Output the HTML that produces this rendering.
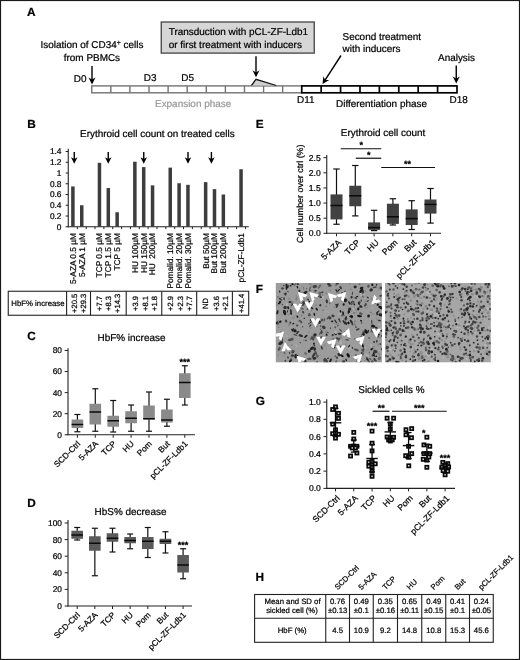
<!DOCTYPE html>
<html><head><meta charset="utf-8"><title>Figure</title>
<style>
html,body{margin:0;padding:0;background:#fff;}
svg{display:block;font-family:"Liberation Sans",sans-serif;filter:grayscale(1);}
text{font-family:"Liberation Sans",sans-serif;text-rendering:geometricPrecision;stroke:#000;stroke-width:0.22px;}
</style></head><body>
<svg width="520" height="660" viewBox="0 0 520 660">
<rect x="0" y="0" width="520" height="660" fill="#fff" stroke="none" stroke-width="1"/>
<rect x="0.5" y="0.5" width="519" height="659" fill="none" stroke="#1a1a1a" stroke-width="1.2"/>
<text x="27" y="15.5" font-size="11.8" font-weight="bold">A</text>
<text x="27.3" y="128.3" font-size="11.8" font-weight="bold">B</text>
<text x="27.3" y="339.6" font-size="11.8" font-weight="bold">C</text>
<text x="27.3" y="507.2" font-size="11.8" font-weight="bold">D</text>
<text x="255.8" y="128.3" font-size="11.8" font-weight="bold">E</text>
<text x="255.8" y="293.1" font-size="11.8" font-weight="bold">F</text>
<text x="255.8" y="404.6" font-size="11.8" font-weight="bold">G</text>
<text x="255.5" y="580.6" font-size="11.8" font-weight="bold">H</text>
<text x="40.5" y="48.4" font-size="9.95">Isolation of CD34<tspan font-size="7" dy="-3.2">+</tspan><tspan dy="3.2"> cells</tspan></text>
<text x="63.75" y="60.75" font-size="9.95">from PBMCs</text>
<line x1="92" y1="66" x2="92" y2="80.1" stroke="#000" stroke-width="1.4"/>
<polygon points="92,84.5 88.5,77.5 92,79.6 95.5,77.5" fill="#000"/>
<text x="73.75" y="82" font-size="9.95">D0</text>
<text x="143.75" y="80.75" font-size="9.95">D3</text>
<text x="181.25" y="80.75" font-size="9.95">D5</text>
<rect x="91.75" y="85.9" width="210" height="6.9" fill="#fff" stroke="#737373" stroke-width="1.4"/>
<line x1="110.84" y1="85.9" x2="110.84" y2="92.8" stroke="#737373" stroke-width="1.4"/>
<line x1="129.93" y1="85.9" x2="129.93" y2="92.8" stroke="#737373" stroke-width="1.4"/>
<line x1="149.02" y1="85.9" x2="149.02" y2="92.8" stroke="#737373" stroke-width="1.4"/>
<line x1="168.11" y1="85.9" x2="168.11" y2="92.8" stroke="#737373" stroke-width="1.4"/>
<line x1="187.2" y1="85.9" x2="187.2" y2="92.8" stroke="#737373" stroke-width="1.4"/>
<line x1="206.3" y1="85.9" x2="206.3" y2="92.8" stroke="#737373" stroke-width="1.4"/>
<line x1="225.39" y1="85.9" x2="225.39" y2="92.8" stroke="#737373" stroke-width="1.4"/>
<line x1="244.48" y1="85.9" x2="244.48" y2="92.8" stroke="#737373" stroke-width="1.4"/>
<line x1="263.57" y1="85.9" x2="263.57" y2="92.8" stroke="#737373" stroke-width="1.4"/>
<line x1="282.66" y1="85.9" x2="282.66" y2="92.8" stroke="#737373" stroke-width="1.4"/>
<rect x="301.75" y="85.9" width="155.25" height="6.9" fill="#fff" stroke="#000" stroke-width="1.7"/>
<line x1="321.16" y1="85.9" x2="321.16" y2="92.8" stroke="#000" stroke-width="1.7"/>
<line x1="340.56" y1="85.9" x2="340.56" y2="92.8" stroke="#000" stroke-width="1.7"/>
<line x1="359.97" y1="85.9" x2="359.97" y2="92.8" stroke="#000" stroke-width="1.7"/>
<line x1="379.38" y1="85.9" x2="379.38" y2="92.8" stroke="#000" stroke-width="1.7"/>
<line x1="398.78" y1="85.9" x2="398.78" y2="92.8" stroke="#000" stroke-width="1.7"/>
<line x1="418.19" y1="85.9" x2="418.19" y2="92.8" stroke="#000" stroke-width="1.7"/>
<line x1="437.59" y1="85.9" x2="437.59" y2="92.8" stroke="#000" stroke-width="1.7"/>
<text x="155" y="107.2" font-size="9.95" fill="#999" style="stroke:#999">Expansion phase</text>
<text x="336" y="107.2" font-size="9.95">Differentiation phase</text>
<text x="297" y="103" font-size="9.95">D11</text>
<text x="449.5" y="102.5" font-size="9.95">D18</text>
<rect x="161.25" y="22" width="153" height="31.1" fill="#d6d6d6" stroke="#444" stroke-width="1.3"/>
<text x="168.75" y="35.4" font-size="9.95">Transduction with pCL-ZF-Ldb1</text>
<text x="168.75" y="47.5" font-size="9.95">or first treatment with inducers</text>
<line x1="256" y1="56.2" x2="256" y2="72.9" stroke="#000" stroke-width="1.4"/>
<polygon points="256,77.3 252.5,70.3 256,72.4 259.5,70.3" fill="#000"/>
<polygon points="251.5,85.4 256,79.3 276.2,85.5" fill="#cfcfcf" stroke="none"/>
<polyline points="251.5,85.4 256,79.3 276.2,85.5" fill="none" stroke="#111" stroke-width="1.3"/>
<text x="342.5" y="40.4" font-size="9.95">Second treatment</text>
<text x="342.5" y="52" font-size="9.95">with inducers</text>
<line x1="341" y1="55.5" x2="324.9" y2="80.31" stroke="#000" stroke-width="1.4"/>
<polygon points="322.5,84 323.38,76.22 325.17,79.89 329.25,80.03" fill="#000"/>
<text x="438" y="60.75" font-size="9.95">Analysis</text>
<line x1="456.25" y1="65.5" x2="456.25" y2="79.1" stroke="#000" stroke-width="1.4"/>
<polygon points="456.25,83.5 452.75,76.5 456.25,78.6 459.75,76.5" fill="#000"/>
<text x="80" y="136.6" font-size="9.95">Erythroid cell count on treated cells</text>
<line x1="68.25" y1="148.75" x2="68.25" y2="227.25" stroke="#222" stroke-width="1.1"/>
<line x1="67.75" y1="226.75" x2="248.75" y2="226.75" stroke="#222" stroke-width="1.1"/>
<line x1="65.65" y1="226.75" x2="68.25" y2="226.75" stroke="#222" stroke-width="1"/>
<text x="61.5" y="229.65" font-size="8.35" text-anchor="end">0</text>
<line x1="65.65" y1="216" x2="68.25" y2="216" stroke="#222" stroke-width="1"/>
<text x="61.5" y="218.9" font-size="8.35" text-anchor="end">0.2</text>
<line x1="65.65" y1="205.25" x2="68.25" y2="205.25" stroke="#222" stroke-width="1"/>
<text x="61.5" y="208.15" font-size="8.35" text-anchor="end">0.4</text>
<line x1="65.65" y1="194.5" x2="68.25" y2="194.5" stroke="#222" stroke-width="1"/>
<text x="61.5" y="197.4" font-size="8.35" text-anchor="end">0.6</text>
<line x1="65.65" y1="183.75" x2="68.25" y2="183.75" stroke="#222" stroke-width="1"/>
<text x="61.5" y="186.65" font-size="8.35" text-anchor="end">0.8</text>
<line x1="65.65" y1="173" x2="68.25" y2="173" stroke="#222" stroke-width="1"/>
<text x="61.5" y="175.9" font-size="8.35" text-anchor="end">1</text>
<line x1="65.65" y1="162.25" x2="68.25" y2="162.25" stroke="#222" stroke-width="1"/>
<text x="61.5" y="165.15" font-size="8.35" text-anchor="end">1.2</text>
<line x1="65.65" y1="151.5" x2="68.25" y2="151.5" stroke="#222" stroke-width="1"/>
<text x="61.5" y="154.4" font-size="8.35" text-anchor="end">1.4</text>
<rect x="71.15" y="186.44" width="3.5" height="40.31" fill="#3d3d3d" stroke="none" stroke-width="1"/>
<rect x="80" y="205.25" width="3.5" height="21.5" fill="#3d3d3d" stroke="none" stroke-width="1"/>
<rect x="97.7" y="162.79" width="3.5" height="63.96" fill="#3d3d3d" stroke="none" stroke-width="1"/>
<rect x="106.55" y="188.05" width="3.5" height="38.7" fill="#3d3d3d" stroke="none" stroke-width="1"/>
<rect x="115.4" y="212.24" width="3.5" height="14.51" fill="#3d3d3d" stroke="none" stroke-width="1"/>
<rect x="133.1" y="161.71" width="3.5" height="65.04" fill="#3d3d3d" stroke="none" stroke-width="1"/>
<rect x="141.95" y="167.09" width="3.5" height="59.66" fill="#3d3d3d" stroke="none" stroke-width="1"/>
<rect x="150.8" y="185.36" width="3.5" height="41.39" fill="#3d3d3d" stroke="none" stroke-width="1"/>
<rect x="168.5" y="167.62" width="3.5" height="59.13" fill="#3d3d3d" stroke="none" stroke-width="1"/>
<rect x="177.35" y="183.21" width="3.5" height="43.54" fill="#3d3d3d" stroke="none" stroke-width="1"/>
<rect x="186.2" y="184.82" width="3.5" height="41.93" fill="#3d3d3d" stroke="none" stroke-width="1"/>
<rect x="203.9" y="182.14" width="3.5" height="44.61" fill="#3d3d3d" stroke="none" stroke-width="1"/>
<rect x="212.75" y="189.12" width="3.5" height="37.62" fill="#3d3d3d" stroke="none" stroke-width="1"/>
<rect x="221.6" y="194.5" width="3.5" height="32.25" fill="#3d3d3d" stroke="none" stroke-width="1"/>
<rect x="239.3" y="169.24" width="3.5" height="57.51" fill="#3d3d3d" stroke="none" stroke-width="1"/>
<line x1="77.33" y1="226.75" x2="77.33" y2="229.15" stroke="#222" stroke-width="1"/>
<line x1="86.18" y1="226.75" x2="86.18" y2="229.15" stroke="#222" stroke-width="1"/>
<line x1="95.03" y1="226.75" x2="95.03" y2="229.15" stroke="#222" stroke-width="1"/>
<line x1="103.88" y1="226.75" x2="103.88" y2="229.15" stroke="#222" stroke-width="1"/>
<line x1="112.72" y1="226.75" x2="112.72" y2="229.15" stroke="#222" stroke-width="1"/>
<line x1="121.58" y1="226.75" x2="121.58" y2="229.15" stroke="#222" stroke-width="1"/>
<line x1="130.43" y1="226.75" x2="130.43" y2="229.15" stroke="#222" stroke-width="1"/>
<line x1="139.28" y1="226.75" x2="139.28" y2="229.15" stroke="#222" stroke-width="1"/>
<line x1="148.12" y1="226.75" x2="148.12" y2="229.15" stroke="#222" stroke-width="1"/>
<line x1="156.98" y1="226.75" x2="156.98" y2="229.15" stroke="#222" stroke-width="1"/>
<line x1="165.82" y1="226.75" x2="165.82" y2="229.15" stroke="#222" stroke-width="1"/>
<line x1="174.68" y1="226.75" x2="174.68" y2="229.15" stroke="#222" stroke-width="1"/>
<line x1="183.53" y1="226.75" x2="183.53" y2="229.15" stroke="#222" stroke-width="1"/>
<line x1="192.38" y1="226.75" x2="192.38" y2="229.15" stroke="#222" stroke-width="1"/>
<line x1="201.22" y1="226.75" x2="201.22" y2="229.15" stroke="#222" stroke-width="1"/>
<line x1="210.07" y1="226.75" x2="210.07" y2="229.15" stroke="#222" stroke-width="1"/>
<line x1="218.93" y1="226.75" x2="218.93" y2="229.15" stroke="#222" stroke-width="1"/>
<line x1="227.78" y1="226.75" x2="227.78" y2="229.15" stroke="#222" stroke-width="1"/>
<line x1="236.62" y1="226.75" x2="236.62" y2="229.15" stroke="#222" stroke-width="1"/>
<line x1="245.47" y1="226.75" x2="245.47" y2="229.15" stroke="#222" stroke-width="1"/>
<line x1="74.25" y1="152" x2="74.25" y2="159.5" stroke="#000" stroke-width="1.4"/>
<polygon points="74.25,163.7 71,157.2 74.25,159 77.5,157.2" fill="#000"/>
<line x1="108.25" y1="152" x2="108.25" y2="159.5" stroke="#000" stroke-width="1.4"/>
<polygon points="108.25,163.7 105,157.2 108.25,159 111.5,157.2" fill="#000"/>
<line x1="143.75" y1="152" x2="143.75" y2="159.5" stroke="#000" stroke-width="1.4"/>
<polygon points="143.75,163.7 140.5,157.2 143.75,159 147,157.2" fill="#000"/>
<line x1="188" y1="152" x2="188" y2="159.5" stroke="#000" stroke-width="1.4"/>
<polygon points="188,163.7 184.75,157.2 188,159 191.25,157.2" fill="#000"/>
<line x1="211.4" y1="152" x2="211.4" y2="159.5" stroke="#000" stroke-width="1.4"/>
<polygon points="211.4,163.7 208.15,157.2 211.4,159 214.65,157.2" fill="#000"/>
<text transform="translate(75.8 233.1) rotate(-90)" font-size="8.3" text-anchor="end">5-AZA 0.5 µM</text>
<text transform="translate(84.65 233.1) rotate(-90)" font-size="8.3" text-anchor="end">5-AZA 1 µM</text>
<text transform="translate(102.35 233.1) rotate(-90)" font-size="8.3" text-anchor="end">TCP 0.5 µM</text>
<text transform="translate(111.2 233.1) rotate(-90)" font-size="8.3" text-anchor="end">TCP 1.5 µM</text>
<text transform="translate(120.05 233.1) rotate(-90)" font-size="8.3" text-anchor="end">TCP 5 µM</text>
<text transform="translate(137.75 233.1) rotate(-90)" font-size="8.3" text-anchor="end">HU 100µM</text>
<text transform="translate(146.6 233.1) rotate(-90)" font-size="8.3" text-anchor="end">HU 150µM</text>
<text transform="translate(155.45 233.1) rotate(-90)" font-size="8.3" text-anchor="end">HU&#160;&#160;200µM</text>
<text transform="translate(173.15 233.1) rotate(-90)" font-size="8.3" text-anchor="end">Pomalid. 10µM</text>
<text transform="translate(182 233.1) rotate(-90)" font-size="8.3" text-anchor="end">Pomalid. 20µM</text>
<text transform="translate(190.85 233.1) rotate(-90)" font-size="8.3" text-anchor="end">Pomalid. 30µM</text>
<text transform="translate(208.55 233.1) rotate(-90)" font-size="8.3" text-anchor="end">But 50µM</text>
<text transform="translate(217.4 233.1) rotate(-90)" font-size="8.3" text-anchor="end">But 100µM</text>
<text transform="translate(226.25 233.1) rotate(-90)" font-size="8.3" text-anchor="end">But 200µM</text>
<text transform="translate(243.95 233.1) rotate(-90)" font-size="8.3" text-anchor="end">pCL-ZF-Ldb1</text>
<rect x="8.25" y="291.25" width="240.45" height="24" fill="none" stroke="#222" stroke-width="1.1"/>
<line x1="66.6" y1="291.25" x2="66.6" y2="315.25" stroke="#222" stroke-width="1.1"/>
<line x1="90.5" y1="291.25" x2="90.5" y2="315.25" stroke="#222" stroke-width="1.1"/>
<line x1="126.2" y1="291.25" x2="126.2" y2="315.25" stroke="#222" stroke-width="1.1"/>
<line x1="161.75" y1="291.25" x2="161.75" y2="315.25" stroke="#222" stroke-width="1.1"/>
<line x1="196.7" y1="291.25" x2="196.7" y2="315.25" stroke="#222" stroke-width="1.1"/>
<line x1="232.4" y1="291.25" x2="232.4" y2="315.25" stroke="#222" stroke-width="1.1"/>
<text x="11.25" y="305.7" font-size="7.8">HbF% increase</text>
<text transform="translate(76.9 303.4) rotate(-90)" font-size="7.6" text-anchor="middle">+20.5</text>
<text transform="translate(86.35 303.4) rotate(-90)" font-size="7.6" text-anchor="middle">+29.3</text>
<text transform="translate(102.45 303.4) rotate(-90)" font-size="7.6" text-anchor="middle">+7.7</text>
<text transform="translate(111 303.4) rotate(-90)" font-size="7.6" text-anchor="middle">+8.3</text>
<text transform="translate(120.15 303.4) rotate(-90)" font-size="7.6" text-anchor="middle">+14.3</text>
<text transform="translate(137.95 303.4) rotate(-90)" font-size="7.6" text-anchor="middle">+3.9</text>
<text transform="translate(147.8 303.4) rotate(-90)" font-size="7.6" text-anchor="middle">+8.1</text>
<text transform="translate(156.75 303.4) rotate(-90)" font-size="7.6" text-anchor="middle">+1.8</text>
<text transform="translate(172.95 303.4) rotate(-90)" font-size="7.6" text-anchor="middle">+2.9</text>
<text transform="translate(182.5 303.4) rotate(-90)" font-size="7.6" text-anchor="middle">+2.3</text>
<text transform="translate(191.75 303.4) rotate(-90)" font-size="7.6" text-anchor="middle">+7.7</text>
<text transform="translate(208.35 303.4) rotate(-90)" font-size="7.6" text-anchor="middle">ND</text>
<text transform="translate(218.6 303.4) rotate(-90)" font-size="7.6" text-anchor="middle">+3.6</text>
<text transform="translate(227.55 303.4) rotate(-90)" font-size="7.6" text-anchor="middle">+2.1</text>
<text transform="translate(243.75 303.4) rotate(-90)" font-size="7.6" text-anchor="middle">+41.4</text>
<text x="97.5" y="341.1" font-size="9.95">HbF% increase</text>
<line x1="68" y1="348.25" x2="68" y2="435.25" stroke="#222" stroke-width="1.1"/>
<line x1="67.5" y1="434.75" x2="195" y2="434.75" stroke="#222" stroke-width="1.1"/>
<line x1="64.7" y1="434.75" x2="68" y2="434.75" stroke="#222" stroke-width="1"/>
<text x="62" y="437.65" font-size="8.35" text-anchor="end">0</text>
<line x1="64.7" y1="413.68" x2="68" y2="413.68" stroke="#222" stroke-width="1"/>
<text x="62" y="416.58" font-size="8.35" text-anchor="end">20</text>
<line x1="64.7" y1="392.61" x2="68" y2="392.61" stroke="#222" stroke-width="1"/>
<text x="62" y="395.51" font-size="8.35" text-anchor="end">40</text>
<line x1="64.7" y1="371.54" x2="68" y2="371.54" stroke="#222" stroke-width="1"/>
<text x="62" y="374.44" font-size="8.35" text-anchor="end">60</text>
<line x1="64.7" y1="350.47" x2="68" y2="350.47" stroke="#222" stroke-width="1"/>
<text x="62" y="353.37" font-size="8.35" text-anchor="end">80</text>
<line x1="77.4" y1="414.5" x2="77.4" y2="431.75" stroke="#111" stroke-width="1.2"/>
<line x1="74.4" y1="414.5" x2="80.4" y2="414.5" stroke="#111" stroke-width="1.2"/>
<line x1="74.4" y1="431.75" x2="80.4" y2="431.75" stroke="#111" stroke-width="1.2"/>
<rect x="71.6" y="419.5" width="11.6" height="8.5" fill="#8a8a8a" stroke="none" stroke-width="1"/>
<line x1="71.6" y1="424.5" x2="83.2" y2="424.5" stroke="#0a0a0a" stroke-width="1.5"/>
<line x1="95.3" y1="388.75" x2="95.3" y2="431.25" stroke="#111" stroke-width="1.2"/>
<line x1="92.3" y1="388.75" x2="98.3" y2="388.75" stroke="#111" stroke-width="1.2"/>
<line x1="92.3" y1="431.25" x2="98.3" y2="431.25" stroke="#111" stroke-width="1.2"/>
<rect x="89.5" y="403.75" width="11.6" height="20.75" fill="#8a8a8a" stroke="none" stroke-width="1"/>
<line x1="89.5" y1="412" x2="101.1" y2="412" stroke="#0a0a0a" stroke-width="1.5"/>
<line x1="113.2" y1="400.5" x2="113.2" y2="432" stroke="#111" stroke-width="1.2"/>
<line x1="110.2" y1="400.5" x2="116.2" y2="400.5" stroke="#111" stroke-width="1.2"/>
<line x1="110.2" y1="432" x2="116.2" y2="432" stroke="#111" stroke-width="1.2"/>
<rect x="107.4" y="415.75" width="11.6" height="11" fill="#8a8a8a" stroke="none" stroke-width="1"/>
<line x1="107.4" y1="420.75" x2="119" y2="420.75" stroke="#0a0a0a" stroke-width="1.5"/>
<line x1="131.1" y1="405" x2="131.1" y2="431.25" stroke="#111" stroke-width="1.2"/>
<line x1="128.1" y1="405" x2="134.1" y2="405" stroke="#111" stroke-width="1.2"/>
<line x1="128.1" y1="431.25" x2="134.1" y2="431.25" stroke="#111" stroke-width="1.2"/>
<rect x="125.3" y="411.25" width="11.6" height="12" fill="#8a8a8a" stroke="none" stroke-width="1"/>
<line x1="125.3" y1="418.25" x2="136.9" y2="418.25" stroke="#0a0a0a" stroke-width="1.5"/>
<line x1="149" y1="392" x2="149" y2="431.25" stroke="#111" stroke-width="1.2"/>
<line x1="146" y1="392" x2="152" y2="392" stroke="#111" stroke-width="1.2"/>
<line x1="146" y1="431.25" x2="152" y2="431.25" stroke="#111" stroke-width="1.2"/>
<rect x="143.2" y="405.5" width="11.6" height="14" fill="#8a8a8a" stroke="none" stroke-width="1"/>
<line x1="143.2" y1="418.75" x2="154.8" y2="418.75" stroke="#0a0a0a" stroke-width="1.5"/>
<line x1="166.9" y1="399.25" x2="166.9" y2="426.25" stroke="#111" stroke-width="1.2"/>
<line x1="163.9" y1="399.25" x2="169.9" y2="399.25" stroke="#111" stroke-width="1.2"/>
<line x1="163.9" y1="426.25" x2="169.9" y2="426.25" stroke="#111" stroke-width="1.2"/>
<rect x="161.1" y="409.5" width="11.6" height="13" fill="#8a8a8a" stroke="none" stroke-width="1"/>
<line x1="161.1" y1="420" x2="172.7" y2="420" stroke="#0a0a0a" stroke-width="1.5"/>
<line x1="184.8" y1="365.75" x2="184.8" y2="405" stroke="#111" stroke-width="1.2"/>
<line x1="181.8" y1="365.75" x2="187.8" y2="365.75" stroke="#111" stroke-width="1.2"/>
<line x1="181.8" y1="405" x2="187.8" y2="405" stroke="#111" stroke-width="1.2"/>
<rect x="179" y="373.25" width="11.6" height="24.75" fill="#8a8a8a" stroke="none" stroke-width="1"/>
<line x1="179" y1="382.5" x2="190.6" y2="382.5" stroke="#0a0a0a" stroke-width="1.5"/>
<text x="184.8" y="365" font-size="9" text-anchor="middle" font-weight="bold">***</text>
<line x1="77.4" y1="434.75" x2="77.4" y2="437.75" stroke="#222" stroke-width="1"/>
<text transform="translate(80.8 444.35) rotate(-45)" font-size="8.3" text-anchor="end">SCD-Ctrl</text>
<line x1="95.3" y1="434.75" x2="95.3" y2="437.75" stroke="#222" stroke-width="1"/>
<text transform="translate(98.7 444.35) rotate(-45)" font-size="8.3" text-anchor="end">5-AZA</text>
<line x1="113.2" y1="434.75" x2="113.2" y2="437.75" stroke="#222" stroke-width="1"/>
<text transform="translate(116.6 444.35) rotate(-45)" font-size="8.3" text-anchor="end">TCP</text>
<line x1="131.1" y1="434.75" x2="131.1" y2="437.75" stroke="#222" stroke-width="1"/>
<text transform="translate(134.5 444.35) rotate(-45)" font-size="8.3" text-anchor="end">HU</text>
<line x1="149" y1="434.75" x2="149" y2="437.75" stroke="#222" stroke-width="1"/>
<text transform="translate(152.4 444.35) rotate(-45)" font-size="8.3" text-anchor="end">Pom</text>
<line x1="166.9" y1="434.75" x2="166.9" y2="437.75" stroke="#222" stroke-width="1"/>
<text transform="translate(170.3 444.35) rotate(-45)" font-size="8.3" text-anchor="end">But</text>
<line x1="184.8" y1="434.75" x2="184.8" y2="437.75" stroke="#222" stroke-width="1"/>
<text transform="translate(188.2 444.35) rotate(-45)" font-size="8.3" text-anchor="end">pCL-ZF-Ldb1</text>
<text x="94.6" y="515" font-size="9.95">HbS% decrease</text>
<line x1="68" y1="520" x2="68" y2="606.5" stroke="#222" stroke-width="1.1"/>
<line x1="67.5" y1="606" x2="192" y2="606" stroke="#222" stroke-width="1.1"/>
<line x1="64.7" y1="606" x2="68" y2="606" stroke="#222" stroke-width="1"/>
<text x="62" y="608.9" font-size="8.35" text-anchor="end">0</text>
<line x1="64.7" y1="589.4" x2="68" y2="589.4" stroke="#222" stroke-width="1"/>
<text x="62" y="592.3" font-size="8.35" text-anchor="end">20</text>
<line x1="64.7" y1="572.8" x2="68" y2="572.8" stroke="#222" stroke-width="1"/>
<text x="62" y="575.7" font-size="8.35" text-anchor="end">40</text>
<line x1="64.7" y1="556.2" x2="68" y2="556.2" stroke="#222" stroke-width="1"/>
<text x="62" y="559.1" font-size="8.35" text-anchor="end">60</text>
<line x1="64.7" y1="539.6" x2="68" y2="539.6" stroke="#222" stroke-width="1"/>
<text x="62" y="542.5" font-size="8.35" text-anchor="end">80</text>
<line x1="64.7" y1="523" x2="68" y2="523" stroke="#222" stroke-width="1"/>
<text x="62" y="525.9" font-size="8.35" text-anchor="end">100</text>
<line x1="77.2" y1="527.5" x2="77.2" y2="540" stroke="#111" stroke-width="1.2"/>
<line x1="74.2" y1="527.5" x2="80.2" y2="527.5" stroke="#111" stroke-width="1.2"/>
<line x1="74.2" y1="540" x2="80.2" y2="540" stroke="#111" stroke-width="1.2"/>
<rect x="71.4" y="530.75" width="11.6" height="8" fill="#5a5a5a" stroke="none" stroke-width="1"/>
<line x1="71.4" y1="535" x2="83" y2="535" stroke="#0a0a0a" stroke-width="1.5"/>
<line x1="94.85" y1="528.25" x2="94.85" y2="575.75" stroke="#111" stroke-width="1.2"/>
<line x1="91.85" y1="528.25" x2="97.85" y2="528.25" stroke="#111" stroke-width="1.2"/>
<line x1="91.85" y1="575.75" x2="97.85" y2="575.75" stroke="#111" stroke-width="1.2"/>
<rect x="89.05" y="536.25" width="11.6" height="14.5" fill="#5a5a5a" stroke="none" stroke-width="1"/>
<line x1="89.05" y1="543.25" x2="100.65" y2="543.25" stroke="#0a0a0a" stroke-width="1.5"/>
<line x1="112.5" y1="528.25" x2="112.5" y2="552" stroke="#111" stroke-width="1.2"/>
<line x1="109.5" y1="528.25" x2="115.5" y2="528.25" stroke="#111" stroke-width="1.2"/>
<line x1="109.5" y1="552" x2="115.5" y2="552" stroke="#111" stroke-width="1.2"/>
<rect x="106.7" y="533.25" width="11.6" height="8.5" fill="#5a5a5a" stroke="none" stroke-width="1"/>
<line x1="106.7" y1="538.25" x2="118.3" y2="538.25" stroke="#0a0a0a" stroke-width="1.5"/>
<line x1="130.15" y1="534" x2="130.15" y2="548.75" stroke="#111" stroke-width="1.2"/>
<line x1="127.15" y1="534" x2="133.15" y2="534" stroke="#111" stroke-width="1.2"/>
<line x1="127.15" y1="548.75" x2="133.15" y2="548.75" stroke="#111" stroke-width="1.2"/>
<rect x="124.35" y="537" width="11.6" height="6.25" fill="#5a5a5a" stroke="none" stroke-width="1"/>
<line x1="124.35" y1="540.5" x2="135.95" y2="540.5" stroke="#0a0a0a" stroke-width="1.5"/>
<line x1="147.8" y1="527.5" x2="147.8" y2="557.5" stroke="#111" stroke-width="1.2"/>
<line x1="144.8" y1="527.5" x2="150.8" y2="527.5" stroke="#111" stroke-width="1.2"/>
<line x1="144.8" y1="557.5" x2="150.8" y2="557.5" stroke="#111" stroke-width="1.2"/>
<rect x="142" y="537" width="11.6" height="12" fill="#5a5a5a" stroke="none" stroke-width="1"/>
<line x1="142" y1="541.25" x2="153.6" y2="541.25" stroke="#0a0a0a" stroke-width="1.5"/>
<line x1="165.45" y1="531.75" x2="165.45" y2="553" stroke="#111" stroke-width="1.2"/>
<line x1="162.45" y1="531.75" x2="168.45" y2="531.75" stroke="#111" stroke-width="1.2"/>
<line x1="162.45" y1="553" x2="168.45" y2="553" stroke="#111" stroke-width="1.2"/>
<rect x="159.65" y="538.75" width="11.6" height="5.25" fill="#5a5a5a" stroke="none" stroke-width="1"/>
<line x1="159.65" y1="541.25" x2="171.25" y2="541.25" stroke="#0a0a0a" stroke-width="1.5"/>
<line x1="183.1" y1="548.75" x2="183.1" y2="578.75" stroke="#111" stroke-width="1.2"/>
<line x1="180.1" y1="548.75" x2="186.1" y2="548.75" stroke="#111" stroke-width="1.2"/>
<line x1="180.1" y1="578.75" x2="186.1" y2="578.75" stroke="#111" stroke-width="1.2"/>
<rect x="177.3" y="555" width="11.6" height="17.5" fill="#5a5a5a" stroke="none" stroke-width="1"/>
<line x1="177.3" y1="565" x2="188.9" y2="565" stroke="#0a0a0a" stroke-width="1.5"/>
<text x="183.1" y="547.5" font-size="9" text-anchor="middle" font-weight="bold">***</text>
<line x1="77.2" y1="606" x2="77.2" y2="609" stroke="#222" stroke-width="1"/>
<text transform="translate(80.6 615.6) rotate(-45)" font-size="8.3" text-anchor="end">SCD-Ctrl</text>
<line x1="94.85" y1="606" x2="94.85" y2="609" stroke="#222" stroke-width="1"/>
<text transform="translate(98.25 615.6) rotate(-45)" font-size="8.3" text-anchor="end">5-AZA</text>
<line x1="112.5" y1="606" x2="112.5" y2="609" stroke="#222" stroke-width="1"/>
<text transform="translate(115.9 615.6) rotate(-45)" font-size="8.3" text-anchor="end">TCP</text>
<line x1="130.15" y1="606" x2="130.15" y2="609" stroke="#222" stroke-width="1"/>
<text transform="translate(133.55 615.6) rotate(-45)" font-size="8.3" text-anchor="end">HU</text>
<line x1="147.8" y1="606" x2="147.8" y2="609" stroke="#222" stroke-width="1"/>
<text transform="translate(151.2 615.6) rotate(-45)" font-size="8.3" text-anchor="end">Pom</text>
<line x1="165.45" y1="606" x2="165.45" y2="609" stroke="#222" stroke-width="1"/>
<text transform="translate(168.85 615.6) rotate(-45)" font-size="8.3" text-anchor="end">But</text>
<line x1="183.1" y1="606" x2="183.1" y2="609" stroke="#222" stroke-width="1"/>
<text transform="translate(186.5 615.6) rotate(-45)" font-size="8.3" text-anchor="end">pCL-ZF-Ldb1</text>
<text x="340.75" y="135.75" font-size="9.95">Erythroid cell count</text>
<line x1="326.75" y1="155" x2="326.75" y2="233.8" stroke="#222" stroke-width="1.1"/>
<line x1="326.25" y1="233.3" x2="441" y2="233.3" stroke="#222" stroke-width="1.1"/>
<line x1="323.45" y1="233.3" x2="326.75" y2="233.3" stroke="#222" stroke-width="1"/>
<text x="320.7" y="236.3" font-size="8.6" text-anchor="end">0.0</text>
<line x1="323.45" y1="218.18" x2="326.75" y2="218.18" stroke="#222" stroke-width="1"/>
<text x="320.7" y="221.18" font-size="8.6" text-anchor="end">0.5</text>
<line x1="323.45" y1="203.05" x2="326.75" y2="203.05" stroke="#222" stroke-width="1"/>
<text x="320.7" y="206.05" font-size="8.6" text-anchor="end">1.0</text>
<line x1="323.45" y1="187.93" x2="326.75" y2="187.93" stroke="#222" stroke-width="1"/>
<text x="320.7" y="190.93" font-size="8.6" text-anchor="end">1.5</text>
<line x1="323.45" y1="172.8" x2="326.75" y2="172.8" stroke="#222" stroke-width="1"/>
<text x="320.7" y="175.8" font-size="8.6" text-anchor="end">2.0</text>
<line x1="323.45" y1="157.68" x2="326.75" y2="157.68" stroke="#222" stroke-width="1"/>
<text x="320.7" y="160.68" font-size="8.6" text-anchor="end">2.5</text>
<text transform="translate(303.3 243) rotate(-90)" font-size="8.8" textLength="98.5" lengthAdjust="spacingAndGlyphs">Cell number over ctrl (%)</text>
<line x1="336.5" y1="169" x2="336.5" y2="224.25" stroke="#111" stroke-width="1.2"/>
<line x1="333.3" y1="169" x2="339.7" y2="169" stroke="#111" stroke-width="1.2"/>
<line x1="333.3" y1="224.25" x2="339.7" y2="224.25" stroke="#111" stroke-width="1.2"/>
<rect x="330.5" y="194.4" width="12" height="25" fill="#414141" stroke="none" stroke-width="1"/>
<line x1="330.5" y1="205.5" x2="342.5" y2="205.5" stroke="#0a0a0a" stroke-width="1.5"/>
<line x1="355.3" y1="165.5" x2="355.3" y2="215.9" stroke="#111" stroke-width="1.2"/>
<line x1="352.1" y1="165.5" x2="358.5" y2="165.5" stroke="#111" stroke-width="1.2"/>
<line x1="352.1" y1="215.9" x2="358.5" y2="215.9" stroke="#111" stroke-width="1.2"/>
<rect x="349.3" y="185.75" width="12" height="20.5" fill="#414141" stroke="none" stroke-width="1"/>
<line x1="349.3" y1="195.75" x2="361.3" y2="195.75" stroke="#0a0a0a" stroke-width="1.5"/>
<line x1="374.1" y1="210.3" x2="374.1" y2="230.6" stroke="#111" stroke-width="1.2"/>
<line x1="370.9" y1="210.3" x2="377.3" y2="210.3" stroke="#111" stroke-width="1.2"/>
<line x1="370.9" y1="230.6" x2="377.3" y2="230.6" stroke="#111" stroke-width="1.2"/>
<rect x="368.1" y="222.4" width="12" height="7.5" fill="#414141" stroke="none" stroke-width="1"/>
<line x1="368.1" y1="227.6" x2="380.1" y2="227.6" stroke="#0a0a0a" stroke-width="1.5"/>
<line x1="392.9" y1="198.75" x2="392.9" y2="225" stroke="#111" stroke-width="1.2"/>
<line x1="389.7" y1="198.75" x2="396.1" y2="198.75" stroke="#111" stroke-width="1.2"/>
<line x1="389.7" y1="225" x2="396.1" y2="225" stroke="#111" stroke-width="1.2"/>
<rect x="386.9" y="203.7" width="12" height="20.2" fill="#414141" stroke="none" stroke-width="1"/>
<line x1="386.9" y1="216.8" x2="398.9" y2="216.8" stroke="#0a0a0a" stroke-width="1.5"/>
<line x1="411.7" y1="200.7" x2="411.7" y2="229.5" stroke="#111" stroke-width="1.2"/>
<line x1="408.5" y1="200.7" x2="414.9" y2="200.7" stroke="#111" stroke-width="1.2"/>
<line x1="408.5" y1="229.5" x2="414.9" y2="229.5" stroke="#111" stroke-width="1.2"/>
<rect x="405.7" y="209.4" width="12" height="15.6" fill="#414141" stroke="none" stroke-width="1"/>
<line x1="405.7" y1="218.6" x2="417.7" y2="218.6" stroke="#0a0a0a" stroke-width="1.5"/>
<line x1="430.5" y1="188.5" x2="430.5" y2="223.1" stroke="#111" stroke-width="1.2"/>
<line x1="427.3" y1="188.5" x2="433.7" y2="188.5" stroke="#111" stroke-width="1.2"/>
<line x1="427.3" y1="223.1" x2="433.7" y2="223.1" stroke="#111" stroke-width="1.2"/>
<rect x="424.5" y="199.5" width="12" height="14.1" fill="#414141" stroke="none" stroke-width="1"/>
<line x1="424.5" y1="204.4" x2="436.5" y2="204.4" stroke="#0a0a0a" stroke-width="1.5"/>
<line x1="340.75" y1="148.75" x2="381.25" y2="148.75" stroke="#111" stroke-width="1.2"/>
<text x="361.25" y="148" font-size="9" text-anchor="middle" font-weight="bold">*</text>
<line x1="355.75" y1="158.25" x2="381.25" y2="158.25" stroke="#111" stroke-width="1.2"/>
<text x="368.75" y="157.5" font-size="9" text-anchor="middle" font-weight="bold">*</text>
<line x1="381.25" y1="167.5" x2="435" y2="167.5" stroke="#111" stroke-width="1.2"/>
<text x="407.5" y="166.8" font-size="9" text-anchor="middle" font-weight="bold">**</text>
<line x1="336.5" y1="233.3" x2="336.5" y2="236.3" stroke="#222" stroke-width="1"/>
<text transform="translate(341.7 243.1) rotate(-45)" font-size="8.6" text-anchor="end">5-AZA</text>
<line x1="355.3" y1="233.3" x2="355.3" y2="236.3" stroke="#222" stroke-width="1"/>
<text transform="translate(360.5 243.1) rotate(-45)" font-size="8.6" text-anchor="end">TCP</text>
<line x1="374.1" y1="233.3" x2="374.1" y2="236.3" stroke="#222" stroke-width="1"/>
<text transform="translate(379.3 243.1) rotate(-45)" font-size="8.6" text-anchor="end">HU</text>
<line x1="392.9" y1="233.3" x2="392.9" y2="236.3" stroke="#222" stroke-width="1"/>
<text transform="translate(398.1 243.1) rotate(-45)" font-size="8.6" text-anchor="end">Pom</text>
<line x1="411.7" y1="233.3" x2="411.7" y2="236.3" stroke="#222" stroke-width="1"/>
<text transform="translate(416.9 243.1) rotate(-45)" font-size="8.6" text-anchor="end">But</text>
<line x1="430.5" y1="233.3" x2="430.5" y2="236.3" stroke="#222" stroke-width="1"/>
<text transform="translate(435.7 243.1) rotate(-45)" font-size="8.6" text-anchor="end">pCL-ZF-Ldb1</text>
<clipPath id="clip12"><rect x="275.8" y="283" width="106.1" height="79.3"/></clipPath>
<rect x="275.8" y="283" width="106.1" height="79.3" fill="#9c9c9c" stroke="none" stroke-width="1"/>
<g clip-path="url(#clip12)">
<ellipse cx="326.15" cy="335.14" rx="1.39" ry="1.26" fill="#858585" transform="rotate(86 326.15 335.14)"/>
<ellipse cx="344.07" cy="319.5" rx="1.79" ry="1.16" fill="#858585" transform="rotate(26 344.07 319.5)"/>
<ellipse cx="322.49" cy="295.87" rx="1.86" ry="0.84" fill="#888" transform="rotate(92 322.49 295.87)"/>
<ellipse cx="362.72" cy="337.04" rx="1.03" ry="0.69" fill="#888" transform="rotate(164 362.72 337.04)"/>
<ellipse cx="329.8" cy="290.21" rx="1.27" ry="1.05" fill="#8c8c8c" transform="rotate(24 329.8 290.21)"/>
<ellipse cx="308.96" cy="332.28" rx="1.12" ry="0.65" fill="#888" transform="rotate(15 308.96 332.28)"/>
<ellipse cx="340.25" cy="335.98" rx="1.4" ry="0.91" fill="#8c8c8c" transform="rotate(14 340.25 335.98)"/>
<ellipse cx="296.16" cy="345.43" rx="1.49" ry="0.65" fill="#b0b0b0" transform="rotate(55 296.16 345.43)"/>
<ellipse cx="302.58" cy="309.58" rx="0.8" ry="0.94" fill="#858585" transform="rotate(77 302.58 309.58)"/>
<ellipse cx="330.87" cy="300.62" rx="1.01" ry="0.86" fill="#8c8c8c" transform="rotate(135 330.87 300.62)"/>
<ellipse cx="299.21" cy="289.18" rx="0.97" ry="0.63" fill="#8c8c8c" transform="rotate(114 299.21 289.18)"/>
<ellipse cx="281.32" cy="319.42" rx="1.07" ry="0.77" fill="#b0b0b0" transform="rotate(153 281.32 319.42)"/>
<ellipse cx="301.25" cy="361.39" rx="1.01" ry="0.98" fill="#b0b0b0" transform="rotate(39 301.25 361.39)"/>
<ellipse cx="340.19" cy="358.15" rx="1.32" ry="1.3" fill="#b0b0b0" transform="rotate(90 340.19 358.15)"/>
<ellipse cx="302.07" cy="292.2" rx="0.79" ry="0.67" fill="#858585" transform="rotate(141 302.07 292.2)"/>
<ellipse cx="364.07" cy="333.71" rx="1.12" ry="0.62" fill="#8c8c8c" transform="rotate(123 364.07 333.71)"/>
<ellipse cx="323" cy="341.59" rx="1.1" ry="1.07" fill="#888" transform="rotate(92 323 341.59)"/>
<ellipse cx="349.64" cy="338.88" rx="1.14" ry="0.45" fill="#b0b0b0" transform="rotate(0 349.64 338.88)"/>
<ellipse cx="278.69" cy="327.25" rx="0.93" ry="0.68" fill="#858585" transform="rotate(176 278.69 327.25)"/>
<ellipse cx="335.21" cy="332.54" rx="2.13" ry="1.01" fill="#b0b0b0" transform="rotate(105 335.21 332.54)"/>
<ellipse cx="371.39" cy="345.59" rx="2" ry="0.97" fill="#b0b0b0" transform="rotate(69 371.39 345.59)"/>
<ellipse cx="292.87" cy="337.62" rx="1.31" ry="0.83" fill="#888" transform="rotate(163 292.87 337.62)"/>
<ellipse cx="332.56" cy="345.58" rx="1.48" ry="0.6" fill="#888" transform="rotate(48 332.56 345.58)"/>
<ellipse cx="359.93" cy="337.45" rx="1.06" ry="0.89" fill="#888" transform="rotate(122 359.93 337.45)"/>
<ellipse cx="337.41" cy="288.69" rx="1.43" ry="0.56" fill="#888" transform="rotate(16 337.41 288.69)"/>
<ellipse cx="308.95" cy="338.17" rx="1.45" ry="0.65" fill="#8c8c8c" transform="rotate(87 308.95 338.17)"/>
<ellipse cx="322.88" cy="297.22" rx="1.48" ry="1.19" fill="#b0b0b0" transform="rotate(17 322.88 297.22)"/>
<ellipse cx="299.6" cy="359.44" rx="1.44" ry="0.65" fill="#858585" transform="rotate(92 299.6 359.44)"/>
<ellipse cx="291.36" cy="354.58" rx="1.12" ry="0.75" fill="#8c8c8c" transform="rotate(127 291.36 354.58)"/>
<ellipse cx="324.62" cy="345.29" rx="0.9" ry="0.67" fill="#858585" transform="rotate(142 324.62 345.29)"/>
<ellipse cx="331.12" cy="317.89" rx="1.01" ry="0.67" fill="#888" transform="rotate(63 331.12 317.89)"/>
<ellipse cx="353.49" cy="308.56" rx="1.52" ry="0.64" fill="#b0b0b0" transform="rotate(85 353.49 308.56)"/>
<ellipse cx="360.78" cy="293.67" rx="1.7" ry="0.71" fill="#8c8c8c" transform="rotate(168 360.78 293.67)"/>
<ellipse cx="339.33" cy="313.85" rx="1.25" ry="0.87" fill="#b0b0b0" transform="rotate(5 339.33 313.85)"/>
<ellipse cx="345.64" cy="346.13" rx="1.39" ry="0.64" fill="#8c8c8c" transform="rotate(73 345.64 346.13)"/>
<ellipse cx="316.09" cy="313.5" rx="0.95" ry="0.62" fill="#858585" transform="rotate(45 316.09 313.5)"/>
<ellipse cx="378.83" cy="324.45" rx="1.33" ry="0.76" fill="#b0b0b0" transform="rotate(138 378.83 324.45)"/>
<ellipse cx="366.93" cy="307.67" rx="1.8" ry="0.71" fill="#888" transform="rotate(145 366.93 307.67)"/>
<ellipse cx="296.53" cy="298.61" rx="2.29" ry="1.21" fill="#858585" transform="rotate(98 296.53 298.61)"/>
<ellipse cx="278.1" cy="355.23" rx="1.29" ry="0.74" fill="#8c8c8c" transform="rotate(94 278.1 355.23)"/>
<ellipse cx="344.92" cy="346.5" rx="1.35" ry="0.92" fill="#b0b0b0" transform="rotate(69 344.92 346.5)"/>
<ellipse cx="319.82" cy="323.97" rx="0.99" ry="0.72" fill="#b0b0b0" transform="rotate(136 319.82 323.97)"/>
<ellipse cx="314.68" cy="291.17" rx="1.76" ry="1.37" fill="#8c8c8c" transform="rotate(67 314.68 291.17)"/>
<ellipse cx="283.42" cy="355.71" rx="0.86" ry="0.53" fill="#858585" transform="rotate(10 283.42 355.71)"/>
<ellipse cx="276.69" cy="302.79" rx="1.1" ry="0.66" fill="#888" transform="rotate(144 276.69 302.79)"/>
<ellipse cx="342.56" cy="319.55" rx="1.52" ry="0.69" fill="#b0b0b0" transform="rotate(118 342.56 319.55)"/>
<ellipse cx="311.59" cy="287.66" rx="1.19" ry="0.73" fill="#b0b0b0" transform="rotate(87 311.59 287.66)"/>
<ellipse cx="290.3" cy="305.03" rx="1.09" ry="0.78" fill="#888" transform="rotate(148 290.3 305.03)"/>
<ellipse cx="356.15" cy="309.94" rx="1.11" ry="0.99" fill="#8c8c8c" transform="rotate(114 356.15 309.94)"/>
<ellipse cx="341.53" cy="288.1" rx="1.34" ry="0.55" fill="#b0b0b0" transform="rotate(97 341.53 288.1)"/>
<ellipse cx="376.84" cy="342.07" rx="1.59" ry="0.51" fill="#8c8c8c" transform="rotate(105 376.84 342.07)"/>
<ellipse cx="328.05" cy="311.76" rx="0.96" ry="0.56" fill="#b0b0b0" transform="rotate(63 328.05 311.76)"/>
<ellipse cx="381.64" cy="309.2" rx="0.92" ry="0.92" fill="#8c8c8c" transform="rotate(160 381.64 309.2)"/>
<ellipse cx="375.57" cy="332.21" rx="1.25" ry="0.8" fill="#858585" transform="rotate(118 375.57 332.21)"/>
<ellipse cx="317.95" cy="323.9" rx="1.91" ry="0.94" fill="#888" transform="rotate(155 317.95 323.9)"/>
<ellipse cx="293.17" cy="321.5" rx="0.75" ry="0.58" fill="#b0b0b0" transform="rotate(50 293.17 321.5)"/>
<ellipse cx="365.05" cy="301.49" rx="1.22" ry="0.71" fill="#888" transform="rotate(86 365.05 301.49)"/>
<ellipse cx="377.56" cy="319.35" rx="1.7" ry="1" fill="#8c8c8c" transform="rotate(49 377.56 319.35)"/>
<ellipse cx="371.61" cy="298.58" rx="1.46" ry="0.99" fill="#8c8c8c" transform="rotate(110 371.61 298.58)"/>
<ellipse cx="351.59" cy="311.17" rx="0.8" ry="0.82" fill="#888" transform="rotate(52 351.59 311.17)"/>
<ellipse cx="347.1" cy="305.99" rx="1.44" ry="0.64" fill="#8c8c8c" transform="rotate(76 347.1 305.99)"/>
<ellipse cx="363.97" cy="294.28" rx="1.07" ry="0.65" fill="#b0b0b0" transform="rotate(140 363.97 294.28)"/>
<ellipse cx="334.34" cy="323.61" rx="1.61" ry="0.55" fill="#888" transform="rotate(41 334.34 323.61)"/>
<ellipse cx="367.08" cy="355.14" rx="2.17" ry="0.79" fill="#b0b0b0" transform="rotate(37 367.08 355.14)"/>
<ellipse cx="365.35" cy="291.59" rx="1.17" ry="0.9" fill="#888" transform="rotate(19 365.35 291.59)"/>
<ellipse cx="341.3" cy="297.7" rx="1.61" ry="0.68" fill="#888" transform="rotate(88 341.3 297.7)"/>
<ellipse cx="313.91" cy="314.73" rx="1.04" ry="0.75" fill="#8c8c8c" transform="rotate(161 313.91 314.73)"/>
<ellipse cx="334.12" cy="326.14" rx="1.59" ry="0.77" fill="#b0b0b0" transform="rotate(60 334.12 326.14)"/>
<ellipse cx="283.51" cy="336.75" rx="0.92" ry="0.67" fill="#b0b0b0" transform="rotate(143 283.51 336.75)"/>
<ellipse cx="355.03" cy="324.57" rx="2.11" ry="1.1" fill="#888" transform="rotate(65 355.03 324.57)"/>
<ellipse cx="306.23" cy="289.51" rx="0.72" ry="0.77" fill="#888" transform="rotate(11 306.23 289.51)"/>
<ellipse cx="291.75" cy="345.38" rx="1.03" ry="1.04" fill="#858585" transform="rotate(154 291.75 345.38)"/>
<ellipse cx="379.56" cy="300.71" rx="1.07" ry="0.82" fill="#858585" transform="rotate(126 379.56 300.71)"/>
<ellipse cx="355.54" cy="348.34" rx="1.53" ry="1.17" fill="#b0b0b0" transform="rotate(37 355.54 348.34)"/>
<ellipse cx="377.07" cy="356.88" rx="0.85" ry="0.75" fill="#b0b0b0" transform="rotate(74 377.07 356.88)"/>
<ellipse cx="310.31" cy="327.9" rx="1.19" ry="1.09" fill="#888" transform="rotate(56 310.31 327.9)"/>
<ellipse cx="375.22" cy="287.57" rx="1.58" ry="0.52" fill="#858585" transform="rotate(172 375.22 287.57)"/>
<ellipse cx="340.48" cy="341.92" rx="2.55" ry="1.34" fill="#b0b0b0" transform="rotate(78 340.48 341.92)"/>
<ellipse cx="372.5" cy="308.11" rx="1.09" ry="0.58" fill="#b0b0b0" transform="rotate(36 372.5 308.11)"/>
<ellipse cx="299.07" cy="288.35" rx="1" ry="0.75" fill="#8c8c8c" transform="rotate(29 299.07 288.35)"/>
<ellipse cx="297.28" cy="354.74" rx="1.64" ry="1.16" fill="#8c8c8c" transform="rotate(152 297.28 354.74)"/>
<ellipse cx="347.73" cy="329.82" rx="1.26" ry="0.88" fill="#8c8c8c" transform="rotate(20 347.73 329.82)"/>
<ellipse cx="344.77" cy="299.92" rx="1" ry="0.95" fill="#888" transform="rotate(123 344.77 299.92)"/>
<ellipse cx="330.61" cy="317.41" rx="0.95" ry="0.97" fill="#858585" transform="rotate(102 330.61 317.41)"/>
<ellipse cx="294.81" cy="328.77" rx="1.17" ry="0.66" fill="#858585" transform="rotate(119 294.81 328.77)"/>
<ellipse cx="280.4" cy="320.42" rx="1.25" ry="0.73" fill="#858585" transform="rotate(168 280.4 320.42)"/>
<ellipse cx="340.39" cy="337.99" rx="1.91" ry="1.16" fill="#858585" transform="rotate(142 340.39 337.99)"/>
<ellipse cx="378.8" cy="353.86" rx="1.42" ry="0.93" fill="#858585" transform="rotate(45 378.8 353.86)"/>
<ellipse cx="317.48" cy="326.49" rx="1.66" ry="0.72" fill="#888" transform="rotate(149 317.48 326.49)"/>
<ellipse cx="289.16" cy="298.86" rx="1.5" ry="0.9" fill="#858585" transform="rotate(3 289.16 298.86)"/>
<ellipse cx="288.77" cy="325.27" rx="0.88" ry="0.87" fill="#858585" transform="rotate(127 288.77 325.27)"/>
<ellipse cx="364.9" cy="347.7" rx="0.92" ry="0.64" fill="#b0b0b0" transform="rotate(72 364.9 347.7)"/>
<ellipse cx="365.16" cy="360.54" rx="0.62" ry="0.47" fill="#888" transform="rotate(160 365.16 360.54)"/>
<ellipse cx="303.72" cy="340.19" rx="0.98" ry="0.76" fill="#858585" transform="rotate(17 303.72 340.19)"/>
<ellipse cx="350.18" cy="348.32" rx="2.22" ry="1.29" fill="#b0b0b0" transform="rotate(179 350.18 348.32)"/>
<ellipse cx="287.03" cy="304.69" rx="1.9" ry="0.94" fill="#b0b0b0" transform="rotate(61 287.03 304.69)"/>
<ellipse cx="288.49" cy="314.74" rx="1.43" ry="0.73" fill="#8c8c8c" transform="rotate(155 288.49 314.74)"/>
<ellipse cx="373.01" cy="314.15" rx="1.79" ry="0.67" fill="#8c8c8c" transform="rotate(159 373.01 314.15)"/>
<ellipse cx="292.46" cy="318.32" rx="1.32" ry="0.81" fill="#8c8c8c" transform="rotate(130 292.46 318.32)"/>
<ellipse cx="280.79" cy="352.27" rx="1.27" ry="0.87" fill="#8c8c8c" transform="rotate(175 280.79 352.27)"/>
<ellipse cx="373.6" cy="346.71" rx="1.43" ry="1.07" fill="#888" transform="rotate(1 373.6 346.71)"/>
<ellipse cx="324.85" cy="311.19" rx="0.75" ry="0.65" fill="#b0b0b0" transform="rotate(42 324.85 311.19)"/>
<ellipse cx="296.49" cy="315.84" rx="1.32" ry="0.54" fill="#888" transform="rotate(19 296.49 315.84)"/>
<ellipse cx="380.22" cy="337.28" rx="0.99" ry="0.87" fill="#858585" transform="rotate(154 380.22 337.28)"/>
<ellipse cx="314.82" cy="296.66" rx="0.9" ry="0.56" fill="#888" transform="rotate(135 314.82 296.66)"/>
<ellipse cx="313.17" cy="320.9" rx="1.23" ry="0.56" fill="#858585" transform="rotate(18 313.17 320.9)"/>
<ellipse cx="354.18" cy="307.19" rx="1.02" ry="0.67" fill="#888" transform="rotate(92 354.18 307.19)"/>
<ellipse cx="301.34" cy="308.1" rx="0.69" ry="0.54" fill="#b0b0b0" transform="rotate(74 301.34 308.1)"/>
<ellipse cx="283.47" cy="351.18" rx="1.32" ry="0.4" fill="#888" transform="rotate(160 283.47 351.18)"/>
<ellipse cx="378.05" cy="344.71" rx="1.45" ry="0.84" fill="#8c8c8c" transform="rotate(43 378.05 344.71)"/>
<ellipse cx="326.32" cy="293.48" rx="1.48" ry="0.8" fill="#888" transform="rotate(59 326.32 293.48)"/>
<ellipse cx="352.2" cy="301.53" rx="1.05" ry="1.02" fill="#888" transform="rotate(149 352.2 301.53)"/>
<ellipse cx="278.14" cy="322.1" rx="2.15" ry="1.37" fill="#8c8c8c" transform="rotate(125 278.14 322.1)"/>
<ellipse cx="346.14" cy="295.99" rx="2.31" ry="1.11" fill="#b0b0b0" transform="rotate(57 346.14 295.99)"/>
<ellipse cx="294.04" cy="317.71" rx="1.4" ry="0.54" fill="#888" transform="rotate(109 294.04 317.71)"/>
<ellipse cx="377.62" cy="315.59" rx="1.3" ry="0.7" fill="#b0b0b0" transform="rotate(118 377.62 315.59)"/>
<ellipse cx="349.55" cy="283.45" rx="1.55" ry="0.95" fill="#888" transform="rotate(26 349.55 283.45)"/>
<ellipse cx="296.57" cy="354.01" rx="0.93" ry="0.57" fill="#888" transform="rotate(169 296.57 354.01)"/>
<ellipse cx="340.85" cy="350" rx="1.33" ry="0.74" fill="#888" transform="rotate(170 340.85 350)"/>
<ellipse cx="286.88" cy="336.09" rx="1.36" ry="0.71" fill="#b0b0b0" transform="rotate(70 286.88 336.09)"/>
<ellipse cx="309.76" cy="291.61" rx="1.15" ry="0.82" fill="#8c8c8c" transform="rotate(175 309.76 291.61)"/>
<ellipse cx="296.23" cy="295.61" rx="0.7" ry="0.66" fill="#888" transform="rotate(77 296.23 295.61)"/>
<ellipse cx="355.99" cy="312.82" rx="1.11" ry="0.65" fill="#8c8c8c" transform="rotate(109 355.99 312.82)"/>
<ellipse cx="321.78" cy="336.83" rx="1.01" ry="0.72" fill="#8c8c8c" transform="rotate(145 321.78 336.83)"/>
<ellipse cx="306.13" cy="299.26" rx="1.7" ry="1.16" fill="#8c8c8c" transform="rotate(15 306.13 299.26)"/>
<ellipse cx="378.78" cy="350.85" rx="1.18" ry="0.64" fill="#b0b0b0" transform="rotate(1 378.78 350.85)"/>
<ellipse cx="377.79" cy="353.6" rx="0.86" ry="0.72" fill="#8c8c8c" transform="rotate(114 377.79 353.6)"/>
<ellipse cx="276.89" cy="305.01" rx="1.24" ry="1.24" fill="#8c8c8c" transform="rotate(67 276.89 305.01)"/>
<ellipse cx="335.56" cy="346.47" rx="2.3" ry="1" fill="#888" transform="rotate(138 335.56 346.47)"/>
<ellipse cx="373.01" cy="300.68" rx="2.28" ry="1.24" fill="#8c8c8c" transform="rotate(56 373.01 300.68)"/>
<ellipse cx="299.31" cy="320.48" rx="2.22" ry="1.18" fill="#8c8c8c" transform="rotate(158 299.31 320.48)"/>
<ellipse cx="379.52" cy="288.15" rx="1.98" ry="1.15" fill="#888" transform="rotate(138 379.52 288.15)"/>
<ellipse cx="337.67" cy="292.73" rx="1.96" ry="1.28" fill="#888" transform="rotate(17 337.67 292.73)"/>
<ellipse cx="322.19" cy="326.8" rx="0.91" ry="0.6" fill="#858585" transform="rotate(161 322.19 326.8)"/>
<ellipse cx="351.77" cy="296.78" rx="1.26" ry="0.8" fill="#858585" transform="rotate(155 351.77 296.78)"/>
<ellipse cx="303.04" cy="293.05" rx="1.07" ry="0.52" fill="#858585" transform="rotate(109 303.04 293.05)"/>
<ellipse cx="310.2" cy="283.88" rx="1.67" ry="1.42" fill="#888" transform="rotate(31 310.2 283.88)"/>
<ellipse cx="326.03" cy="331.67" rx="1.29" ry="1.14" fill="#888" transform="rotate(147 326.03 331.67)"/>
<ellipse cx="321.12" cy="339.99" rx="1.12" ry="0.77" fill="#b0b0b0" transform="rotate(55 321.12 339.99)"/>
<ellipse cx="370.7" cy="331.62" rx="1.44" ry="0.69" fill="#888" transform="rotate(116 370.7 331.62)"/>
<ellipse cx="323.13" cy="310.27" rx="1.3" ry="0.87" fill="#858585" transform="rotate(171 323.13 310.27)"/>
<ellipse cx="360.95" cy="294.43" rx="1.89" ry="0.94" fill="#b0b0b0" transform="rotate(77 360.95 294.43)"/>
<ellipse cx="290.64" cy="307" rx="0.9" ry="1.18" fill="#8c8c8c" transform="rotate(147 290.64 307)"/>
<ellipse cx="367.65" cy="349.87" rx="1.25" ry="0.67" fill="#8c8c8c" transform="rotate(151 367.65 349.87)"/>
<ellipse cx="315.86" cy="305.22" rx="1.35" ry="0.86" fill="#858585" transform="rotate(149 315.86 305.22)"/>
<ellipse cx="310.19" cy="289.76" rx="1.26" ry="0.83" fill="#888" transform="rotate(159 310.19 289.76)"/>
<ellipse cx="289.99" cy="322.33" rx="1.03" ry="0.65" fill="#8c8c8c" transform="rotate(40 289.99 322.33)"/>
<ellipse cx="335.05" cy="306.82" rx="2.09" ry="0.9" fill="#8c8c8c" transform="rotate(121 335.05 306.82)"/>
<ellipse cx="337.57" cy="323.71" rx="1.65" ry="1.19" fill="#8c8c8c" transform="rotate(165 337.57 323.71)"/>
<ellipse cx="350.83" cy="289.34" rx="1.17" ry="0.8" fill="#858585" transform="rotate(163 350.83 289.34)"/>
</g>
<clipPath id="clip11"><rect x="275.8" y="283" width="106.1" height="79.3"/></clipPath>
<g clip-path="url(#clip11)">
<ellipse cx="323.8" cy="327.39" rx="1.96" ry="1.55" fill="#3a3a3a" transform="rotate(34 323.8 327.39)"/>
<ellipse cx="361.09" cy="320.73" rx="1.12" ry="0.86" fill="#1e1e1e" transform="rotate(16 361.09 320.73)"/>
<ellipse cx="361.7" cy="337.99" rx="1.25" ry="0.62" fill="#3a3a3a" transform="rotate(110 361.7 337.99)"/>
<ellipse cx="292.51" cy="284.19" rx="0.97" ry="1.18" fill="#151515" transform="rotate(107 292.51 284.19)"/>
<ellipse cx="358.36" cy="308.88" rx="1.63" ry="1.08" fill="#1e1e1e" transform="rotate(89 358.36 308.88)"/>
<ellipse cx="346.09" cy="319.27" rx="1.69" ry="0.92" fill="#505050" transform="rotate(127 346.09 319.27)"/>
<ellipse cx="309.25" cy="301.21" rx="1.29" ry="0.54" fill="#151515" transform="rotate(19 309.25 301.21)"/>
<ellipse cx="306.66" cy="288.3" rx="0.54" ry="0.43" fill="#444" transform="rotate(163 306.66 288.3)"/>
<ellipse cx="325.67" cy="360.74" rx="1.44" ry="0.65" fill="#151515" transform="rotate(121 325.67 360.74)"/>
<ellipse cx="311.54" cy="307.68" rx="1.06" ry="0.39" fill="#3a3a3a" transform="rotate(44 311.54 307.68)"/>
<ellipse cx="286.52" cy="287.75" rx="2.14" ry="0.89" fill="#1e1e1e" transform="rotate(91 286.52 287.75)"/>
<ellipse cx="380.34" cy="344.02" rx="0.97" ry="0.8" fill="#3a3a3a" transform="rotate(38 380.34 344.02)"/>
<ellipse cx="304.43" cy="359.99" rx="2.61" ry="0.75" fill="#2a2a2a" transform="rotate(33 304.43 359.99)"/>
<ellipse cx="381.46" cy="330.74" rx="2.2" ry="0.77" fill="#151515" transform="rotate(46 381.46 330.74)"/>
<ellipse cx="357.78" cy="309.09" rx="0.83" ry="0.6" fill="#151515" transform="rotate(114 357.78 309.09)"/>
<ellipse cx="277.45" cy="312.24" rx="2.24" ry="0.99" fill="#1e1e1e" transform="rotate(103 277.45 312.24)"/>
<ellipse cx="367.74" cy="297.5" rx="1.32" ry="0.53" fill="#1e1e1e" transform="rotate(34 367.74 297.5)"/>
<ellipse cx="354.25" cy="357.57" rx="1.44" ry="0.73" fill="#3a3a3a" transform="rotate(75 354.25 357.57)"/>
<ellipse cx="286.82" cy="286.07" rx="2.47" ry="1.17" fill="#1e1e1e" transform="rotate(75 286.82 286.07)"/>
<ellipse cx="371.8" cy="321.94" rx="2.09" ry="0.68" fill="#444" transform="rotate(86 371.8 321.94)"/>
<ellipse cx="345.14" cy="331.84" rx="1.27" ry="0.46" fill="#1e1e1e" transform="rotate(2 345.14 331.84)"/>
<ellipse cx="304.36" cy="318.34" rx="0.78" ry="0.58" fill="#1e1e1e" transform="rotate(175 304.36 318.34)"/>
<ellipse cx="285.58" cy="293.98" rx="1.61" ry="0.99" fill="#2a2a2a" transform="rotate(105 285.58 293.98)"/>
<ellipse cx="290.69" cy="285.78" rx="1.02" ry="0.72" fill="#2a2a2a" transform="rotate(3 290.69 285.78)"/>
<ellipse cx="343.3" cy="321.24" rx="1.28" ry="0.76" fill="#2a2a2a" transform="rotate(81 343.3 321.24)"/>
<ellipse cx="314.82" cy="286.53" rx="2.37" ry="1.51" fill="#444" transform="rotate(164 314.82 286.53)"/>
<ellipse cx="313.13" cy="337.33" rx="2.56" ry="1.61" fill="#666" transform="rotate(5 313.13 337.33)"/>
<ellipse cx="328.84" cy="284.15" rx="1.81" ry="1.12" fill="#3a3a3a" transform="rotate(14 328.84 284.15)"/>
<ellipse cx="343.64" cy="361.77" rx="1.71" ry="1.58" fill="#444" transform="rotate(124 343.64 361.77)"/>
<ellipse cx="324.37" cy="319.69" rx="1.85" ry="0.63" fill="#505050" transform="rotate(108 324.37 319.69)"/>
<ellipse cx="326.83" cy="301.26" rx="2.13" ry="1.18" fill="#3a3a3a" transform="rotate(87 326.83 301.26)"/>
<ellipse cx="370.91" cy="312.18" rx="0.8" ry="0.49" fill="#505050" transform="rotate(163 370.91 312.18)"/>
<ellipse cx="345.82" cy="318.05" rx="1.84" ry="1" fill="#2a2a2a" transform="rotate(114 345.82 318.05)"/>
<ellipse cx="361.07" cy="342.84" rx="1.01" ry="0.72" fill="#1e1e1e" transform="rotate(56 361.07 342.84)"/>
<ellipse cx="290.25" cy="322.37" rx="1.23" ry="0.81" fill="#666" transform="rotate(176 290.25 322.37)"/>
<ellipse cx="363" cy="291.95" rx="1.84" ry="0.81" fill="#1e1e1e" transform="rotate(93 363 291.95)"/>
<ellipse cx="347.11" cy="339.8" rx="1.86" ry="0.82" fill="#505050" transform="rotate(5 347.11 339.8)"/>
<ellipse cx="368.41" cy="286.29" rx="1.56" ry="1.18" fill="#505050" transform="rotate(101 368.41 286.29)"/>
<ellipse cx="343.81" cy="315.13" rx="1.39" ry="0.55" fill="#666" transform="rotate(25 343.81 315.13)"/>
<ellipse cx="280.78" cy="332.89" rx="1.47" ry="0.96" fill="#444" transform="rotate(66 280.78 332.89)"/>
<ellipse cx="284.07" cy="298.71" rx="1.43" ry="0.75" fill="#2a2a2a" transform="rotate(84 284.07 298.71)"/>
<ellipse cx="351.57" cy="297.2" rx="1.24" ry="0.97" fill="#2a2a2a" transform="rotate(90 351.57 297.2)"/>
<ellipse cx="381.56" cy="295.62" rx="2.55" ry="0.83" fill="#444" transform="rotate(167 381.56 295.62)"/>
<ellipse cx="352.44" cy="293.3" rx="1.87" ry="0.57" fill="#444" transform="rotate(99 352.44 293.3)"/>
<ellipse cx="345.05" cy="322.86" rx="1.85" ry="1.28" fill="#2a2a2a" transform="rotate(36 345.05 322.86)"/>
<ellipse cx="352.4" cy="347.89" rx="1.18" ry="0.83" fill="#444" transform="rotate(70 352.4 347.89)"/>
<ellipse cx="285.12" cy="307.57" rx="1.71" ry="1.48" fill="#2a2a2a" transform="rotate(2 285.12 307.57)"/>
<ellipse cx="329.35" cy="285.94" rx="1.57" ry="0.78" fill="#3a3a3a" transform="rotate(5 329.35 285.94)"/>
<ellipse cx="361.65" cy="288.08" rx="1.92" ry="1.29" fill="#1e1e1e" transform="rotate(164 361.65 288.08)"/>
<ellipse cx="325.73" cy="362.29" rx="2.53" ry="1.38" fill="#505050" transform="rotate(170 325.73 362.29)"/>
<ellipse cx="328.06" cy="358.27" rx="0.93" ry="0.62" fill="#1e1e1e" transform="rotate(149 328.06 358.27)"/>
<ellipse cx="335.38" cy="296.03" rx="1.22" ry="1.03" fill="#505050" transform="rotate(171 335.38 296.03)"/>
<ellipse cx="368.11" cy="331.33" rx="1.71" ry="0.77" fill="#1e1e1e" transform="rotate(103 368.11 331.33)"/>
<ellipse cx="297.12" cy="325.5" rx="1.35" ry="0.94" fill="#505050" transform="rotate(7 297.12 325.5)"/>
<ellipse cx="373.13" cy="326.14" rx="2.1" ry="1.46" fill="#151515" transform="rotate(11 373.13 326.14)"/>
<ellipse cx="332.96" cy="315.81" rx="1.7" ry="1.24" fill="#3a3a3a" transform="rotate(22 332.96 315.81)"/>
<ellipse cx="321.81" cy="347.69" rx="2.04" ry="0.88" fill="#3a3a3a" transform="rotate(75 321.81 347.69)"/>
<ellipse cx="278.92" cy="303.64" rx="1.11" ry="0.8" fill="#151515" transform="rotate(2 278.92 303.64)"/>
<ellipse cx="305.94" cy="340.38" rx="0.81" ry="0.83" fill="#3a3a3a" transform="rotate(22 305.94 340.38)"/>
<ellipse cx="329.96" cy="302.87" rx="1.44" ry="0.45" fill="#505050" transform="rotate(113 329.96 302.87)"/>
<ellipse cx="363.35" cy="331.83" rx="1.7" ry="1.03" fill="#666" transform="rotate(95 363.35 331.83)"/>
<ellipse cx="366.12" cy="331.51" rx="2.58" ry="1.29" fill="#1e1e1e" transform="rotate(62 366.12 331.51)"/>
<ellipse cx="295.02" cy="330.83" rx="1.55" ry="1.64" fill="#1e1e1e" transform="rotate(159 295.02 330.83)"/>
<ellipse cx="290.01" cy="301.98" rx="1.63" ry="1.03" fill="#2a2a2a" transform="rotate(169 290.01 301.98)"/>
<ellipse cx="333.44" cy="338.89" rx="1.28" ry="0.45" fill="#444" transform="rotate(36 333.44 338.89)"/>
<ellipse cx="348.2" cy="355.27" rx="2.42" ry="1.39" fill="#151515" transform="rotate(61 348.2 355.27)"/>
<ellipse cx="381.75" cy="349.05" rx="1.3" ry="0.77" fill="#3a3a3a" transform="rotate(99 381.75 349.05)"/>
<ellipse cx="330.42" cy="328.1" rx="0.73" ry="0.49" fill="#1e1e1e" transform="rotate(28 330.42 328.1)"/>
<ellipse cx="305.84" cy="336.36" rx="2.16" ry="0.95" fill="#1e1e1e" transform="rotate(137 305.84 336.36)"/>
<ellipse cx="310.48" cy="320.03" rx="1.17" ry="0.84" fill="#3a3a3a" transform="rotate(114 310.48 320.03)"/>
<ellipse cx="280.14" cy="298.88" rx="1.64" ry="0.78" fill="#2a2a2a" transform="rotate(35 280.14 298.88)"/>
<ellipse cx="293.31" cy="323.65" rx="1.09" ry="0.62" fill="#151515" transform="rotate(154 293.31 323.65)"/>
<ellipse cx="342.58" cy="315.08" rx="1.73" ry="0.87" fill="#505050" transform="rotate(137 342.58 315.08)"/>
<ellipse cx="305.46" cy="292.22" rx="2.25" ry="1.02" fill="#1e1e1e" transform="rotate(161 305.46 292.22)"/>
<ellipse cx="369.15" cy="338.1" rx="1.38" ry="0.88" fill="#666" transform="rotate(33 369.15 338.1)"/>
<ellipse cx="360.4" cy="306.92" rx="1.37" ry="0.78" fill="#2a2a2a" transform="rotate(8 360.4 306.92)"/>
<ellipse cx="304.76" cy="359.24" rx="1.4" ry="0.79" fill="#1e1e1e" transform="rotate(95 304.76 359.24)"/>
<ellipse cx="317.14" cy="362.29" rx="1.18" ry="0.94" fill="#444" transform="rotate(103 317.14 362.29)"/>
<ellipse cx="287.98" cy="291.57" rx="1.07" ry="0.48" fill="#3a3a3a" transform="rotate(35 287.98 291.57)"/>
<ellipse cx="315.66" cy="290.81" rx="1.23" ry="0.72" fill="#2a2a2a" transform="rotate(174 315.66 290.81)"/>
<ellipse cx="336.06" cy="361.91" rx="1.86" ry="1.05" fill="#666" transform="rotate(120 336.06 361.91)"/>
<ellipse cx="377.16" cy="313.64" rx="2" ry="0.95" fill="#3a3a3a" transform="rotate(89 377.16 313.64)"/>
<ellipse cx="340.65" cy="287.64" rx="1.71" ry="1.16" fill="#3a3a3a" transform="rotate(56 340.65 287.64)"/>
<ellipse cx="332.08" cy="321.32" rx="1.36" ry="0.86" fill="#2a2a2a" transform="rotate(4 332.08 321.32)"/>
<ellipse cx="357.76" cy="329.45" rx="1.99" ry="0.93" fill="#3a3a3a" transform="rotate(161 357.76 329.45)"/>
<ellipse cx="355.2" cy="286.98" rx="1.41" ry="1.66" fill="#2a2a2a" transform="rotate(77 355.2 286.98)"/>
<ellipse cx="326.47" cy="360.17" rx="0.8" ry="0.87" fill="#505050" transform="rotate(163 326.47 360.17)"/>
<ellipse cx="291.12" cy="359.12" rx="0.82" ry="0.78" fill="#444" transform="rotate(82 291.12 359.12)"/>
<ellipse cx="297.41" cy="287.13" rx="1.37" ry="0.69" fill="#151515" transform="rotate(75 297.41 287.13)"/>
<ellipse cx="339.57" cy="333.72" rx="2.1" ry="1.07" fill="#2a2a2a" transform="rotate(179 339.57 333.72)"/>
<ellipse cx="376.87" cy="341.23" rx="1.17" ry="0.61" fill="#151515" transform="rotate(91 376.87 341.23)"/>
<ellipse cx="365.62" cy="304.79" rx="1.72" ry="1.06" fill="#444" transform="rotate(113 365.62 304.79)"/>
<ellipse cx="355.73" cy="298.05" rx="1.56" ry="0.91" fill="#444" transform="rotate(7 355.73 298.05)"/>
<ellipse cx="282.25" cy="304.49" rx="0.89" ry="0.68" fill="#505050" transform="rotate(50 282.25 304.49)"/>
<ellipse cx="355.99" cy="355.39" rx="1.18" ry="0.59" fill="#1e1e1e" transform="rotate(86 355.99 355.39)"/>
<ellipse cx="298.15" cy="310.26" rx="2.33" ry="1.34" fill="#666" transform="rotate(80 298.15 310.26)"/>
<ellipse cx="363.02" cy="349.45" rx="1.73" ry="0.92" fill="#3a3a3a" transform="rotate(145 363.02 349.45)"/>
<ellipse cx="314.95" cy="334.84" rx="1.77" ry="1.52" fill="#2a2a2a" transform="rotate(148 314.95 334.84)"/>
<ellipse cx="295.31" cy="334.85" rx="2.07" ry="0.68" fill="#3a3a3a" transform="rotate(14 295.31 334.85)"/>
<ellipse cx="335.66" cy="321.45" rx="2.17" ry="0.68" fill="#2a2a2a" transform="rotate(55 335.66 321.45)"/>
<ellipse cx="372.42" cy="330.87" rx="2.05" ry="1.21" fill="#3a3a3a" transform="rotate(50 372.42 330.87)"/>
<ellipse cx="290.96" cy="311.37" rx="2.35" ry="0.95" fill="#2a2a2a" transform="rotate(79 290.96 311.37)"/>
<ellipse cx="338.9" cy="354.56" rx="1.65" ry="1.28" fill="#2a2a2a" transform="rotate(54 338.9 354.56)"/>
<ellipse cx="309.5" cy="314.69" rx="1.64" ry="1.12" fill="#505050" transform="rotate(65 309.5 314.69)"/>
<ellipse cx="314.35" cy="314.37" rx="1.61" ry="0.75" fill="#1e1e1e" transform="rotate(70 314.35 314.37)"/>
<ellipse cx="292.22" cy="329.88" rx="1.31" ry="0.84" fill="#151515" transform="rotate(50 292.22 329.88)"/>
<ellipse cx="278.16" cy="323.89" rx="1.3" ry="0.62" fill="#505050" transform="rotate(151 278.16 323.89)"/>
<ellipse cx="320.65" cy="329.15" rx="0.84" ry="0.53" fill="#505050" transform="rotate(132 320.65 329.15)"/>
<ellipse cx="371.19" cy="289.72" rx="1.14" ry="1.24" fill="#1e1e1e" transform="rotate(75 371.19 289.72)"/>
<ellipse cx="351.36" cy="321.78" rx="2.43" ry="1.13" fill="#2a2a2a" transform="rotate(60 351.36 321.78)"/>
<ellipse cx="378.53" cy="336.32" rx="1.84" ry="0.63" fill="#505050" transform="rotate(111 378.53 336.32)"/>
<ellipse cx="280.71" cy="343.03" rx="2.69" ry="1.56" fill="#2a2a2a" transform="rotate(150 280.71 343.03)"/>
<ellipse cx="370.09" cy="358.95" rx="1.49" ry="0.66" fill="#505050" transform="rotate(19 370.09 358.95)"/>
<ellipse cx="373.79" cy="355.6" rx="1.62" ry="0.65" fill="#1e1e1e" transform="rotate(30 373.79 355.6)"/>
<ellipse cx="297.48" cy="316.7" rx="1.2" ry="0.87" fill="#151515" transform="rotate(54 297.48 316.7)"/>
<ellipse cx="292.3" cy="355.93" rx="1.95" ry="1.3" fill="#666" transform="rotate(163 292.3 355.93)"/>
<ellipse cx="279.66" cy="291.62" rx="1.17" ry="0.71" fill="#1e1e1e" transform="rotate(84 279.66 291.62)"/>
<ellipse cx="329.76" cy="318.05" rx="1.48" ry="1.44" fill="#3a3a3a" transform="rotate(56 329.76 318.05)"/>
<ellipse cx="333.97" cy="347.8" rx="1.45" ry="0.83" fill="#2a2a2a" transform="rotate(172 333.97 347.8)"/>
<ellipse cx="345.85" cy="344.19" rx="0.77" ry="0.4" fill="#666" transform="rotate(170 345.85 344.19)"/>
<ellipse cx="360.83" cy="313.53" rx="1.86" ry="1.12" fill="#505050" transform="rotate(10 360.83 313.53)"/>
<ellipse cx="373.86" cy="353.75" rx="1.89" ry="0.98" fill="#2a2a2a" transform="rotate(75 373.86 353.75)"/>
<ellipse cx="368.62" cy="315.97" rx="1.49" ry="1.41" fill="#1e1e1e" transform="rotate(92 368.62 315.97)"/>
<ellipse cx="343.38" cy="361.75" rx="0.78" ry="0.77" fill="#505050" transform="rotate(32 343.38 361.75)"/>
<ellipse cx="297.48" cy="355.66" rx="0.71" ry="0.53" fill="#1e1e1e" transform="rotate(128 297.48 355.66)"/>
<ellipse cx="286.11" cy="321.07" rx="1.55" ry="1.11" fill="#444" transform="rotate(54 286.11 321.07)"/>
<ellipse cx="359.55" cy="316.07" rx="2.47" ry="1.18" fill="#151515" transform="rotate(6 359.55 316.07)"/>
<ellipse cx="319.64" cy="322.19" rx="1.76" ry="1.17" fill="#2a2a2a" transform="rotate(100 319.64 322.19)"/>
<ellipse cx="381.61" cy="335.9" rx="1.09" ry="0.41" fill="#151515" transform="rotate(70 381.61 335.9)"/>
<ellipse cx="324.79" cy="359.68" rx="1.83" ry="1.47" fill="#444" transform="rotate(128 324.79 359.68)"/>
<ellipse cx="326.22" cy="306.27" rx="0.62" ry="0.83" fill="#666" transform="rotate(143 326.22 306.27)"/>
<ellipse cx="297.73" cy="331.85" rx="1.65" ry="0.88" fill="#3a3a3a" transform="rotate(171 297.73 331.85)"/>
<ellipse cx="355.9" cy="327.06" rx="0.74" ry="0.69" fill="#1e1e1e" transform="rotate(59 355.9 327.06)"/>
<ellipse cx="376.07" cy="327.63" rx="1.7" ry="0.99" fill="#2a2a2a" transform="rotate(18 376.07 327.63)"/>
<ellipse cx="341.76" cy="293.42" rx="1.24" ry="0.94" fill="#1e1e1e" transform="rotate(150 341.76 293.42)"/>
<ellipse cx="338.69" cy="290.14" rx="1.59" ry="0.67" fill="#1e1e1e" transform="rotate(138 338.69 290.14)"/>
<ellipse cx="312.05" cy="348.28" rx="2.27" ry="1.47" fill="#1e1e1e" transform="rotate(147 312.05 348.28)"/>
<ellipse cx="316.75" cy="309.28" rx="1.63" ry="0.91" fill="#151515" transform="rotate(57 316.75 309.28)"/>
<ellipse cx="359.49" cy="302.43" rx="1.31" ry="1.13" fill="#505050" transform="rotate(61 359.49 302.43)"/>
<ellipse cx="344.84" cy="291.43" rx="1.16" ry="0.7" fill="#505050" transform="rotate(18 344.84 291.43)"/>
<ellipse cx="351.5" cy="303.13" rx="1.6" ry="0.84" fill="#2a2a2a" transform="rotate(90 351.5 303.13)"/>
<ellipse cx="290.84" cy="339.57" rx="2.93" ry="1.47" fill="#505050" transform="rotate(168 290.84 339.57)"/>
<ellipse cx="336" cy="285.12" rx="1.14" ry="0.84" fill="#666" transform="rotate(103 336 285.12)"/>
<ellipse cx="349.76" cy="309.1" rx="1.66" ry="1.58" fill="#2a2a2a" transform="rotate(81 349.76 309.1)"/>
<ellipse cx="353.23" cy="301.92" rx="1.66" ry="1" fill="#505050" transform="rotate(47 353.23 301.92)"/>
<ellipse cx="372.28" cy="361.68" rx="1.37" ry="1.51" fill="#505050" transform="rotate(0 372.28 361.68)"/>
<ellipse cx="348.49" cy="311.84" rx="2.29" ry="0.86" fill="#2a2a2a" transform="rotate(98 348.49 311.84)"/>
<ellipse cx="283.89" cy="285.54" rx="0.78" ry="0.79" fill="#444" transform="rotate(152 283.89 285.54)"/>
<ellipse cx="371.97" cy="331.79" rx="1.04" ry="0.8" fill="#666" transform="rotate(84 371.97 331.79)"/>
<ellipse cx="290.97" cy="313.64" rx="1.38" ry="0.71" fill="#1e1e1e" transform="rotate(43 290.97 313.64)"/>
<ellipse cx="374.65" cy="287.24" rx="2.1" ry="0.84" fill="#444" transform="rotate(172 374.65 287.24)"/>
<ellipse cx="339.47" cy="320.26" rx="1.83" ry="0.88" fill="#505050" transform="rotate(73 339.47 320.26)"/>
<ellipse cx="305.67" cy="353.51" rx="1.66" ry="1.09" fill="#666" transform="rotate(21 305.67 353.51)"/>
<ellipse cx="287.96" cy="357.46" rx="1.21" ry="1" fill="#505050" transform="rotate(57 287.96 357.46)"/>
<ellipse cx="281.6" cy="340.54" rx="1.81" ry="1.06" fill="#444" transform="rotate(142 281.6 340.54)"/>
<ellipse cx="369.44" cy="352.55" rx="1.12" ry="0.71" fill="#666" transform="rotate(71 369.44 352.55)"/>
<ellipse cx="281.31" cy="338.11" rx="1.58" ry="1.03" fill="#1e1e1e" transform="rotate(169 281.31 338.11)"/>
<ellipse cx="369.14" cy="362.24" rx="2.02" ry="1.37" fill="#666" transform="rotate(75 369.14 362.24)"/>
<ellipse cx="361.24" cy="300.59" rx="1.27" ry="0.76" fill="#505050" transform="rotate(93 361.24 300.59)"/>
<ellipse cx="289.59" cy="352.96" rx="0.97" ry="0.79" fill="#3a3a3a" transform="rotate(53 289.59 352.96)"/>
<ellipse cx="310.26" cy="287.97" rx="2.04" ry="0.9" fill="#666" transform="rotate(124 310.26 287.97)"/>
<ellipse cx="300.29" cy="307.28" rx="1.22" ry="0.87" fill="#2a2a2a" transform="rotate(168 300.29 307.28)"/>
<ellipse cx="379.49" cy="320.48" rx="1.44" ry="0.78" fill="#2a2a2a" transform="rotate(10 379.49 320.48)"/>
<ellipse cx="309.31" cy="351.13" rx="1.49" ry="1.55" fill="#151515" transform="rotate(179 309.31 351.13)"/>
<ellipse cx="297.23" cy="333.15" rx="1.23" ry="0.58" fill="#151515" transform="rotate(147 297.23 333.15)"/>
<ellipse cx="377.8" cy="304.72" rx="1.21" ry="1.13" fill="#1e1e1e" transform="rotate(140 377.8 304.72)"/>
<ellipse cx="319.85" cy="296.43" rx="2.27" ry="0.93" fill="#151515" transform="rotate(32 319.85 296.43)"/>
<ellipse cx="300.78" cy="335.7" rx="2.31" ry="1.15" fill="#2a2a2a" transform="rotate(20 300.78 335.7)"/>
<ellipse cx="330.54" cy="360.49" rx="2.26" ry="1.02" fill="#1e1e1e" transform="rotate(115 330.54 360.49)"/>
<ellipse cx="285.35" cy="360.95" rx="0.95" ry="1.12" fill="#505050" transform="rotate(1 285.35 360.95)"/>
<ellipse cx="338.03" cy="325.6" rx="0.95" ry="0.72" fill="#505050" transform="rotate(136 338.03 325.6)"/>
<ellipse cx="301.89" cy="305.13" rx="1.91" ry="0.71" fill="#1e1e1e" transform="rotate(161 301.89 305.13)"/>
<ellipse cx="341.78" cy="355.67" rx="2.14" ry="0.98" fill="#151515" transform="rotate(32 341.78 355.67)"/>
<ellipse cx="334.79" cy="334.15" rx="1.3" ry="0.53" fill="#444" transform="rotate(52 334.79 334.15)"/>
<ellipse cx="363.55" cy="333.33" rx="2.85" ry="0.98" fill="#444" transform="rotate(140 363.55 333.33)"/>
<ellipse cx="293.33" cy="331.22" rx="1.2" ry="0.58" fill="#3a3a3a" transform="rotate(128 293.33 331.22)"/>
<ellipse cx="352.36" cy="303.59" rx="1.65" ry="0.94" fill="#666" transform="rotate(6 352.36 303.59)"/>
<ellipse cx="339.12" cy="339.68" rx="2.06" ry="0.85" fill="#666" transform="rotate(109 339.12 339.68)"/>
<ellipse cx="340.37" cy="346.93" rx="1.22" ry="1.11" fill="#444" transform="rotate(13 340.37 346.93)"/>
<ellipse cx="372.07" cy="328.11" rx="1.82" ry="1.03" fill="#666" transform="rotate(9 372.07 328.11)"/>
<ellipse cx="320.93" cy="338.16" rx="1.94" ry="0.96" fill="#444" transform="rotate(105 320.93 338.16)"/>
<ellipse cx="285.19" cy="348.07" rx="0.87" ry="0.66" fill="#2a2a2a" transform="rotate(118 285.19 348.07)"/>
<ellipse cx="339.02" cy="319.04" rx="1.13" ry="0.61" fill="#3a3a3a" transform="rotate(174 339.02 319.04)"/>
<ellipse cx="280.27" cy="321.82" rx="1.32" ry="1.08" fill="#1e1e1e" transform="rotate(134 280.27 321.82)"/>
<ellipse cx="279.96" cy="302.08" rx="1.35" ry="1.26" fill="#1e1e1e" transform="rotate(84 279.96 302.08)"/>
<ellipse cx="375.06" cy="360.05" rx="2.08" ry="1.22" fill="#444" transform="rotate(41 375.06 360.05)"/>
<ellipse cx="302.67" cy="326.76" rx="0.79" ry="0.57" fill="#3a3a3a" transform="rotate(55 302.67 326.76)"/>
<ellipse cx="376.21" cy="356.21" rx="1.05" ry="0.77" fill="#1e1e1e" transform="rotate(10 376.21 356.21)"/>
<ellipse cx="312.21" cy="338.09" rx="2.6" ry="0.92" fill="#505050" transform="rotate(154 312.21 338.09)"/>
<ellipse cx="375.05" cy="299.92" rx="1.04" ry="0.73" fill="#151515" transform="rotate(33 375.05 299.92)"/>
<ellipse cx="334.11" cy="295.99" rx="1.2" ry="0.81" fill="#1e1e1e" transform="rotate(85 334.11 295.99)"/>
<ellipse cx="327.81" cy="332.69" rx="0.84" ry="0.61" fill="#3a3a3a" transform="rotate(13 327.81 332.69)"/>
<ellipse cx="349.15" cy="311.77" rx="1.23" ry="0.86" fill="#151515" transform="rotate(92 349.15 311.77)"/>
<ellipse cx="336" cy="334.5" rx="1.01" ry="0.52" fill="#151515" transform="rotate(168 336 334.5)"/>
<ellipse cx="313.97" cy="343.72" rx="1.11" ry="0.94" fill="#151515" transform="rotate(69 313.97 343.72)"/>
<ellipse cx="284.62" cy="352.97" rx="1.65" ry="0.87" fill="#666" transform="rotate(54 284.62 352.97)"/>
<ellipse cx="340.3" cy="321.73" rx="1.18" ry="0.45" fill="#505050" transform="rotate(56 340.3 321.73)"/>
<ellipse cx="320.79" cy="326.14" rx="1.07" ry="0.55" fill="#444" transform="rotate(81 320.79 326.14)"/>
<ellipse cx="315.8" cy="352.79" rx="2.24" ry="1.09" fill="#505050" transform="rotate(69 315.8 352.79)"/>
<ellipse cx="367.68" cy="300.93" rx="1.34" ry="0.56" fill="#2a2a2a" transform="rotate(152 367.68 300.93)"/>
<ellipse cx="355.07" cy="321.29" rx="1.2" ry="0.46" fill="#666" transform="rotate(120 355.07 321.29)"/>
<ellipse cx="373.31" cy="300.15" rx="1.22" ry="1.26" fill="#444" transform="rotate(67 373.31 300.15)"/>
<ellipse cx="358.91" cy="303.58" rx="1.72" ry="0.78" fill="#151515" transform="rotate(69 358.91 303.58)"/>
<ellipse cx="310.62" cy="322.42" rx="1.62" ry="0.58" fill="#1e1e1e" transform="rotate(138 310.62 322.42)"/>
<ellipse cx="313.01" cy="339.49" rx="1.33" ry="0.87" fill="#444" transform="rotate(27 313.01 339.49)"/>
<ellipse cx="337.62" cy="338.62" rx="2.07" ry="1.22" fill="#444" transform="rotate(21 337.62 338.62)"/>
<ellipse cx="372.32" cy="355.35" rx="1.2" ry="0.78" fill="#3a3a3a" transform="rotate(84 372.32 355.35)"/>
<ellipse cx="310.34" cy="303.09" rx="0.77" ry="0.49" fill="#2a2a2a" transform="rotate(53 310.34 303.09)"/>
<ellipse cx="362.29" cy="353.34" rx="1.83" ry="1.35" fill="#3a3a3a" transform="rotate(65 362.29 353.34)"/>
<ellipse cx="336.93" cy="357.73" rx="1.19" ry="1.15" fill="#444" transform="rotate(110 336.93 357.73)"/>
<ellipse cx="282.55" cy="288.42" rx="1.32" ry="1.14" fill="#3a3a3a" transform="rotate(6 282.55 288.42)"/>
<ellipse cx="290.21" cy="323.21" rx="1.23" ry="0.5" fill="#2a2a2a" transform="rotate(108 290.21 323.21)"/>
<ellipse cx="304.42" cy="303.47" rx="0.7" ry="0.72" fill="#505050" transform="rotate(70 304.42 303.47)"/>
<ellipse cx="301.19" cy="322.14" rx="1.13" ry="1.26" fill="#505050" transform="rotate(159 301.19 322.14)"/>
<ellipse cx="349.13" cy="346.17" rx="1.56" ry="0.63" fill="#151515" transform="rotate(128 349.13 346.17)"/>
<ellipse cx="349.58" cy="337.44" rx="1.53" ry="1.12" fill="#666" transform="rotate(124 349.58 337.44)"/>
<ellipse cx="361.21" cy="306.29" rx="1.66" ry="0.86" fill="#2a2a2a" transform="rotate(42 361.21 306.29)"/>
<ellipse cx="302.25" cy="308.77" rx="1.29" ry="0.84" fill="#505050" transform="rotate(178 302.25 308.77)"/>
<ellipse cx="362.57" cy="353.23" rx="1.21" ry="0.91" fill="#666" transform="rotate(86 362.57 353.23)"/>
<ellipse cx="293.05" cy="351.7" rx="1.72" ry="1.11" fill="#151515" transform="rotate(133 293.05 351.7)"/>
<ellipse cx="349.41" cy="303.06" rx="1.95" ry="0.89" fill="#2a2a2a" transform="rotate(60 349.41 303.06)"/>
<ellipse cx="356.36" cy="349.83" rx="2.63" ry="1.28" fill="#505050" transform="rotate(22 356.36 349.83)"/>
<ellipse cx="354.34" cy="304.33" rx="0.96" ry="0.73" fill="#1e1e1e" transform="rotate(41 354.34 304.33)"/>
<ellipse cx="295.39" cy="284.09" rx="2.19" ry="0.72" fill="#666" transform="rotate(123 295.39 284.09)"/>
<ellipse cx="320.29" cy="333.08" rx="1.89" ry="0.56" fill="#444" transform="rotate(128 320.29 333.08)"/>
<ellipse cx="288.36" cy="286.36" rx="1.26" ry="0.91" fill="#444" transform="rotate(72 288.36 286.36)"/>
<ellipse cx="371.79" cy="349.04" rx="1.75" ry="1.02" fill="#1e1e1e" transform="rotate(144 371.79 349.04)"/>
<ellipse cx="364.78" cy="305.5" rx="1.26" ry="0.62" fill="#505050" transform="rotate(103 364.78 305.5)"/>
<ellipse cx="347.41" cy="300.18" rx="0.88" ry="0.57" fill="#666" transform="rotate(19 347.41 300.18)"/>
<ellipse cx="374.85" cy="302.93" rx="1.08" ry="1.15" fill="#151515" transform="rotate(48 374.85 302.93)"/>
<ellipse cx="336.15" cy="304.71" rx="1.08" ry="0.82" fill="#2a2a2a" transform="rotate(65 336.15 304.71)"/>
<ellipse cx="303.34" cy="287.06" rx="0.8" ry="0.4" fill="#666" transform="rotate(32 303.34 287.06)"/>
<ellipse cx="327.09" cy="362.07" rx="1.04" ry="0.45" fill="#666" transform="rotate(63 327.09 362.07)"/>
<ellipse cx="335.19" cy="327.2" rx="1.27" ry="0.75" fill="#505050" transform="rotate(49 335.19 327.2)"/>
<ellipse cx="375.42" cy="351.56" rx="2.24" ry="1.7" fill="#3a3a3a" transform="rotate(8 375.42 351.56)"/>
<ellipse cx="366.76" cy="357.91" rx="1.03" ry="0.85" fill="#444" transform="rotate(135 366.76 357.91)"/>
<ellipse cx="308.69" cy="323.78" rx="0.58" ry="0.48" fill="#1e1e1e" transform="rotate(138 308.69 323.78)"/>
<ellipse cx="303.91" cy="302.43" rx="1.87" ry="1.5" fill="#3a3a3a" transform="rotate(148 303.91 302.43)"/>
<ellipse cx="357.25" cy="361.19" rx="0.91" ry="0.69" fill="#3a3a3a" transform="rotate(45 357.25 361.19)"/>
<ellipse cx="372.31" cy="284.86" rx="1.37" ry="1.12" fill="#1e1e1e" transform="rotate(91 372.31 284.86)"/>
<ellipse cx="305.17" cy="361.69" rx="1.47" ry="0.85" fill="#3a3a3a" transform="rotate(162 305.17 361.69)"/>
<ellipse cx="309.92" cy="290.47" rx="0.96" ry="0.53" fill="#444" transform="rotate(23 309.92 290.47)"/>
<ellipse cx="308.11" cy="299.33" rx="0.94" ry="0.71" fill="#1e1e1e" transform="rotate(77 308.11 299.33)"/>
<ellipse cx="276.8" cy="322.85" rx="1.86" ry="1.04" fill="#2a2a2a" transform="rotate(137 276.8 322.85)"/>
<ellipse cx="278.01" cy="296.84" rx="0.66" ry="0.78" fill="#505050" transform="rotate(77 278.01 296.84)"/>
<ellipse cx="377.94" cy="300.42" rx="1.8" ry="1.03" fill="#444" transform="rotate(12 377.94 300.42)"/>
<ellipse cx="317.19" cy="356.03" rx="1.76" ry="1.62" fill="#666" transform="rotate(26 317.19 356.03)"/>
<ellipse cx="343.14" cy="312.98" rx="1.83" ry="0.91" fill="#1e1e1e" transform="rotate(79 343.14 312.98)"/>
<ellipse cx="351.61" cy="316.62" rx="1.47" ry="1.49" fill="#151515" transform="rotate(133 351.61 316.62)"/>
<ellipse cx="322.08" cy="320.05" rx="1.51" ry="1.25" fill="#505050" transform="rotate(103 322.08 320.05)"/>
<ellipse cx="330.47" cy="285.55" rx="1.38" ry="0.68" fill="#3a3a3a" transform="rotate(9 330.47 285.55)"/>
<ellipse cx="310.25" cy="325.58" rx="1.52" ry="0.67" fill="#2a2a2a" transform="rotate(132 310.25 325.58)"/>
<ellipse cx="380.78" cy="314.89" rx="2.35" ry="1.53" fill="#1e1e1e" transform="rotate(19 380.78 314.89)"/>
<ellipse cx="295.63" cy="356.27" rx="2.34" ry="1.37" fill="#1e1e1e" transform="rotate(92 295.63 356.27)"/>
<ellipse cx="381.23" cy="288.14" rx="1.72" ry="1.21" fill="#444" transform="rotate(62 381.23 288.14)"/>
<ellipse cx="297.81" cy="284.14" rx="1.16" ry="0.94" fill="#3a3a3a" transform="rotate(13 297.81 284.14)"/>
<ellipse cx="334.69" cy="345.42" rx="0.99" ry="0.9" fill="#1e1e1e" transform="rotate(10 334.69 345.42)"/>
<ellipse cx="368.1" cy="360.14" rx="1.18" ry="0.44" fill="#1e1e1e" transform="rotate(60 368.1 360.14)"/>
<ellipse cx="374.35" cy="358.75" rx="0.8" ry="0.54" fill="#2a2a2a" transform="rotate(69 374.35 358.75)"/>
<ellipse cx="365.9" cy="331.93" rx="1.36" ry="1.35" fill="#151515" transform="rotate(95 365.9 331.93)"/>
<ellipse cx="309.37" cy="358.89" rx="2.37" ry="1.21" fill="#505050" transform="rotate(2 309.37 358.89)"/>
<ellipse cx="311.83" cy="308.01" rx="1.86" ry="0.8" fill="#2a2a2a" transform="rotate(37 311.83 308.01)"/>
<ellipse cx="357.11" cy="296.6" rx="1.13" ry="0.71" fill="#151515" transform="rotate(169 357.11 296.6)"/>
<ellipse cx="340.52" cy="311.35" rx="1.28" ry="0.79" fill="#151515" transform="rotate(64 340.52 311.35)"/>
<ellipse cx="308.72" cy="315.38" rx="0.86" ry="0.58" fill="#444" transform="rotate(110 308.72 315.38)"/>
<ellipse cx="305.43" cy="293.61" rx="0.9" ry="0.71" fill="#151515" transform="rotate(42 305.43 293.61)"/>
<ellipse cx="337.26" cy="305.59" rx="2.66" ry="0.84" fill="#2a2a2a" transform="rotate(116 337.26 305.59)"/>
<ellipse cx="299.74" cy="320.86" rx="1.2" ry="0.65" fill="#3a3a3a" transform="rotate(11 299.74 320.86)"/>
<ellipse cx="320.27" cy="305.31" rx="1.19" ry="0.98" fill="#2a2a2a" transform="rotate(120 320.27 305.31)"/>
<ellipse cx="301.76" cy="315.63" rx="0.83" ry="0.59" fill="#666" transform="rotate(61 301.76 315.63)"/>
<ellipse cx="362.86" cy="350.43" rx="1.81" ry="0.95" fill="#505050" transform="rotate(37 362.86 350.43)"/>
<ellipse cx="359.63" cy="284.28" rx="1.02" ry="0.49" fill="#505050" transform="rotate(161 359.63 284.28)"/>
<ellipse cx="376.56" cy="284.84" rx="1.11" ry="0.77" fill="#3a3a3a" transform="rotate(91 376.56 284.84)"/>
<ellipse cx="326.69" cy="334.7" rx="1.29" ry="0.77" fill="#1e1e1e" transform="rotate(71 326.69 334.7)"/>
<ellipse cx="363.72" cy="334.54" rx="1.16" ry="1.04" fill="#151515" transform="rotate(72 363.72 334.54)"/>
<ellipse cx="345.41" cy="300.29" rx="2.11" ry="1.59" fill="#1e1e1e" transform="rotate(92 345.41 300.29)"/>
<ellipse cx="285.98" cy="346.01" rx="1" ry="0.64" fill="#444" transform="rotate(163 285.98 346.01)"/>
<ellipse cx="346.18" cy="359.91" rx="1.39" ry="0.67" fill="#151515" transform="rotate(66 346.18 359.91)"/>
<ellipse cx="314.65" cy="349" rx="1.75" ry="1.24" fill="#151515" transform="rotate(96 314.65 349)"/>
<ellipse cx="287.6" cy="345.59" rx="1.31" ry="0.52" fill="#505050" transform="rotate(42 287.6 345.59)"/>
<ellipse cx="346.11" cy="323.42" rx="1.52" ry="0.62" fill="#2a2a2a" transform="rotate(74 346.11 323.42)"/>
<ellipse cx="281.56" cy="300.26" rx="0.99" ry="0.65" fill="#505050" transform="rotate(161 281.56 300.26)"/>
<ellipse cx="361.71" cy="322.95" rx="1.07" ry="0.59" fill="#505050" transform="rotate(110 361.71 322.95)"/>
<ellipse cx="367.45" cy="359.43" rx="1.09" ry="1.02" fill="#151515" transform="rotate(19 367.45 359.43)"/>
<ellipse cx="354.03" cy="312.86" rx="0.78" ry="0.54" fill="#505050" transform="rotate(54 354.03 312.86)"/>
<ellipse cx="378.31" cy="333.99" rx="1.77" ry="1.01" fill="#151515" transform="rotate(38 378.31 333.99)"/>
<ellipse cx="332.75" cy="335.11" rx="1.07" ry="1.15" fill="#3a3a3a" transform="rotate(100 332.75 335.11)"/>
<ellipse cx="290.43" cy="360.84" rx="1.87" ry="1.06" fill="#151515" transform="rotate(133 290.43 360.84)"/>
<ellipse cx="303.2" cy="312.17" rx="1.28" ry="0.95" fill="#3a3a3a" transform="rotate(60 303.2 312.17)"/>
<ellipse cx="288.19" cy="307.67" rx="1.57" ry="0.97" fill="#1e1e1e" transform="rotate(71 288.19 307.67)"/>
<ellipse cx="299.43" cy="290.87" rx="1.19" ry="1.07" fill="#2a2a2a" transform="rotate(93 299.43 290.87)"/>
<ellipse cx="331.7" cy="341.14" rx="1.82" ry="0.53" fill="#505050" transform="rotate(106 331.7 341.14)"/>
<ellipse cx="377.74" cy="311.99" rx="2.05" ry="0.78" fill="#2a2a2a" transform="rotate(137 377.74 311.99)"/>
<ellipse cx="281.75" cy="297.57" rx="1.21" ry="0.42" fill="#666" transform="rotate(16 281.75 297.57)"/>
<ellipse cx="302.53" cy="304.42" rx="2.08" ry="1.03" fill="#3a3a3a" transform="rotate(16 302.53 304.42)"/>
<ellipse cx="336.51" cy="290.71" rx="1.72" ry="0.73" fill="#1e1e1e" transform="rotate(57 336.51 290.71)"/>
<ellipse cx="362.73" cy="345.51" rx="2.33" ry="1.01" fill="#151515" transform="rotate(71 362.73 345.51)"/>
<ellipse cx="284.69" cy="293.98" rx="0.81" ry="1.03" fill="#444" transform="rotate(135 284.69 293.98)"/>
<ellipse cx="337.32" cy="283.44" rx="1.56" ry="1.19" fill="#3a3a3a" transform="rotate(164 337.32 283.44)"/>
<ellipse cx="362.93" cy="296.68" rx="1.16" ry="0.54" fill="#444" transform="rotate(80 362.93 296.68)"/>
<ellipse cx="322.15" cy="292.36" rx="1.49" ry="0.96" fill="#444" transform="rotate(172 322.15 292.36)"/>
<ellipse cx="313.56" cy="348.95" rx="1.24" ry="0.93" fill="#444" transform="rotate(171 313.56 348.95)"/>
<ellipse cx="335.24" cy="356.14" rx="0.97" ry="0.51" fill="#3a3a3a" transform="rotate(170 335.24 356.14)"/>
<ellipse cx="292.25" cy="304.73" rx="1.84" ry="0.66" fill="#3a3a3a" transform="rotate(126 292.25 304.73)"/>
<ellipse cx="328.26" cy="317.63" rx="2.28" ry="0.82" fill="#505050" transform="rotate(133 328.26 317.63)"/>
<ellipse cx="293.47" cy="329.46" rx="1.4" ry="0.75" fill="#2a2a2a" transform="rotate(67 293.47 329.46)"/>
<ellipse cx="360.99" cy="337.22" rx="1.82" ry="0.79" fill="#505050" transform="rotate(105 360.99 337.22)"/>
<ellipse cx="326.78" cy="360.76" rx="1.27" ry="0.85" fill="#444" transform="rotate(63 326.78 360.76)"/>
<ellipse cx="319.39" cy="286.58" rx="2.54" ry="1.13" fill="#666" transform="rotate(128 319.39 286.58)"/>
<ellipse cx="321.71" cy="331.98" rx="2.07" ry="0.93" fill="#3a3a3a" transform="rotate(87 321.71 331.98)"/>
<ellipse cx="300.34" cy="342.72" rx="0.99" ry="0.45" fill="#2a2a2a" transform="rotate(178 300.34 342.72)"/>
<ellipse cx="313.14" cy="295.66" rx="1.08" ry="1.19" fill="#3a3a3a" transform="rotate(137 313.14 295.66)"/>
<ellipse cx="361.29" cy="290.75" rx="2.56" ry="1.42" fill="#1e1e1e" transform="rotate(132 361.29 290.75)"/>
<ellipse cx="312.32" cy="295.93" rx="1.45" ry="0.87" fill="#1e1e1e" transform="rotate(124 312.32 295.93)"/>
<ellipse cx="314.42" cy="358.42" rx="1.92" ry="1.33" fill="#2a2a2a" transform="rotate(176 314.42 358.42)"/>
<ellipse cx="287.52" cy="311.39" rx="1.22" ry="0.56" fill="#2a2a2a" transform="rotate(100 287.52 311.39)"/>
<ellipse cx="303.66" cy="289.01" rx="0.74" ry="0.55" fill="#666" transform="rotate(157 303.66 289.01)"/>
<ellipse cx="292.79" cy="351.17" rx="1.32" ry="1.44" fill="#505050" transform="rotate(29 292.79 351.17)"/>
<ellipse cx="355.42" cy="338.73" rx="1.31" ry="0.67" fill="#444" transform="rotate(168 355.42 338.73)"/>
<ellipse cx="314.28" cy="345.43" rx="1.33" ry="0.63" fill="#3a3a3a" transform="rotate(38 314.28 345.43)"/>
<ellipse cx="343.71" cy="304.47" rx="1.19" ry="1.12" fill="#1e1e1e" transform="rotate(103 343.71 304.47)"/>
<ellipse cx="374.11" cy="341.9" rx="0.86" ry="0.79" fill="#151515" transform="rotate(21 374.11 341.9)"/>
<ellipse cx="380.71" cy="307.53" rx="2.66" ry="1.34" fill="#151515" transform="rotate(25 380.71 307.53)"/>
<ellipse cx="319.65" cy="294.34" rx="2.75" ry="1.59" fill="#666" transform="rotate(97 319.65 294.34)"/>
<ellipse cx="322.14" cy="336.88" rx="0.86" ry="0.59" fill="#444" transform="rotate(35 322.14 336.88)"/>
<ellipse cx="350.61" cy="316.09" rx="1.7" ry="0.6" fill="#151515" transform="rotate(169 350.61 316.09)"/>
<ellipse cx="371.14" cy="290.06" rx="1.74" ry="1.39" fill="#2a2a2a" transform="rotate(168 371.14 290.06)"/>
<ellipse cx="379.36" cy="358.33" rx="1.92" ry="1.5" fill="#666" transform="rotate(109 379.36 358.33)"/>
<ellipse cx="360.2" cy="362.03" rx="1.36" ry="0.74" fill="#505050" transform="rotate(138 360.2 362.03)"/>
<ellipse cx="292.47" cy="355.41" rx="1.29" ry="0.81" fill="#2a2a2a" transform="rotate(4 292.47 355.41)"/>
<ellipse cx="279.19" cy="348.8" rx="2.2" ry="1.26" fill="#505050" transform="rotate(120 279.19 348.8)"/>
<ellipse cx="284.61" cy="312.44" rx="2.85" ry="1.56" fill="#1e1e1e" transform="rotate(73 284.61 312.44)"/>
<ellipse cx="311.4" cy="310.5" rx="0.7" ry="0.36" fill="#666" transform="rotate(66 311.4 310.5)"/>
<ellipse cx="352.5" cy="324.33" rx="1.04" ry="1.01" fill="#444" transform="rotate(31 352.5 324.33)"/>
<ellipse cx="291.71" cy="303.1" rx="1.95" ry="0.69" fill="#666" transform="rotate(122 291.71 303.1)"/>
<ellipse cx="340.55" cy="330.22" rx="2.06" ry="0.75" fill="#505050" transform="rotate(41 340.55 330.22)"/>
<ellipse cx="307.79" cy="309.14" rx="1.13" ry="0.89" fill="#444" transform="rotate(16 307.79 309.14)"/>
<ellipse cx="348.45" cy="322.94" rx="1.33" ry="1.17" fill="#151515" transform="rotate(66 348.45 322.94)"/>
<ellipse cx="313.62" cy="355.24" rx="2.94" ry="1.21" fill="#3a3a3a" transform="rotate(120 313.62 355.24)"/>
<ellipse cx="300.47" cy="361.71" rx="1.18" ry="0.9" fill="#2a2a2a" transform="rotate(12 300.47 361.71)"/>
</g>
<clipPath id="clip24"><rect x="385.1" y="283" width="105.7" height="79.3"/></clipPath>
<rect x="385.1" y="283" width="105.7" height="79.3" fill="#a6a6a6" stroke="none" stroke-width="1"/>
<g clip-path="url(#clip24)">
<circle cx="460.39" cy="349.6" r="0.93" fill="#888"/>
<circle cx="405.62" cy="336.2" r="0.86" fill="#888"/>
<circle cx="470.33" cy="305.47" r="1.45" fill="#8e8e8e"/>
<circle cx="431.75" cy="351.66" r="1.49" fill="#8e8e8e"/>
<circle cx="388.08" cy="296.37" r="1.14" fill="#929292"/>
<circle cx="457.17" cy="322.63" r="1.5" fill="#b6b6b6"/>
<circle cx="474.23" cy="295.51" r="1.03" fill="#b6b6b6"/>
<circle cx="392.97" cy="334.46" r="1.26" fill="#8e8e8e"/>
<circle cx="482.83" cy="308.07" r="1.43" fill="#8e8e8e"/>
<circle cx="417.95" cy="302.51" r="1.22" fill="#888"/>
<circle cx="471.68" cy="361.66" r="1.4" fill="#b6b6b6"/>
<circle cx="444.53" cy="304.72" r="0.94" fill="#929292"/>
<circle cx="468.04" cy="334.77" r="1.03" fill="#888"/>
<circle cx="455.96" cy="360.22" r="0.89" fill="#b6b6b6"/>
<circle cx="490.52" cy="343.67" r="1.17" fill="#888"/>
<circle cx="394.03" cy="293.83" r="1.02" fill="#888"/>
<circle cx="426.46" cy="346.03" r="1.08" fill="#929292"/>
<circle cx="423.42" cy="308.83" r="1.34" fill="#929292"/>
<circle cx="421.19" cy="353.26" r="1.43" fill="#8e8e8e"/>
<circle cx="391.21" cy="318.75" r="1.02" fill="#929292"/>
<circle cx="468.27" cy="290.11" r="0.86" fill="#b6b6b6"/>
<circle cx="460.3" cy="347.34" r="1.18" fill="#929292"/>
<circle cx="474.99" cy="349.47" r="1" fill="#b6b6b6"/>
<circle cx="416.16" cy="309.66" r="1.44" fill="#8e8e8e"/>
<circle cx="481.37" cy="356.34" r="0.81" fill="#929292"/>
<circle cx="427.4" cy="314.16" r="1" fill="#929292"/>
<circle cx="425.48" cy="343.29" r="1.02" fill="#8e8e8e"/>
<circle cx="427.08" cy="284.54" r="1.12" fill="#8e8e8e"/>
<circle cx="402.91" cy="301.37" r="0.89" fill="#888"/>
<circle cx="485" cy="293.61" r="1.38" fill="#8e8e8e"/>
<circle cx="472.25" cy="287.14" r="1.45" fill="#929292"/>
<circle cx="390.34" cy="354.95" r="1.36" fill="#8e8e8e"/>
<circle cx="476.42" cy="291.8" r="1.35" fill="#8e8e8e"/>
<circle cx="448.22" cy="324.44" r="1.17" fill="#b6b6b6"/>
<circle cx="412.01" cy="334.87" r="1.12" fill="#929292"/>
<circle cx="428.52" cy="361.49" r="1.39" fill="#888"/>
<circle cx="421.17" cy="298.15" r="0.91" fill="#888"/>
<circle cx="431.7" cy="310.02" r="1.47" fill="#888"/>
<circle cx="452.88" cy="293.72" r="0.87" fill="#888"/>
<circle cx="482.28" cy="319.61" r="0.93" fill="#929292"/>
<circle cx="488.75" cy="327.71" r="1.13" fill="#b6b6b6"/>
<circle cx="489.96" cy="319.09" r="1.41" fill="#8e8e8e"/>
<circle cx="483.62" cy="296.38" r="0.93" fill="#888"/>
<circle cx="386.43" cy="304.89" r="1.13" fill="#888"/>
<circle cx="479.44" cy="303.93" r="1" fill="#929292"/>
<circle cx="443.42" cy="357.52" r="0.97" fill="#b6b6b6"/>
<circle cx="483.61" cy="311.9" r="0.96" fill="#929292"/>
<circle cx="420.27" cy="289.76" r="1.11" fill="#929292"/>
<circle cx="422.86" cy="318.58" r="1.2" fill="#888"/>
<circle cx="388.67" cy="295.93" r="0.82" fill="#b6b6b6"/>
<circle cx="452.07" cy="325.92" r="0.85" fill="#b6b6b6"/>
<circle cx="488.65" cy="355.2" r="1.33" fill="#888"/>
<circle cx="422.86" cy="358.19" r="1.25" fill="#888"/>
<circle cx="439.73" cy="331.45" r="1.3" fill="#888"/>
<circle cx="414.49" cy="350.37" r="1" fill="#888"/>
<circle cx="415.2" cy="328.94" r="1.07" fill="#8e8e8e"/>
<circle cx="479.34" cy="289.04" r="1.14" fill="#8e8e8e"/>
<circle cx="411.22" cy="344.21" r="1.47" fill="#929292"/>
<circle cx="399.83" cy="325.61" r="0.96" fill="#b6b6b6"/>
<circle cx="485.27" cy="331" r="1.26" fill="#b6b6b6"/>
<circle cx="451.29" cy="297.22" r="1.22" fill="#888"/>
<circle cx="486.72" cy="298.96" r="0.92" fill="#929292"/>
<circle cx="409.48" cy="342.61" r="1.47" fill="#929292"/>
<circle cx="444.2" cy="320.09" r="1.05" fill="#888"/>
<circle cx="434.79" cy="341.63" r="1.27" fill="#888"/>
<circle cx="489.31" cy="296.03" r="1.38" fill="#8e8e8e"/>
<circle cx="485.22" cy="352.52" r="0.9" fill="#8e8e8e"/>
<circle cx="438.41" cy="324.96" r="1.23" fill="#929292"/>
<circle cx="467.37" cy="354.89" r="1.2" fill="#888"/>
<circle cx="385.1" cy="330.79" r="1.48" fill="#929292"/>
<circle cx="450.6" cy="293.12" r="0.91" fill="#b6b6b6"/>
<circle cx="429.73" cy="297.89" r="1.48" fill="#888"/>
<circle cx="430.99" cy="350.97" r="1.01" fill="#888"/>
<circle cx="435.56" cy="300.32" r="0.99" fill="#888"/>
<circle cx="438.33" cy="342.26" r="1.22" fill="#8e8e8e"/>
<circle cx="414.22" cy="340.23" r="0.89" fill="#929292"/>
<circle cx="400.11" cy="283.19" r="1.44" fill="#888"/>
<circle cx="428.53" cy="355.61" r="1.27" fill="#b6b6b6"/>
<circle cx="487.35" cy="299.43" r="0.87" fill="#929292"/>
<circle cx="467.92" cy="294.65" r="1.03" fill="#8e8e8e"/>
<circle cx="478.05" cy="301.54" r="1.08" fill="#888"/>
<circle cx="474.22" cy="331.62" r="1.15" fill="#8e8e8e"/>
<circle cx="464.32" cy="290.53" r="1.43" fill="#b6b6b6"/>
<circle cx="488.79" cy="316.1" r="1.17" fill="#8e8e8e"/>
<circle cx="414.98" cy="341.19" r="1.22" fill="#929292"/>
<circle cx="426.53" cy="353.43" r="1.44" fill="#b6b6b6"/>
<circle cx="472.23" cy="290.52" r="1.13" fill="#888"/>
<circle cx="386.83" cy="345.38" r="1.34" fill="#929292"/>
<circle cx="451.85" cy="285.49" r="0.98" fill="#888"/>
<circle cx="448.07" cy="355.33" r="0.92" fill="#8e8e8e"/>
<circle cx="446.16" cy="330.01" r="0.88" fill="#b6b6b6"/>
<circle cx="464.03" cy="309.01" r="0.98" fill="#b6b6b6"/>
<circle cx="455" cy="359.56" r="0.9" fill="#888"/>
<circle cx="487.2" cy="351.62" r="1.3" fill="#929292"/>
<circle cx="425.7" cy="356.39" r="1.2" fill="#929292"/>
<circle cx="412.28" cy="360.65" r="1.02" fill="#929292"/>
<circle cx="488" cy="312.97" r="1.46" fill="#888"/>
<circle cx="405.23" cy="350.03" r="1.39" fill="#b6b6b6"/>
<circle cx="401.68" cy="333.33" r="0.82" fill="#888"/>
<circle cx="447.2" cy="334.1" r="1.27" fill="#8e8e8e"/>
<circle cx="443.95" cy="326.6" r="1.47" fill="#888"/>
<circle cx="456.37" cy="298.6" r="1.05" fill="#929292"/>
<circle cx="410.8" cy="318.01" r="0.97" fill="#929292"/>
<circle cx="476.16" cy="306.3" r="1.21" fill="#929292"/>
<circle cx="481.3" cy="287.15" r="1.5" fill="#888"/>
<circle cx="398.59" cy="355.07" r="1.08" fill="#888"/>
<circle cx="407.22" cy="291.79" r="1.01" fill="#929292"/>
<circle cx="487.81" cy="308.35" r="1.37" fill="#b6b6b6"/>
<circle cx="391.36" cy="319.13" r="1.1" fill="#b6b6b6"/>
<circle cx="477.51" cy="294.1" r="1.19" fill="#888"/>
<circle cx="465.25" cy="286.71" r="0.85" fill="#929292"/>
<circle cx="430" cy="295.69" r="1.22" fill="#b6b6b6"/>
<circle cx="414.24" cy="297.1" r="1.28" fill="#8e8e8e"/>
<circle cx="398.4" cy="284.79" r="0.94" fill="#929292"/>
<circle cx="449.42" cy="354.14" r="0.96" fill="#929292"/>
<circle cx="475.17" cy="332.84" r="1.1" fill="#b6b6b6"/>
<circle cx="460.15" cy="292.19" r="0.9" fill="#b6b6b6"/>
<circle cx="415.05" cy="295.42" r="1.13" fill="#888"/>
<circle cx="470.24" cy="292.19" r="1.48" fill="#b6b6b6"/>
<circle cx="388.59" cy="296.25" r="1.02" fill="#929292"/>
<circle cx="485.02" cy="331.06" r="1.08" fill="#8e8e8e"/>
<circle cx="415.59" cy="283.82" r="1.29" fill="#8e8e8e"/>
<circle cx="462.58" cy="337.95" r="0.93" fill="#888"/>
<circle cx="454.2" cy="337.61" r="0.96" fill="#888"/>
<circle cx="387.86" cy="330.72" r="0.81" fill="#8e8e8e"/>
<circle cx="447.47" cy="328.09" r="1.06" fill="#8e8e8e"/>
<circle cx="405.22" cy="291.91" r="1.31" fill="#8e8e8e"/>
<circle cx="444.67" cy="284.78" r="1.08" fill="#b6b6b6"/>
<circle cx="487.19" cy="291.81" r="0.91" fill="#929292"/>
<circle cx="489.7" cy="291.49" r="0.97" fill="#8e8e8e"/>
<circle cx="390.78" cy="309.29" r="1.34" fill="#b6b6b6"/>
<circle cx="461.22" cy="294.61" r="1.45" fill="#929292"/>
<circle cx="405.21" cy="350.41" r="0.94" fill="#b6b6b6"/>
<circle cx="425.95" cy="306.23" r="1.4" fill="#888"/>
<circle cx="427.48" cy="318.72" r="1.32" fill="#929292"/>
<circle cx="487.6" cy="343.41" r="1.45" fill="#888"/>
<circle cx="422.1" cy="303.46" r="1.36" fill="#888"/>
<circle cx="414.11" cy="295.44" r="1.26" fill="#8e8e8e"/>
<circle cx="438.49" cy="334.29" r="1.29" fill="#b6b6b6"/>
<circle cx="419.79" cy="358.2" r="1.34" fill="#929292"/>
<circle cx="420.59" cy="353.3" r="0.9" fill="#8e8e8e"/>
<circle cx="462.26" cy="329.61" r="0.86" fill="#b6b6b6"/>
<circle cx="394.73" cy="321.46" r="1.23" fill="#929292"/>
<circle cx="431.46" cy="311.83" r="1.09" fill="#b6b6b6"/>
<circle cx="479.64" cy="312.6" r="1.01" fill="#888"/>
<circle cx="389.2" cy="349.63" r="1.1" fill="#8e8e8e"/>
<circle cx="461.97" cy="299.58" r="0.98" fill="#b6b6b6"/>
<circle cx="444.8" cy="341.23" r="0.94" fill="#8e8e8e"/>
<circle cx="468.51" cy="291.25" r="1.34" fill="#b6b6b6"/>
<circle cx="441.87" cy="340.23" r="1.14" fill="#888"/>
<circle cx="389.12" cy="330.66" r="1.37" fill="#888"/>
<circle cx="438.81" cy="325.96" r="1.47" fill="#888"/>
<circle cx="435.06" cy="314.78" r="1.45" fill="#b6b6b6"/>
<circle cx="476.24" cy="289.81" r="1.4" fill="#888"/>
<circle cx="410.24" cy="306.72" r="1.2" fill="#b6b6b6"/>
<circle cx="443.92" cy="290.53" r="1.33" fill="#b6b6b6"/>
<circle cx="472.56" cy="314.63" r="0.86" fill="#888"/>
<circle cx="447.65" cy="357.09" r="1.2" fill="#888"/>
<circle cx="410.39" cy="351.63" r="0.8" fill="#888"/>
<circle cx="489.8" cy="303.96" r="1.33" fill="#888"/>
<circle cx="386.3" cy="348.97" r="1.09" fill="#929292"/>
<circle cx="398.03" cy="318.66" r="1.29" fill="#929292"/>
<circle cx="413.81" cy="353.28" r="1.23" fill="#8e8e8e"/>
<circle cx="477.81" cy="322.56" r="0.88" fill="#888"/>
<circle cx="416.01" cy="359.92" r="1.25" fill="#b6b6b6"/>
<circle cx="488.4" cy="329.28" r="1.4" fill="#b6b6b6"/>
<circle cx="416.84" cy="329.76" r="1.01" fill="#8e8e8e"/>
<circle cx="398.51" cy="294.59" r="1.1" fill="#8e8e8e"/>
<circle cx="390.06" cy="349.44" r="1.41" fill="#b6b6b6"/>
<circle cx="431.8" cy="294.38" r="1.34" fill="#8e8e8e"/>
<circle cx="390.21" cy="322.15" r="1.23" fill="#929292"/>
<circle cx="418.21" cy="289.92" r="0.83" fill="#8e8e8e"/>
<circle cx="423.37" cy="343.7" r="1.07" fill="#888"/>
<circle cx="438.18" cy="348.53" r="1.28" fill="#8e8e8e"/>
<circle cx="474.2" cy="351.11" r="1.29" fill="#929292"/>
<circle cx="421.19" cy="352.3" r="1.28" fill="#8e8e8e"/>
<circle cx="474.35" cy="362.16" r="1.01" fill="#8e8e8e"/>
<circle cx="418.59" cy="338.79" r="1.49" fill="#8e8e8e"/>
<circle cx="400.69" cy="340.63" r="1.21" fill="#929292"/>
<circle cx="480.75" cy="307.36" r="1.22" fill="#8e8e8e"/>
<circle cx="387.01" cy="312.73" r="1.2" fill="#b6b6b6"/>
<circle cx="416.27" cy="303.38" r="1.11" fill="#8e8e8e"/>
<circle cx="474.53" cy="327.45" r="1.01" fill="#929292"/>
<circle cx="404.32" cy="314.17" r="0.88" fill="#888"/>
<circle cx="440.45" cy="346.17" r="1.02" fill="#b6b6b6"/>
<circle cx="438.16" cy="314.46" r="1.27" fill="#b6b6b6"/>
<circle cx="436.93" cy="298.31" r="0.99" fill="#929292"/>
<circle cx="410.32" cy="321.3" r="1.06" fill="#8e8e8e"/>
<circle cx="401.21" cy="345.51" r="0.92" fill="#8e8e8e"/>
<circle cx="458" cy="327.05" r="1.5" fill="#b6b6b6"/>
<circle cx="479.99" cy="306.2" r="1.06" fill="#8e8e8e"/>
<circle cx="485.42" cy="309.77" r="1.31" fill="#8e8e8e"/>
<circle cx="460.27" cy="310.18" r="1.45" fill="#8e8e8e"/>
<circle cx="389.88" cy="321.43" r="1.48" fill="#929292"/>
<circle cx="392.96" cy="350.15" r="0.98" fill="#888"/>
<circle cx="393.11" cy="344.75" r="1.31" fill="#929292"/>
<circle cx="473.67" cy="289.63" r="0.83" fill="#888"/>
<circle cx="465.65" cy="320.88" r="1.12" fill="#8e8e8e"/>
<circle cx="387.05" cy="340.4" r="1.37" fill="#929292"/>
<circle cx="407.62" cy="311.5" r="1.18" fill="#8e8e8e"/>
<circle cx="465.58" cy="298.43" r="1.19" fill="#b6b6b6"/>
<circle cx="410.95" cy="300.55" r="1.22" fill="#888"/>
<circle cx="485.45" cy="345.26" r="1.38" fill="#b6b6b6"/>
<circle cx="427.48" cy="323.67" r="1.45" fill="#929292"/>
<circle cx="477.15" cy="314.82" r="0.86" fill="#929292"/>
<circle cx="413.24" cy="310.36" r="1.41" fill="#929292"/>
<circle cx="414.17" cy="308.78" r="1.12" fill="#8e8e8e"/>
<circle cx="412.96" cy="344.13" r="1.01" fill="#8e8e8e"/>
<circle cx="438.27" cy="324.4" r="0.98" fill="#8e8e8e"/>
<circle cx="453.62" cy="315.79" r="1.1" fill="#8e8e8e"/>
<circle cx="472.15" cy="304.08" r="1" fill="#8e8e8e"/>
<circle cx="399.52" cy="285.21" r="1.06" fill="#b6b6b6"/>
<circle cx="408.72" cy="296.44" r="1.49" fill="#888"/>
<circle cx="428.91" cy="318.43" r="1.25" fill="#b6b6b6"/>
<circle cx="403.37" cy="300.35" r="1.45" fill="#b6b6b6"/>
<circle cx="386.39" cy="306.16" r="1.19" fill="#929292"/>
<circle cx="387.27" cy="328.39" r="1.32" fill="#8e8e8e"/>
<circle cx="468" cy="324.68" r="1.44" fill="#b6b6b6"/>
<circle cx="483.1" cy="285.21" r="1.3" fill="#b6b6b6"/>
<circle cx="466.61" cy="358.4" r="1.02" fill="#b6b6b6"/>
<circle cx="419.04" cy="359.3" r="1.28" fill="#8e8e8e"/>
<circle cx="411.9" cy="327.74" r="1.4" fill="#929292"/>
<circle cx="410.97" cy="291.85" r="1.14" fill="#929292"/>
<circle cx="411.75" cy="356.03" r="1.05" fill="#b6b6b6"/>
<circle cx="478.88" cy="317.15" r="1.45" fill="#888"/>
<circle cx="425.04" cy="362.22" r="1.29" fill="#8e8e8e"/>
<circle cx="477.42" cy="296.93" r="1.24" fill="#b6b6b6"/>
<circle cx="390.86" cy="317.72" r="1.23" fill="#929292"/>
<circle cx="446.46" cy="338.57" r="1.1" fill="#888"/>
<circle cx="419.39" cy="297.37" r="1.12" fill="#929292"/>
<circle cx="427.71" cy="311.16" r="0.88" fill="#b6b6b6"/>
<circle cx="444.31" cy="346.07" r="0.97" fill="#888"/>
<circle cx="478.51" cy="350.28" r="1.18" fill="#b6b6b6"/>
<circle cx="415.69" cy="325.52" r="0.84" fill="#b6b6b6"/>
<circle cx="487.34" cy="297.21" r="0.96" fill="#8e8e8e"/>
<circle cx="409.44" cy="340.49" r="1.48" fill="#888"/>
<circle cx="431.35" cy="315.28" r="0.86" fill="#b6b6b6"/>
<circle cx="439.58" cy="351.82" r="1.01" fill="#929292"/>
<circle cx="423.53" cy="293.14" r="0.96" fill="#b6b6b6"/>
<circle cx="439.43" cy="311.61" r="1.31" fill="#888"/>
<circle cx="477.51" cy="289.48" r="1.16" fill="#888"/>
<circle cx="426.44" cy="289.7" r="1.48" fill="#8e8e8e"/>
<circle cx="396.4" cy="296.27" r="1.48" fill="#8e8e8e"/>
<circle cx="431.36" cy="349.21" r="1.47" fill="#b6b6b6"/>
<circle cx="394.24" cy="310.26" r="1.12" fill="#888"/>
<circle cx="458.88" cy="325.5" r="1.28" fill="#8e8e8e"/>
<circle cx="478.02" cy="350.82" r="1.12" fill="#888"/>
<circle cx="398.11" cy="337.71" r="1.48" fill="#8e8e8e"/>
<circle cx="422.82" cy="360.27" r="1.21" fill="#8e8e8e"/>
<circle cx="447.42" cy="353" r="1.41" fill="#888"/>
<circle cx="436.58" cy="321.5" r="1.06" fill="#8e8e8e"/>
<circle cx="470.7" cy="285.26" r="1.44" fill="#b6b6b6"/>
<circle cx="427.71" cy="292.97" r="1.48" fill="#b6b6b6"/>
<circle cx="449.14" cy="307.71" r="0.94" fill="#888"/>
<circle cx="473.41" cy="294.55" r="1.24" fill="#929292"/>
<circle cx="471.85" cy="294.06" r="1.07" fill="#888"/>
<circle cx="445.88" cy="329.65" r="1.02" fill="#8e8e8e"/>
<circle cx="439.84" cy="292.9" r="0.81" fill="#929292"/>
<circle cx="402.12" cy="360.31" r="1.04" fill="#929292"/>
<circle cx="399.17" cy="311.96" r="1.41" fill="#b6b6b6"/>
</g>
<clipPath id="clip23"><rect x="385.1" y="283" width="105.7" height="79.3"/></clipPath>
<g clip-path="url(#clip23)">
<circle cx="482.86" cy="358.22" r="1.34" fill="#222"/>
<circle cx="386.9" cy="307.32" r="1.03" fill="#3c3c3c"/>
<circle cx="398.87" cy="298.23" r="1.07" fill="#2e2e2e"/>
<circle cx="450.65" cy="354.5" r="0.86" fill="#5c5c5c"/>
<circle cx="437.76" cy="284.55" r="1.18" fill="#505050"/>
<circle cx="423.05" cy="287.56" r="1.27" fill="#444"/>
<circle cx="424.11" cy="296.63" r="0.93" fill="#5c5c5c"/>
<circle cx="423.45" cy="343.25" r="1.02" fill="#444"/>
<circle cx="414.83" cy="360.29" r="1.14" fill="#505050"/>
<circle cx="403.88" cy="321.31" r="1.27" fill="#5c5c5c"/>
<circle cx="453" cy="297.43" r="0.91" fill="#3c3c3c"/>
<circle cx="456.28" cy="324.24" r="1.15" fill="#222"/>
<circle cx="395.52" cy="286.09" r="0.97" fill="#444"/>
<circle cx="414.76" cy="329.78" r="0.87" fill="#3c3c3c"/>
<circle cx="442.41" cy="353.94" r="1.07" fill="#2e2e2e"/>
<circle cx="412.41" cy="291.5" r="1.27" fill="#5c5c5c"/>
<circle cx="469.14" cy="322.1" r="1" fill="#2e2e2e"/>
<circle cx="482.21" cy="330" r="1.37" fill="#2e2e2e"/>
<circle cx="432.59" cy="285.68" r="1.18" fill="#505050"/>
<circle cx="387.57" cy="347.2" r="1.21" fill="#2e2e2e"/>
<circle cx="470.18" cy="358.24" r="1.12" fill="#505050"/>
<circle cx="464.27" cy="310.45" r="1.38" fill="#505050"/>
<circle cx="436.96" cy="285.93" r="0.96" fill="#444"/>
<circle cx="405.89" cy="357.03" r="1.37" fill="#2e2e2e"/>
<circle cx="394.79" cy="327.12" r="1.19" fill="#5c5c5c"/>
<circle cx="442.56" cy="347.46" r="0.95" fill="#505050"/>
<circle cx="402.53" cy="283.93" r="1.26" fill="#5c5c5c"/>
<circle cx="479.42" cy="347.53" r="1.34" fill="#5c5c5c"/>
<circle cx="470.77" cy="288.52" r="1.38" fill="#5c5c5c"/>
<circle cx="463.93" cy="326.28" r="1.06" fill="#3c3c3c"/>
<circle cx="466.67" cy="327.18" r="1.13" fill="#3c3c3c"/>
<circle cx="396.56" cy="333.06" r="1" fill="#444"/>
<circle cx="462.13" cy="317.14" r="0.9" fill="#5c5c5c"/>
<circle cx="393.41" cy="327.57" r="1.13" fill="#2e2e2e"/>
<circle cx="478.85" cy="358.94" r="1.28" fill="#5c5c5c"/>
<circle cx="413.86" cy="309.82" r="0.81" fill="#2e2e2e"/>
<circle cx="464.29" cy="314.86" r="1.28" fill="#222"/>
<circle cx="403.4" cy="318.63" r="1.05" fill="#222"/>
<circle cx="429.49" cy="304.99" r="1.16" fill="#444"/>
<circle cx="461.25" cy="297.09" r="1.12" fill="#3c3c3c"/>
<circle cx="480.1" cy="289.85" r="1.33" fill="#505050"/>
<circle cx="424.99" cy="284.42" r="1.07" fill="#505050"/>
<circle cx="415.92" cy="308.35" r="1.01" fill="#3c3c3c"/>
<circle cx="414.03" cy="356.76" r="0.9" fill="#222"/>
<circle cx="429.45" cy="347.75" r="1.09" fill="#444"/>
<circle cx="478.47" cy="325.73" r="1.21" fill="#505050"/>
<circle cx="408.06" cy="303.93" r="1.31" fill="#444"/>
<circle cx="424.32" cy="332.2" r="1.39" fill="#3c3c3c"/>
<circle cx="444.93" cy="318.06" r="1.31" fill="#3c3c3c"/>
<circle cx="467.84" cy="291.83" r="1.26" fill="#444"/>
<circle cx="452.13" cy="286.38" r="1.28" fill="#3c3c3c"/>
<circle cx="406.28" cy="327.83" r="1.17" fill="#222"/>
<circle cx="404.16" cy="323.37" r="1.17" fill="#3c3c3c"/>
<circle cx="416.08" cy="289.21" r="1.35" fill="#5c5c5c"/>
<circle cx="449.05" cy="286.25" r="0.87" fill="#5c5c5c"/>
<circle cx="404.4" cy="284.51" r="1.17" fill="#2e2e2e"/>
<circle cx="483.63" cy="306.36" r="1.34" fill="#3c3c3c"/>
<circle cx="445.33" cy="344.12" r="1.29" fill="#444"/>
<circle cx="465.42" cy="291.12" r="0.82" fill="#3c3c3c"/>
<circle cx="394.88" cy="350.96" r="0.92" fill="#505050"/>
<circle cx="489.96" cy="343.07" r="0.93" fill="#444"/>
<circle cx="475.9" cy="317.58" r="1.02" fill="#5c5c5c"/>
<circle cx="408.29" cy="327.48" r="1.24" fill="#505050"/>
<circle cx="478.8" cy="360.83" r="1.39" fill="#2e2e2e"/>
<circle cx="422.79" cy="360.87" r="0.99" fill="#222"/>
<circle cx="437.06" cy="310.78" r="0.93" fill="#5c5c5c"/>
<circle cx="441.66" cy="299.7" r="1.04" fill="#222"/>
<circle cx="389.4" cy="341.36" r="1.08" fill="#2e2e2e"/>
<circle cx="447.39" cy="315.86" r="0.95" fill="#3c3c3c"/>
<circle cx="388.81" cy="306.49" r="1.29" fill="#505050"/>
<circle cx="471.96" cy="328.65" r="1.38" fill="#444"/>
<circle cx="480.08" cy="333.06" r="1.29" fill="#2e2e2e"/>
<circle cx="482.22" cy="360.82" r="1.2" fill="#505050"/>
<circle cx="488.81" cy="319.19" r="0.8" fill="#5c5c5c"/>
<circle cx="425.52" cy="287.53" r="0.82" fill="#505050"/>
<circle cx="422.12" cy="357.78" r="1.2" fill="#5c5c5c"/>
<circle cx="477.47" cy="340.03" r="0.89" fill="#222"/>
<circle cx="464.5" cy="347.36" r="1.08" fill="#222"/>
<circle cx="483.17" cy="316.58" r="1.21" fill="#5c5c5c"/>
<circle cx="469.52" cy="292.31" r="0.81" fill="#444"/>
<circle cx="449.2" cy="325.15" r="0.92" fill="#3c3c3c"/>
<circle cx="467.85" cy="307.76" r="1.22" fill="#505050"/>
<circle cx="437.24" cy="326.29" r="1.27" fill="#3c3c3c"/>
<circle cx="420.85" cy="341.6" r="0.93" fill="#5c5c5c"/>
<circle cx="445.32" cy="354.46" r="0.89" fill="#5c5c5c"/>
<circle cx="467.62" cy="294.08" r="1.36" fill="#5c5c5c"/>
<circle cx="482.44" cy="359.89" r="0.87" fill="#444"/>
<circle cx="393.49" cy="289.45" r="1.28" fill="#5c5c5c"/>
<circle cx="435.5" cy="357.26" r="0.82" fill="#3c3c3c"/>
<circle cx="413.86" cy="328.43" r="1.4" fill="#5c5c5c"/>
<circle cx="385.83" cy="355.95" r="1.35" fill="#5c5c5c"/>
<circle cx="462.45" cy="288.62" r="1.29" fill="#2e2e2e"/>
<circle cx="473.4" cy="321.76" r="1.24" fill="#2e2e2e"/>
<circle cx="412.58" cy="356.47" r="1.16" fill="#505050"/>
<circle cx="465.34" cy="328.15" r="1.14" fill="#222"/>
<circle cx="452.36" cy="294.05" r="1.28" fill="#3c3c3c"/>
<circle cx="453.37" cy="357.58" r="1.13" fill="#505050"/>
<circle cx="385.99" cy="322.38" r="1.07" fill="#3c3c3c"/>
<circle cx="455.98" cy="331.53" r="1.3" fill="#2e2e2e"/>
<circle cx="417.57" cy="349.71" r="0.87" fill="#2e2e2e"/>
<circle cx="399.88" cy="329.25" r="1.39" fill="#444"/>
<circle cx="473.73" cy="342.65" r="0.92" fill="#2e2e2e"/>
<circle cx="440.31" cy="325.56" r="1.16" fill="#2e2e2e"/>
<circle cx="473.8" cy="304.11" r="1.16" fill="#444"/>
<circle cx="461.01" cy="358.48" r="1.35" fill="#2e2e2e"/>
<circle cx="397.27" cy="317.12" r="0.84" fill="#5c5c5c"/>
<circle cx="438.03" cy="361" r="1.26" fill="#222"/>
<circle cx="460.27" cy="294.71" r="1.18" fill="#505050"/>
<circle cx="433.67" cy="295.65" r="1.13" fill="#2e2e2e"/>
<circle cx="420.54" cy="327.71" r="1.38" fill="#222"/>
<circle cx="467.11" cy="341.38" r="0.89" fill="#444"/>
<circle cx="424.5" cy="285.49" r="0.82" fill="#222"/>
<circle cx="402.33" cy="353.58" r="1.01" fill="#2e2e2e"/>
<circle cx="434.17" cy="344.79" r="1" fill="#222"/>
<circle cx="469.85" cy="355.21" r="1.27" fill="#222"/>
<circle cx="427.78" cy="335.85" r="1.03" fill="#5c5c5c"/>
<circle cx="386.87" cy="327.84" r="1.19" fill="#222"/>
<circle cx="387.61" cy="351.07" r="1.27" fill="#5c5c5c"/>
<circle cx="400.6" cy="350.5" r="1.2" fill="#5c5c5c"/>
<circle cx="451.3" cy="359.42" r="1.37" fill="#5c5c5c"/>
<circle cx="485.34" cy="338.49" r="1.05" fill="#2e2e2e"/>
<circle cx="441.1" cy="324.45" r="1.37" fill="#5c5c5c"/>
<circle cx="470.89" cy="328.17" r="1.18" fill="#444"/>
<circle cx="427.42" cy="341.64" r="1.16" fill="#505050"/>
<circle cx="461.74" cy="340.65" r="1.29" fill="#3c3c3c"/>
<circle cx="468.27" cy="326.51" r="1.33" fill="#505050"/>
<circle cx="422.19" cy="356.43" r="1.27" fill="#5c5c5c"/>
<circle cx="465.1" cy="289.26" r="0.91" fill="#222"/>
<circle cx="449.54" cy="301.04" r="1.39" fill="#505050"/>
<circle cx="479.71" cy="349" r="1.16" fill="#5c5c5c"/>
<circle cx="440.45" cy="303.67" r="1.37" fill="#2e2e2e"/>
<circle cx="487.96" cy="337.5" r="1.39" fill="#2e2e2e"/>
<circle cx="437.08" cy="308.48" r="1.26" fill="#505050"/>
<circle cx="420.99" cy="326.09" r="1.15" fill="#5c5c5c"/>
<circle cx="390.54" cy="312.75" r="0.99" fill="#5c5c5c"/>
<circle cx="397.43" cy="287.89" r="0.87" fill="#222"/>
<circle cx="476.83" cy="305.53" r="0.88" fill="#2e2e2e"/>
<circle cx="395.79" cy="336.13" r="1" fill="#444"/>
<circle cx="476.83" cy="347.33" r="1.35" fill="#444"/>
<circle cx="406.82" cy="327.82" r="1.04" fill="#444"/>
<circle cx="463.98" cy="305.38" r="1.1" fill="#5c5c5c"/>
<circle cx="468.04" cy="340.92" r="1.31" fill="#505050"/>
<circle cx="442.29" cy="333.79" r="0.83" fill="#505050"/>
<circle cx="386.51" cy="311.66" r="1.27" fill="#5c5c5c"/>
<circle cx="431.53" cy="301.21" r="1.33" fill="#5c5c5c"/>
<circle cx="460.64" cy="338.83" r="0.97" fill="#444"/>
<circle cx="405.61" cy="307.43" r="1.09" fill="#222"/>
<circle cx="470.34" cy="303.29" r="1.11" fill="#2e2e2e"/>
<circle cx="474.77" cy="361.63" r="1.05" fill="#2e2e2e"/>
<circle cx="397.34" cy="299.3" r="1.03" fill="#222"/>
<circle cx="476.93" cy="292.57" r="1.24" fill="#3c3c3c"/>
<circle cx="404.13" cy="348.96" r="0.94" fill="#2e2e2e"/>
<circle cx="385.85" cy="337.26" r="1.11" fill="#505050"/>
<circle cx="394.15" cy="297.02" r="0.92" fill="#222"/>
<circle cx="470.17" cy="354.34" r="0.84" fill="#222"/>
<circle cx="385.42" cy="312.45" r="1.24" fill="#222"/>
<circle cx="439.58" cy="338.47" r="1.15" fill="#5c5c5c"/>
<circle cx="466.03" cy="353.31" r="0.93" fill="#222"/>
<circle cx="466.71" cy="293.54" r="0.86" fill="#2e2e2e"/>
<circle cx="396.56" cy="362.23" r="1.37" fill="#222"/>
<circle cx="458.52" cy="317.91" r="0.96" fill="#505050"/>
<circle cx="438.82" cy="347.27" r="0.83" fill="#222"/>
<circle cx="443.64" cy="296.56" r="0.99" fill="#444"/>
<circle cx="435.36" cy="348.13" r="1.14" fill="#2e2e2e"/>
<circle cx="418.18" cy="329.01" r="0.82" fill="#444"/>
<circle cx="443.1" cy="335.83" r="1.3" fill="#2e2e2e"/>
<circle cx="436.6" cy="289.95" r="1.28" fill="#5c5c5c"/>
<circle cx="472.42" cy="333.5" r="1.2" fill="#5c5c5c"/>
<circle cx="418.12" cy="345.34" r="0.93" fill="#2e2e2e"/>
<circle cx="453.97" cy="285.73" r="0.84" fill="#3c3c3c"/>
<circle cx="427.04" cy="328.36" r="1.21" fill="#2e2e2e"/>
<circle cx="446.4" cy="354.23" r="0.9" fill="#2e2e2e"/>
<circle cx="429.93" cy="291.74" r="0.85" fill="#444"/>
<circle cx="455.32" cy="321.08" r="0.85" fill="#222"/>
<circle cx="440.58" cy="351.73" r="0.94" fill="#3c3c3c"/>
<circle cx="470.38" cy="296.95" r="1.24" fill="#222"/>
<circle cx="459.72" cy="360.64" r="1.11" fill="#2e2e2e"/>
<circle cx="406.69" cy="295.27" r="0.88" fill="#444"/>
<circle cx="401.67" cy="354.52" r="1.24" fill="#505050"/>
<circle cx="401.85" cy="340.7" r="0.81" fill="#2e2e2e"/>
<circle cx="479.39" cy="316.96" r="1.14" fill="#3c3c3c"/>
<circle cx="400.65" cy="356.56" r="0.82" fill="#444"/>
<circle cx="448.5" cy="321.26" r="0.94" fill="#444"/>
<circle cx="471.17" cy="318.7" r="1.13" fill="#222"/>
<circle cx="395.74" cy="310.6" r="1.28" fill="#444"/>
<circle cx="479.82" cy="309.9" r="1.25" fill="#3c3c3c"/>
<circle cx="486.71" cy="336.97" r="1" fill="#2e2e2e"/>
<circle cx="386.82" cy="328" r="1.07" fill="#444"/>
<circle cx="410.77" cy="290.24" r="1.16" fill="#222"/>
<circle cx="467.89" cy="312.61" r="0.93" fill="#444"/>
<circle cx="394.95" cy="313.33" r="0.87" fill="#2e2e2e"/>
<circle cx="418.83" cy="337.81" r="0.95" fill="#3c3c3c"/>
<circle cx="398.72" cy="302.59" r="1.08" fill="#5c5c5c"/>
<circle cx="417.5" cy="304.62" r="0.99" fill="#505050"/>
<circle cx="481.17" cy="301.77" r="1.16" fill="#5c5c5c"/>
<circle cx="430.76" cy="328.36" r="1.1" fill="#444"/>
<circle cx="477.03" cy="336.56" r="1.23" fill="#444"/>
<circle cx="467.98" cy="330.24" r="1.04" fill="#2e2e2e"/>
<circle cx="426.57" cy="320.59" r="1.16" fill="#222"/>
<circle cx="448.35" cy="347.36" r="0.8" fill="#444"/>
<circle cx="404.56" cy="352.09" r="0.88" fill="#505050"/>
<circle cx="462.04" cy="313.87" r="1.35" fill="#444"/>
<circle cx="464.55" cy="333.65" r="1.26" fill="#3c3c3c"/>
<circle cx="459.15" cy="343.34" r="1.22" fill="#2e2e2e"/>
<circle cx="453.27" cy="358.63" r="1.03" fill="#2e2e2e"/>
<circle cx="397.39" cy="342.34" r="0.88" fill="#3c3c3c"/>
<circle cx="482.11" cy="313.5" r="1.05" fill="#444"/>
<circle cx="393.36" cy="358.35" r="1.4" fill="#2e2e2e"/>
<circle cx="459.46" cy="284.75" r="0.96" fill="#2e2e2e"/>
<circle cx="444.83" cy="294.77" r="1.16" fill="#3c3c3c"/>
<circle cx="423.38" cy="342.34" r="0.94" fill="#3c3c3c"/>
<circle cx="475.43" cy="322.37" r="1.29" fill="#505050"/>
<circle cx="436.89" cy="341.42" r="1.32" fill="#5c5c5c"/>
<circle cx="434.09" cy="322.61" r="0.85" fill="#2e2e2e"/>
<circle cx="428.77" cy="353.18" r="1.21" fill="#3c3c3c"/>
<circle cx="443.24" cy="286.53" r="1.23" fill="#222"/>
<circle cx="413.27" cy="336.92" r="1.19" fill="#444"/>
<circle cx="397.44" cy="332.28" r="1.35" fill="#444"/>
<circle cx="422.46" cy="320.19" r="1.12" fill="#3c3c3c"/>
<circle cx="398.34" cy="300.55" r="1.22" fill="#444"/>
<circle cx="386.34" cy="307.52" r="0.81" fill="#5c5c5c"/>
<circle cx="469.94" cy="300.67" r="0.81" fill="#222"/>
<circle cx="439.65" cy="324.64" r="1.07" fill="#444"/>
<circle cx="454.26" cy="335.47" r="1.1" fill="#505050"/>
<circle cx="472.83" cy="306.43" r="1.21" fill="#222"/>
<circle cx="421.02" cy="329.38" r="1.19" fill="#444"/>
<circle cx="423.07" cy="312.96" r="1.07" fill="#2e2e2e"/>
<circle cx="400.07" cy="297.37" r="0.86" fill="#444"/>
<circle cx="412.68" cy="321.98" r="1.26" fill="#222"/>
<circle cx="395.75" cy="348.31" r="0.96" fill="#505050"/>
<circle cx="451.9" cy="311.94" r="1.38" fill="#5c5c5c"/>
<circle cx="408.45" cy="310.78" r="1.38" fill="#5c5c5c"/>
<circle cx="405.7" cy="345.72" r="1.03" fill="#5c5c5c"/>
<circle cx="392.63" cy="357.38" r="1.17" fill="#505050"/>
<circle cx="389.88" cy="289.53" r="1.1" fill="#3c3c3c"/>
<circle cx="404.58" cy="345.17" r="0.89" fill="#3c3c3c"/>
<circle cx="434.72" cy="283.51" r="0.99" fill="#222"/>
<circle cx="437.13" cy="311.25" r="1.39" fill="#5c5c5c"/>
<circle cx="434.14" cy="305.71" r="0.94" fill="#444"/>
<circle cx="467.76" cy="288.7" r="1.24" fill="#222"/>
<circle cx="487.8" cy="301.78" r="1.2" fill="#444"/>
<circle cx="488.21" cy="336.16" r="1.31" fill="#505050"/>
<circle cx="414.19" cy="318.96" r="0.83" fill="#2e2e2e"/>
<circle cx="484.26" cy="291.3" r="0.89" fill="#444"/>
<circle cx="490.45" cy="309.08" r="1.31" fill="#3c3c3c"/>
<circle cx="418.64" cy="353.74" r="0.82" fill="#2e2e2e"/>
<circle cx="478.52" cy="330.36" r="1.23" fill="#444"/>
<circle cx="476.58" cy="293.75" r="1.05" fill="#2e2e2e"/>
<circle cx="469.76" cy="345.35" r="1.04" fill="#3c3c3c"/>
<circle cx="410.68" cy="323.24" r="0.97" fill="#444"/>
<circle cx="465.52" cy="309.22" r="0.99" fill="#505050"/>
<circle cx="421.1" cy="305.55" r="0.93" fill="#222"/>
<circle cx="478.53" cy="351.95" r="1.1" fill="#2e2e2e"/>
<circle cx="389.13" cy="323.47" r="1.23" fill="#505050"/>
<circle cx="397.53" cy="337.85" r="0.9" fill="#2e2e2e"/>
<circle cx="483.05" cy="347.88" r="1.33" fill="#505050"/>
<circle cx="424.18" cy="332.65" r="1.08" fill="#444"/>
<circle cx="465.36" cy="321.66" r="1" fill="#3c3c3c"/>
<circle cx="444.42" cy="288.41" r="0.84" fill="#222"/>
<circle cx="422.8" cy="312.7" r="1.39" fill="#5c5c5c"/>
<circle cx="418.46" cy="355.18" r="1.25" fill="#505050"/>
<circle cx="449" cy="304.62" r="0.97" fill="#3c3c3c"/>
<circle cx="448.1" cy="326.68" r="1.22" fill="#505050"/>
<circle cx="404.01" cy="345.09" r="1.09" fill="#2e2e2e"/>
<circle cx="402.84" cy="330.15" r="1.01" fill="#444"/>
<circle cx="480.58" cy="322.69" r="1.18" fill="#505050"/>
<circle cx="461.55" cy="300.17" r="1.29" fill="#444"/>
<circle cx="438.05" cy="286.2" r="1.29" fill="#222"/>
<circle cx="389.86" cy="359.51" r="1.36" fill="#2e2e2e"/>
<circle cx="432.59" cy="317.88" r="1.12" fill="#5c5c5c"/>
<circle cx="403.98" cy="325.92" r="0.9" fill="#222"/>
<circle cx="480.13" cy="291.67" r="0.81" fill="#5c5c5c"/>
<circle cx="386.59" cy="347.25" r="0.89" fill="#5c5c5c"/>
<circle cx="467.45" cy="304.07" r="1.3" fill="#3c3c3c"/>
<circle cx="390.95" cy="305.79" r="1.06" fill="#5c5c5c"/>
<circle cx="393.93" cy="340.74" r="1.15" fill="#2e2e2e"/>
<circle cx="397.25" cy="305.23" r="1.26" fill="#2e2e2e"/>
<circle cx="438.92" cy="326.21" r="1.01" fill="#5c5c5c"/>
<circle cx="416.12" cy="311.62" r="0.9" fill="#3c3c3c"/>
<circle cx="449.79" cy="303.93" r="1.08" fill="#505050"/>
<circle cx="410.75" cy="347.07" r="1.31" fill="#3c3c3c"/>
<circle cx="434.77" cy="354.82" r="1.03" fill="#3c3c3c"/>
<circle cx="450.75" cy="342.78" r="0.99" fill="#3c3c3c"/>
<circle cx="423.55" cy="339.77" r="0.88" fill="#2e2e2e"/>
<circle cx="442.1" cy="298.13" r="0.85" fill="#222"/>
<circle cx="406.65" cy="290.8" r="1.07" fill="#444"/>
<circle cx="470.9" cy="325.38" r="1.19" fill="#505050"/>
<circle cx="422.8" cy="291.68" r="1.24" fill="#5c5c5c"/>
<circle cx="400.71" cy="307.62" r="1.21" fill="#5c5c5c"/>
<circle cx="418.86" cy="283.1" r="1.02" fill="#5c5c5c"/>
<circle cx="442.79" cy="348.04" r="0.89" fill="#505050"/>
<circle cx="386.16" cy="326.01" r="1.2" fill="#505050"/>
<circle cx="468.18" cy="332.47" r="1.09" fill="#505050"/>
<circle cx="464.91" cy="289.1" r="1.06" fill="#2e2e2e"/>
<circle cx="431.75" cy="356.66" r="1.1" fill="#505050"/>
<circle cx="480.73" cy="307.13" r="0.85" fill="#5c5c5c"/>
<circle cx="471.04" cy="291.01" r="1.23" fill="#2e2e2e"/>
<circle cx="447.05" cy="351.27" r="1.23" fill="#444"/>
<circle cx="435.26" cy="360.18" r="0.99" fill="#3c3c3c"/>
<circle cx="470.95" cy="331.64" r="0.99" fill="#222"/>
<circle cx="410.65" cy="339.4" r="1.12" fill="#222"/>
<circle cx="441.18" cy="285.06" r="1.15" fill="#5c5c5c"/>
<circle cx="442.82" cy="319.21" r="1.26" fill="#2e2e2e"/>
<circle cx="401.12" cy="344.56" r="0.93" fill="#505050"/>
<circle cx="458.97" cy="344.54" r="0.86" fill="#222"/>
<circle cx="405.83" cy="336.67" r="1.1" fill="#222"/>
<circle cx="485.57" cy="284.45" r="1.25" fill="#5c5c5c"/>
<circle cx="425.71" cy="347.63" r="0.91" fill="#444"/>
<circle cx="453.36" cy="334.13" r="1.24" fill="#3c3c3c"/>
<circle cx="411.98" cy="285.49" r="0.9" fill="#5c5c5c"/>
<circle cx="420.01" cy="304.81" r="1.13" fill="#505050"/>
<circle cx="387.75" cy="356.43" r="1.14" fill="#444"/>
<circle cx="462.3" cy="358.18" r="1.32" fill="#444"/>
<circle cx="442.07" cy="346.32" r="0.89" fill="#505050"/>
<circle cx="451.11" cy="309.37" r="0.89" fill="#444"/>
<circle cx="447.01" cy="351.12" r="1.29" fill="#5c5c5c"/>
<circle cx="464.16" cy="354.34" r="1.26" fill="#505050"/>
<circle cx="430.75" cy="316.4" r="1.37" fill="#222"/>
<circle cx="434.63" cy="336.75" r="0.86" fill="#222"/>
<circle cx="458.94" cy="285.08" r="1.17" fill="#222"/>
<circle cx="434.68" cy="359.12" r="1.32" fill="#505050"/>
<circle cx="421.69" cy="292.46" r="1.39" fill="#505050"/>
<circle cx="387.15" cy="361.58" r="1.13" fill="#444"/>
<circle cx="406.56" cy="302.33" r="0.82" fill="#222"/>
<circle cx="487.14" cy="347.7" r="0.98" fill="#505050"/>
<circle cx="386.76" cy="329.15" r="1.09" fill="#222"/>
<circle cx="440.99" cy="296.38" r="1.14" fill="#222"/>
<circle cx="444.19" cy="288.52" r="1.26" fill="#222"/>
<circle cx="464.92" cy="323.05" r="0.9" fill="#505050"/>
<circle cx="490.39" cy="330.83" r="1.27" fill="#505050"/>
<circle cx="445.96" cy="327.23" r="1.06" fill="#5c5c5c"/>
<circle cx="469.99" cy="351.55" r="0.86" fill="#2e2e2e"/>
<circle cx="408.21" cy="321.66" r="1.28" fill="#444"/>
<circle cx="454.92" cy="283.17" r="1.28" fill="#2e2e2e"/>
<circle cx="398.4" cy="298.58" r="0.93" fill="#2e2e2e"/>
<circle cx="427.48" cy="308.55" r="1.09" fill="#3c3c3c"/>
<circle cx="434.2" cy="325.85" r="1.21" fill="#3c3c3c"/>
<circle cx="487.92" cy="339" r="1.1" fill="#222"/>
<circle cx="421.8" cy="313.6" r="1.38" fill="#5c5c5c"/>
<circle cx="411.41" cy="309.16" r="1.34" fill="#222"/>
<circle cx="451.5" cy="360.25" r="1" fill="#5c5c5c"/>
<circle cx="452.61" cy="356.33" r="1.37" fill="#444"/>
<circle cx="466.14" cy="329.24" r="1.23" fill="#444"/>
<circle cx="426.36" cy="318.39" r="1.17" fill="#5c5c5c"/>
<circle cx="428.89" cy="318.7" r="1.17" fill="#505050"/>
<circle cx="438.98" cy="313.24" r="0.99" fill="#222"/>
<circle cx="435.5" cy="317.86" r="1.18" fill="#2e2e2e"/>
<circle cx="424.48" cy="359.85" r="1.04" fill="#222"/>
<circle cx="457.88" cy="356.8" r="1.19" fill="#2e2e2e"/>
<circle cx="393.46" cy="283.21" r="1.38" fill="#3c3c3c"/>
<circle cx="411.53" cy="324.44" r="0.88" fill="#2e2e2e"/>
<circle cx="440.59" cy="309.06" r="1.15" fill="#5c5c5c"/>
<circle cx="469.9" cy="316.96" r="0.86" fill="#222"/>
<circle cx="426.1" cy="349.91" r="1.33" fill="#5c5c5c"/>
<circle cx="476.52" cy="319.08" r="1.05" fill="#505050"/>
<circle cx="489.65" cy="298.74" r="0.92" fill="#505050"/>
<circle cx="435.75" cy="284.48" r="1.14" fill="#222"/>
<circle cx="391.24" cy="304.25" r="1" fill="#3c3c3c"/>
<circle cx="433.52" cy="343.26" r="1.39" fill="#222"/>
<circle cx="431.12" cy="324.06" r="1.13" fill="#3c3c3c"/>
<circle cx="474.75" cy="284.03" r="1.21" fill="#5c5c5c"/>
<circle cx="472.58" cy="357.29" r="1.32" fill="#505050"/>
<circle cx="469.22" cy="287.3" r="1.29" fill="#5c5c5c"/>
<circle cx="419.27" cy="343.04" r="0.83" fill="#3c3c3c"/>
<circle cx="386.8" cy="322.52" r="0.99" fill="#3c3c3c"/>
<circle cx="486.19" cy="283.68" r="1.35" fill="#444"/>
<circle cx="455.74" cy="361.76" r="1.04" fill="#444"/>
<circle cx="395.13" cy="323.02" r="1.31" fill="#3c3c3c"/>
<circle cx="449.09" cy="296.93" r="0.82" fill="#5c5c5c"/>
<circle cx="483.65" cy="327.64" r="0.98" fill="#3c3c3c"/>
<circle cx="481.41" cy="307.38" r="1.23" fill="#3c3c3c"/>
<circle cx="470.82" cy="359.75" r="1.02" fill="#505050"/>
<circle cx="413.3" cy="360.9" r="1.34" fill="#505050"/>
<circle cx="438.84" cy="283.62" r="1.04" fill="#5c5c5c"/>
<circle cx="450.51" cy="299.84" r="1.01" fill="#3c3c3c"/>
<circle cx="434.5" cy="296.38" r="1.24" fill="#444"/>
<circle cx="420.18" cy="294.18" r="0.96" fill="#5c5c5c"/>
<circle cx="415.44" cy="359.86" r="0.87" fill="#222"/>
<circle cx="439.51" cy="322.99" r="1.33" fill="#505050"/>
<circle cx="427.4" cy="342.32" r="1.2" fill="#2e2e2e"/>
<circle cx="404.81" cy="343.71" r="0.97" fill="#3c3c3c"/>
<circle cx="400.88" cy="358.12" r="1.23" fill="#505050"/>
<circle cx="403.34" cy="289.11" r="0.96" fill="#222"/>
<circle cx="427.98" cy="288.76" r="0.92" fill="#505050"/>
<circle cx="398.67" cy="316.01" r="0.84" fill="#505050"/>
<circle cx="487.02" cy="353.89" r="1.2" fill="#2e2e2e"/>
<circle cx="438.28" cy="349.24" r="1.2" fill="#505050"/>
<circle cx="428.86" cy="335.09" r="0.92" fill="#444"/>
<circle cx="472.32" cy="324.04" r="1.21" fill="#444"/>
<circle cx="393.47" cy="332.1" r="0.92" fill="#505050"/>
<circle cx="415.67" cy="351.83" r="1.1" fill="#3c3c3c"/>
<circle cx="466.71" cy="310.17" r="1.24" fill="#505050"/>
<circle cx="439" cy="324.7" r="1.08" fill="#505050"/>
<circle cx="465.93" cy="349.85" r="1.36" fill="#3c3c3c"/>
<circle cx="482.23" cy="295.93" r="0.85" fill="#5c5c5c"/>
<circle cx="483.01" cy="340.73" r="0.85" fill="#444"/>
<circle cx="421.6" cy="342.35" r="1.27" fill="#505050"/>
<circle cx="448.77" cy="311.5" r="1.21" fill="#222"/>
<circle cx="455.17" cy="319.5" r="0.88" fill="#5c5c5c"/>
<circle cx="391.71" cy="345.47" r="1.12" fill="#3c3c3c"/>
<circle cx="394.88" cy="336.72" r="1.27" fill="#3c3c3c"/>
<circle cx="447.08" cy="307.35" r="1.01" fill="#222"/>
<circle cx="399.72" cy="297.62" r="0.81" fill="#3c3c3c"/>
<circle cx="473.49" cy="310.85" r="0.97" fill="#444"/>
<circle cx="402.89" cy="330.65" r="1.38" fill="#2e2e2e"/>
<circle cx="406.04" cy="355.75" r="1.13" fill="#444"/>
<circle cx="446.4" cy="349.13" r="1.33" fill="#222"/>
<circle cx="448.36" cy="310.32" r="0.88" fill="#3c3c3c"/>
<circle cx="404.53" cy="331.03" r="0.89" fill="#5c5c5c"/>
<circle cx="417.2" cy="301.14" r="1.09" fill="#3c3c3c"/>
<circle cx="417.37" cy="318.75" r="1.35" fill="#3c3c3c"/>
<circle cx="386.95" cy="347.93" r="1.39" fill="#3c3c3c"/>
<circle cx="427.67" cy="316.67" r="1.06" fill="#3c3c3c"/>
<circle cx="440.82" cy="327.33" r="1.17" fill="#3c3c3c"/>
<circle cx="431.73" cy="351.88" r="1.33" fill="#222"/>
<circle cx="452.73" cy="360.81" r="0.88" fill="#444"/>
<circle cx="464.93" cy="313.19" r="1.3" fill="#2e2e2e"/>
<circle cx="386.31" cy="334.87" r="1.07" fill="#5c5c5c"/>
<circle cx="433.98" cy="299.4" r="1.05" fill="#3c3c3c"/>
<circle cx="478.89" cy="311.7" r="1" fill="#2e2e2e"/>
<circle cx="479.05" cy="296.36" r="1.16" fill="#2e2e2e"/>
<circle cx="432.4" cy="314.72" r="0.94" fill="#5c5c5c"/>
<circle cx="428.47" cy="318.24" r="0.83" fill="#444"/>
<circle cx="395.74" cy="328.64" r="1.33" fill="#505050"/>
<circle cx="428.74" cy="328.93" r="0.91" fill="#222"/>
<circle cx="397.43" cy="331.24" r="1.34" fill="#505050"/>
<circle cx="435.03" cy="331.38" r="0.91" fill="#3c3c3c"/>
<circle cx="404.55" cy="299.37" r="1.14" fill="#5c5c5c"/>
<circle cx="451.31" cy="283.51" r="0.94" fill="#3c3c3c"/>
<circle cx="479.03" cy="288.77" r="1.13" fill="#444"/>
<circle cx="455.41" cy="331.25" r="1.11" fill="#505050"/>
<circle cx="410.66" cy="306.6" r="0.94" fill="#3c3c3c"/>
<circle cx="429.91" cy="337.15" r="0.87" fill="#505050"/>
<circle cx="474.63" cy="317.23" r="1.24" fill="#505050"/>
<circle cx="387" cy="330.23" r="1.37" fill="#222"/>
<circle cx="455.26" cy="334.54" r="0.8" fill="#444"/>
<circle cx="422.33" cy="317.93" r="1.01" fill="#505050"/>
<circle cx="404.01" cy="303.52" r="1" fill="#3c3c3c"/>
<circle cx="435.79" cy="295.33" r="0.93" fill="#3c3c3c"/>
<circle cx="407.76" cy="319.04" r="0.82" fill="#5c5c5c"/>
<circle cx="461.48" cy="289.81" r="1.15" fill="#505050"/>
<circle cx="477.89" cy="344.29" r="0.94" fill="#2e2e2e"/>
<circle cx="487.55" cy="329.95" r="1.23" fill="#5c5c5c"/>
<circle cx="452.86" cy="325.66" r="0.84" fill="#5c5c5c"/>
<circle cx="428.94" cy="351" r="1.29" fill="#3c3c3c"/>
<circle cx="426.84" cy="297.46" r="1.21" fill="#2e2e2e"/>
<circle cx="397.18" cy="333.52" r="0.97" fill="#444"/>
<circle cx="470.12" cy="297.15" r="1.17" fill="#222"/>
<circle cx="485.96" cy="316.81" r="0.83" fill="#505050"/>
<circle cx="430.46" cy="338.56" r="1.28" fill="#222"/>
<circle cx="389" cy="298.56" r="0.97" fill="#444"/>
<circle cx="470.83" cy="360.9" r="1" fill="#444"/>
<circle cx="488.3" cy="296.44" r="1.38" fill="#505050"/>
<circle cx="467.22" cy="308.83" r="1.36" fill="#222"/>
<circle cx="474.12" cy="322.25" r="1.29" fill="#444"/>
<circle cx="413.65" cy="292.89" r="1.33" fill="#3c3c3c"/>
<circle cx="441.62" cy="295.99" r="1.11" fill="#2e2e2e"/>
<circle cx="420.43" cy="325" r="0.89" fill="#2e2e2e"/>
<circle cx="446.91" cy="336.58" r="1.01" fill="#3c3c3c"/>
<circle cx="441.23" cy="330.76" r="1.29" fill="#3c3c3c"/>
<circle cx="447.17" cy="315.45" r="1.16" fill="#222"/>
<circle cx="426.45" cy="326.21" r="0.92" fill="#444"/>
<circle cx="461.21" cy="309.01" r="0.95" fill="#3c3c3c"/>
<circle cx="446.78" cy="344.98" r="1.34" fill="#3c3c3c"/>
<circle cx="426.98" cy="341.71" r="1.06" fill="#5c5c5c"/>
<circle cx="477.27" cy="360.12" r="1.2" fill="#444"/>
<circle cx="399.18" cy="315.61" r="1.24" fill="#444"/>
<circle cx="450.63" cy="328.73" r="0.82" fill="#2e2e2e"/>
<circle cx="458.07" cy="337.6" r="0.95" fill="#3c3c3c"/>
<circle cx="418.29" cy="311.48" r="1.25" fill="#3c3c3c"/>
<circle cx="454.18" cy="330.63" r="0.99" fill="#3c3c3c"/>
<circle cx="412.05" cy="327.33" r="1.03" fill="#222"/>
<circle cx="480.51" cy="296.6" r="1" fill="#505050"/>
<circle cx="450.41" cy="297.6" r="0.85" fill="#3c3c3c"/>
<circle cx="439.64" cy="292.23" r="1.22" fill="#3c3c3c"/>
<circle cx="421.31" cy="345.55" r="1.11" fill="#2e2e2e"/>
<circle cx="398.9" cy="311.05" r="0.89" fill="#3c3c3c"/>
<circle cx="471.55" cy="283.87" r="1.21" fill="#505050"/>
<circle cx="418.13" cy="295.9" r="1.22" fill="#5c5c5c"/>
<circle cx="387.77" cy="295.5" r="1.26" fill="#3c3c3c"/>
<circle cx="387.68" cy="294.15" r="0.86" fill="#3c3c3c"/>
<circle cx="424.39" cy="284.39" r="1.2" fill="#3c3c3c"/>
<circle cx="414.86" cy="340.63" r="0.98" fill="#5c5c5c"/>
<circle cx="405.1" cy="295.91" r="1.3" fill="#3c3c3c"/>
<circle cx="420.64" cy="332.05" r="1.38" fill="#2e2e2e"/>
<circle cx="413" cy="313.62" r="0.88" fill="#444"/>
<circle cx="431.96" cy="323.99" r="1.1" fill="#5c5c5c"/>
<circle cx="418.15" cy="308.03" r="1.07" fill="#222"/>
<circle cx="467.72" cy="299.42" r="0.83" fill="#222"/>
<circle cx="454.67" cy="344" r="1.07" fill="#3c3c3c"/>
<circle cx="423.62" cy="343.96" r="1.18" fill="#5c5c5c"/>
<circle cx="459.59" cy="356.88" r="0.84" fill="#505050"/>
<circle cx="440.28" cy="286.23" r="1.21" fill="#505050"/>
<circle cx="480.68" cy="308.07" r="1.11" fill="#5c5c5c"/>
<circle cx="386.78" cy="302.27" r="0.99" fill="#505050"/>
<circle cx="420.32" cy="320.94" r="1.13" fill="#5c5c5c"/>
<circle cx="441.01" cy="305.92" r="0.9" fill="#505050"/>
<circle cx="389.64" cy="284.66" r="0.9" fill="#444"/>
<circle cx="418.43" cy="354.89" r="1.24" fill="#3c3c3c"/>
<circle cx="453.79" cy="336.51" r="1.29" fill="#5c5c5c"/>
<circle cx="400.53" cy="335.02" r="1.36" fill="#505050"/>
<circle cx="468.24" cy="288" r="1.37" fill="#5c5c5c"/>
<circle cx="388.67" cy="283.18" r="1.18" fill="#444"/>
<circle cx="438.2" cy="318.69" r="0.86" fill="#2e2e2e"/>
<circle cx="452.25" cy="345.33" r="1.39" fill="#505050"/>
<circle cx="482.07" cy="328.43" r="1.07" fill="#2e2e2e"/>
<circle cx="428.56" cy="343.88" r="1.34" fill="#222"/>
<circle cx="388.11" cy="360.95" r="0.91" fill="#444"/>
<circle cx="400.71" cy="325.78" r="0.87" fill="#444"/>
<circle cx="489.44" cy="352.05" r="1.4" fill="#3c3c3c"/>
<circle cx="397.45" cy="307.21" r="1.33" fill="#444"/>
<circle cx="419.99" cy="324.65" r="1.18" fill="#3c3c3c"/>
<circle cx="419.29" cy="289.47" r="0.97" fill="#5c5c5c"/>
<circle cx="490.69" cy="290.39" r="1.24" fill="#505050"/>
<circle cx="428.23" cy="353.02" r="1.04" fill="#505050"/>
<circle cx="443.5" cy="314.98" r="1.19" fill="#5c5c5c"/>
<circle cx="434.16" cy="306.51" r="1.08" fill="#2e2e2e"/>
<circle cx="481.11" cy="354.26" r="0.96" fill="#505050"/>
<circle cx="461.43" cy="332.26" r="0.85" fill="#222"/>
<circle cx="423.98" cy="338.64" r="0.88" fill="#505050"/>
<circle cx="402.58" cy="299.3" r="1.14" fill="#505050"/>
<circle cx="422.53" cy="328.96" r="1.36" fill="#2e2e2e"/>
<circle cx="464.88" cy="340.03" r="1.02" fill="#2e2e2e"/>
<circle cx="402.62" cy="309.5" r="0.83" fill="#222"/>
<circle cx="395.48" cy="305.35" r="1.15" fill="#3c3c3c"/>
<circle cx="484.76" cy="292.33" r="1.38" fill="#5c5c5c"/>
<circle cx="417.16" cy="334.85" r="1.03" fill="#5c5c5c"/>
<circle cx="392.78" cy="335.2" r="0.88" fill="#5c5c5c"/>
<circle cx="450.28" cy="294.34" r="1.31" fill="#444"/>
<circle cx="406.66" cy="286.66" r="1.26" fill="#3c3c3c"/>
<circle cx="396.24" cy="315.27" r="1.38" fill="#444"/>
<circle cx="410.32" cy="359.22" r="0.87" fill="#222"/>
<circle cx="488.47" cy="285.27" r="1.18" fill="#5c5c5c"/>
<circle cx="394.39" cy="317.96" r="1.24" fill="#222"/>
<circle cx="390.52" cy="340.08" r="1" fill="#444"/>
<circle cx="440.19" cy="316.05" r="1.28" fill="#444"/>
<circle cx="425.85" cy="349.42" r="0.89" fill="#505050"/>
<circle cx="406.11" cy="361.58" r="0.99" fill="#5c5c5c"/>
<circle cx="400.6" cy="323.02" r="0.94" fill="#222"/>
<circle cx="468.45" cy="341.02" r="0.9" fill="#3c3c3c"/>
<circle cx="390.72" cy="315.94" r="1.07" fill="#505050"/>
<circle cx="395.49" cy="345.54" r="1.2" fill="#3c3c3c"/>
<circle cx="470.42" cy="306.18" r="1.24" fill="#2e2e2e"/>
<circle cx="473.47" cy="315.99" r="0.85" fill="#5c5c5c"/>
<circle cx="469.86" cy="318.78" r="0.82" fill="#5c5c5c"/>
<circle cx="417.58" cy="294.75" r="1.12" fill="#505050"/>
<circle cx="477.46" cy="327.81" r="1.28" fill="#5c5c5c"/>
<circle cx="391.3" cy="330.35" r="0.84" fill="#3c3c3c"/>
<circle cx="427.62" cy="328.81" r="1.11" fill="#444"/>
<circle cx="488.89" cy="284.01" r="1.16" fill="#2e2e2e"/>
<circle cx="444.65" cy="353.44" r="1.38" fill="#3c3c3c"/>
<circle cx="482.31" cy="336.75" r="0.87" fill="#2e2e2e"/>
<circle cx="468.95" cy="298.38" r="1.3" fill="#2e2e2e"/>
<circle cx="404.66" cy="351.98" r="1.17" fill="#222"/>
<circle cx="469.09" cy="314.44" r="1.17" fill="#222"/>
<circle cx="467.03" cy="292.27" r="0.85" fill="#222"/>
<circle cx="452.72" cy="357.97" r="1.25" fill="#5c5c5c"/>
<circle cx="427.01" cy="314.35" r="1.08" fill="#222"/>
<circle cx="386.47" cy="291.48" r="1.25" fill="#5c5c5c"/>
<circle cx="385.96" cy="333.44" r="1.35" fill="#3c3c3c"/>
<circle cx="473.14" cy="356.82" r="1" fill="#505050"/>
<circle cx="404.85" cy="349.66" r="0.97" fill="#222"/>
<circle cx="447.41" cy="298.5" r="1.39" fill="#2e2e2e"/>
<circle cx="394.22" cy="339.28" r="1.05" fill="#2e2e2e"/>
<circle cx="398.41" cy="362.01" r="1.13" fill="#222"/>
<circle cx="392.58" cy="333.13" r="0.99" fill="#222"/>
<circle cx="444.74" cy="294.65" r="1.16" fill="#2e2e2e"/>
<circle cx="487.79" cy="287.16" r="1.09" fill="#505050"/>
<circle cx="448.93" cy="327.16" r="0.9" fill="#3c3c3c"/>
<circle cx="391.48" cy="308.48" r="1.15" fill="#444"/>
<circle cx="479.78" cy="297.2" r="1.05" fill="#222"/>
<circle cx="413.68" cy="314.97" r="1.35" fill="#505050"/>
<circle cx="390.33" cy="325.33" r="1.4" fill="#3c3c3c"/>
<circle cx="455.84" cy="286.03" r="0.89" fill="#2e2e2e"/>
<circle cx="459.65" cy="292" r="1.32" fill="#222"/>
<circle cx="428.31" cy="342.26" r="0.96" fill="#2e2e2e"/>
<circle cx="388.47" cy="293.59" r="0.8" fill="#2e2e2e"/>
<circle cx="391.44" cy="320.92" r="1.07" fill="#444"/>
<circle cx="438.8" cy="342.6" r="1.3" fill="#5c5c5c"/>
<circle cx="406.58" cy="303.18" r="0.83" fill="#2e2e2e"/>
</g>
<g clip-path="url(#clip11)">
<polygon transform="translate(301.2 295.3) rotate(135) scale(1)" points="0,4.7 -4.9,-4.2 -1.5,-4.3 0,-1.7 1.5,-4.3 4.9,-4.2" fill="#fff"/>
<polygon transform="translate(312.7 295.3) rotate(135) scale(1)" points="0,4.7 -4.9,-4.2 -1.5,-4.3 0,-1.7 1.5,-4.3 4.9,-4.2" fill="#fff"/>
<polygon transform="translate(331.2 296.2) rotate(135) scale(1)" points="0,4.7 -4.9,-4.2 -1.5,-4.3 0,-1.7 1.5,-4.3 4.9,-4.2" fill="#fff"/>
<polygon transform="translate(342.9 295.3) rotate(-135) scale(1)" points="0,4.7 -4.9,-4.2 -1.5,-4.3 0,-1.7 1.5,-4.3 4.9,-4.2" fill="#fff"/>
<polygon transform="translate(297.7 308) rotate(0) scale(1)" points="0,4.7 -4.9,-4.2 -1.5,-4.3 0,-1.7 1.5,-4.3 4.9,-4.2" fill="#fff"/>
<polygon transform="translate(309.2 305.7) rotate(0) scale(1)" points="0,4.7 -4.9,-4.2 -1.5,-4.3 0,-1.7 1.5,-4.3 4.9,-4.2" fill="#fff"/>
<polygon transform="translate(315.4 322.6) rotate(0) scale(1)" points="0,4.7 -4.9,-4.2 -1.5,-4.3 0,-1.7 1.5,-4.3 4.9,-4.2" fill="#fff"/>
<polygon transform="translate(374.6 301.3) rotate(45) scale(1)" points="0,4.7 -4.9,-4.2 -1.5,-4.3 0,-1.7 1.5,-4.3 4.9,-4.2" fill="#fff"/>
<polygon transform="translate(280.8 334.7) rotate(-135) scale(1)" points="0,4.7 -4.9,-4.2 -1.5,-4.3 0,-1.7 1.5,-4.3 4.9,-4.2" fill="#fff"/>
<polygon transform="translate(285.6 346.6) rotate(170) scale(1)" points="0,4.7 -4.9,-4.2 -1.5,-4.3 0,-1.7 1.5,-4.3 4.9,-4.2" fill="#fff"/>
<polygon transform="translate(321 341) rotate(0) scale(1)" points="0,4.7 -4.9,-4.2 -1.5,-4.3 0,-1.7 1.5,-4.3 4.9,-4.2" fill="#fff"/>
<polygon transform="translate(333.1 342.2) rotate(-135) scale(1)" points="0,4.7 -4.9,-4.2 -1.5,-4.3 0,-1.7 1.5,-4.3 4.9,-4.2" fill="#fff"/>
<polygon transform="translate(340.6 349.7) rotate(0) scale(1)" points="0,4.7 -4.9,-4.2 -1.5,-4.3 0,-1.7 1.5,-4.3 4.9,-4.2" fill="#fff"/>
<polygon transform="translate(347.5 332.4) rotate(-160) scale(1)" points="0,4.7 -4.9,-4.2 -1.5,-4.3 0,-1.7 1.5,-4.3 4.9,-4.2" fill="#fff"/>
<polygon transform="translate(361.3 339.3) rotate(-135) scale(1)" points="0,4.7 -4.9,-4.2 -1.5,-4.3 0,-1.7 1.5,-4.3 4.9,-4.2" fill="#fff"/>
<polygon transform="translate(376.3 333) rotate(0) scale(1)" points="0,4.7 -4.9,-4.2 -1.5,-4.3 0,-1.7 1.5,-4.3 4.9,-4.2" fill="#fff"/>
<polygon transform="translate(359 357.2) rotate(-135) scale(1)" points="0,4.7 -4.9,-4.2 -1.5,-4.3 0,-1.7 1.5,-4.3 4.9,-4.2" fill="#fff"/>
<polygon transform="translate(299.9 359) rotate(135) scale(1)" points="0,4.7 -4.9,-4.2 -1.5,-4.3 0,-1.7 1.5,-4.3 4.9,-4.2" fill="#fff"/>
</g>
<text x="358.25" y="393.25" font-size="9.95">Sickled cells %</text>
<line x1="326.75" y1="399.25" x2="326.75" y2="488.9" stroke="#222" stroke-width="1.1"/>
<line x1="326.25" y1="488.4" x2="455" y2="488.4" stroke="#222" stroke-width="1.1"/>
<line x1="323.45" y1="488.4" x2="326.75" y2="488.4" stroke="#222" stroke-width="1"/>
<text x="320.9" y="491.4" font-size="8.6" text-anchor="end">0.0</text>
<line x1="323.45" y1="471.14" x2="326.75" y2="471.14" stroke="#222" stroke-width="1"/>
<text x="320.9" y="474.14" font-size="8.6" text-anchor="end">0.2</text>
<line x1="323.45" y1="453.88" x2="326.75" y2="453.88" stroke="#222" stroke-width="1"/>
<text x="320.9" y="456.88" font-size="8.6" text-anchor="end">0.4</text>
<line x1="323.45" y1="436.62" x2="326.75" y2="436.62" stroke="#222" stroke-width="1"/>
<text x="320.9" y="439.62" font-size="8.6" text-anchor="end">0.6</text>
<line x1="323.45" y1="419.36" x2="326.75" y2="419.36" stroke="#222" stroke-width="1"/>
<text x="320.9" y="422.36" font-size="8.6" text-anchor="end">0.8</text>
<line x1="323.45" y1="402.1" x2="326.75" y2="402.1" stroke="#222" stroke-width="1"/>
<text x="320.9" y="405.1" font-size="8.6" text-anchor="end">1.0</text>
<rect x="333.9" y="405.3" width="3.2" height="3.2" fill="#d0d0d0" stroke="#080808" stroke-width="1.65"/>
<rect x="331.1" y="407.9" width="3.2" height="3.2" fill="#d0d0d0" stroke="#080808" stroke-width="1.65"/>
<rect x="336.9" y="411.7" width="3.2" height="3.2" fill="#d0d0d0" stroke="#080808" stroke-width="1.65"/>
<rect x="336.9" y="416.8" width="3.2" height="3.2" fill="#d0d0d0" stroke="#080808" stroke-width="1.65"/>
<rect x="331.1" y="422.5" width="3.2" height="3.2" fill="#d0d0d0" stroke="#080808" stroke-width="1.65"/>
<rect x="333.9" y="428.2" width="3.2" height="3.2" fill="#d0d0d0" stroke="#080808" stroke-width="1.65"/>
<rect x="331.1" y="432.1" width="3.2" height="3.2" fill="#d0d0d0" stroke="#080808" stroke-width="1.65"/>
<rect x="336.9" y="432.7" width="3.2" height="3.2" fill="#d0d0d0" stroke="#080808" stroke-width="1.65"/>
<rect x="333.9" y="431.4" width="3.2" height="3.2" fill="#d0d0d0" stroke="#080808" stroke-width="1.65"/>
<rect x="333.9" y="436.5" width="3.2" height="3.2" fill="#d0d0d0" stroke="#080808" stroke-width="1.65"/>
<line x1="335.5" y1="408.4" x2="335.5" y2="436" stroke="#0a0a0a" stroke-width="1.3"/>
<line x1="332.5" y1="408.4" x2="338.5" y2="408.4" stroke="#0a0a0a" stroke-width="1.3"/>
<line x1="332.5" y1="436" x2="338.5" y2="436" stroke="#0a0a0a" stroke-width="1.3"/>
<line x1="329.75" y1="422.8" x2="341.25" y2="422.8" stroke="#0a0a0a" stroke-width="1.4"/>
<rect x="352.17" y="430.8" width="3.2" height="3.2" fill="#d0d0d0" stroke="#080808" stroke-width="1.65"/>
<rect x="352.17" y="437.4" width="3.2" height="3.2" fill="#d0d0d0" stroke="#080808" stroke-width="1.65"/>
<rect x="348.97" y="444.7" width="3.2" height="3.2" fill="#d0d0d0" stroke="#080808" stroke-width="1.65"/>
<rect x="352.17" y="444.5" width="3.2" height="3.2" fill="#d0d0d0" stroke="#080808" stroke-width="1.65"/>
<rect x="355.27" y="444.7" width="3.2" height="3.2" fill="#d0d0d0" stroke="#080808" stroke-width="1.65"/>
<rect x="350.67" y="446.3" width="3.2" height="3.2" fill="#d0d0d0" stroke="#080808" stroke-width="1.65"/>
<rect x="353.87" y="446.3" width="3.2" height="3.2" fill="#d0d0d0" stroke="#080808" stroke-width="1.65"/>
<rect x="355.27" y="451.4" width="3.2" height="3.2" fill="#d0d0d0" stroke="#080808" stroke-width="1.65"/>
<rect x="348.97" y="454.4" width="3.2" height="3.2" fill="#d0d0d0" stroke="#080808" stroke-width="1.65"/>
<line x1="353.77" y1="440" x2="353.77" y2="452.1" stroke="#0a0a0a" stroke-width="1.3"/>
<line x1="350.77" y1="440" x2="356.77" y2="440" stroke="#0a0a0a" stroke-width="1.3"/>
<line x1="350.77" y1="452.1" x2="356.77" y2="452.1" stroke="#0a0a0a" stroke-width="1.3"/>
<line x1="348.02" y1="446.4" x2="359.52" y2="446.4" stroke="#0a0a0a" stroke-width="1.4"/>
<rect x="370.44" y="429.5" width="3.2" height="3.2" fill="#d0d0d0" stroke="#080808" stroke-width="1.65"/>
<rect x="370.44" y="441.6" width="3.2" height="3.2" fill="#d0d0d0" stroke="#080808" stroke-width="1.65"/>
<rect x="370.44" y="449.3" width="3.2" height="3.2" fill="#d0d0d0" stroke="#080808" stroke-width="1.65"/>
<rect x="367.24" y="460.7" width="3.2" height="3.2" fill="#d0d0d0" stroke="#080808" stroke-width="1.65"/>
<rect x="370.44" y="459.9" width="3.2" height="3.2" fill="#d0d0d0" stroke="#080808" stroke-width="1.65"/>
<rect x="373.64" y="462.2" width="3.2" height="3.2" fill="#d0d0d0" stroke="#080808" stroke-width="1.65"/>
<rect x="367.24" y="464.6" width="3.2" height="3.2" fill="#d0d0d0" stroke="#080808" stroke-width="1.65"/>
<rect x="370.44" y="465.6" width="3.2" height="3.2" fill="#d0d0d0" stroke="#080808" stroke-width="1.65"/>
<rect x="370.44" y="469.6" width="3.2" height="3.2" fill="#d0d0d0" stroke="#080808" stroke-width="1.65"/>
<rect x="370.44" y="474.7" width="3.2" height="3.2" fill="#d0d0d0" stroke="#080808" stroke-width="1.65"/>
<line x1="372.04" y1="444.5" x2="372.04" y2="471.9" stroke="#0a0a0a" stroke-width="1.3"/>
<line x1="369.04" y1="444.5" x2="375.04" y2="444.5" stroke="#0a0a0a" stroke-width="1.3"/>
<line x1="369.04" y1="471.9" x2="375.04" y2="471.9" stroke="#0a0a0a" stroke-width="1.3"/>
<line x1="366.29" y1="458.5" x2="377.79" y2="458.5" stroke="#0a0a0a" stroke-width="1.4"/>
<rect x="385.51" y="416.6" width="3.2" height="3.2" fill="#d0d0d0" stroke="#080808" stroke-width="1.65"/>
<rect x="392.01" y="416.6" width="3.2" height="3.2" fill="#d0d0d0" stroke="#080808" stroke-width="1.65"/>
<rect x="388.71" y="422.4" width="3.2" height="3.2" fill="#d0d0d0" stroke="#080808" stroke-width="1.65"/>
<rect x="388.71" y="427.4" width="3.2" height="3.2" fill="#d0d0d0" stroke="#080808" stroke-width="1.65"/>
<rect x="385.51" y="435.4" width="3.2" height="3.2" fill="#d0d0d0" stroke="#080808" stroke-width="1.65"/>
<rect x="388.71" y="436.1" width="3.2" height="3.2" fill="#d0d0d0" stroke="#080808" stroke-width="1.65"/>
<rect x="392.01" y="435.7" width="3.2" height="3.2" fill="#d0d0d0" stroke="#080808" stroke-width="1.65"/>
<rect x="387.01" y="438.3" width="3.2" height="3.2" fill="#d0d0d0" stroke="#080808" stroke-width="1.65"/>
<rect x="390.61" y="438.3" width="3.2" height="3.2" fill="#d0d0d0" stroke="#080808" stroke-width="1.65"/>
<rect x="388.71" y="439.4" width="3.2" height="3.2" fill="#d0d0d0" stroke="#080808" stroke-width="1.65"/>
<line x1="390.31" y1="422.5" x2="390.31" y2="441.3" stroke="#0a0a0a" stroke-width="1.3"/>
<line x1="387.31" y1="422.5" x2="393.31" y2="422.5" stroke="#0a0a0a" stroke-width="1.3"/>
<line x1="387.31" y1="441.3" x2="393.31" y2="441.3" stroke="#0a0a0a" stroke-width="1.3"/>
<line x1="384.56" y1="431.9" x2="396.06" y2="431.9" stroke="#0a0a0a" stroke-width="1.4"/>
<rect x="404.38" y="428.1" width="3.2" height="3.2" fill="#d0d0d0" stroke="#080808" stroke-width="1.65"/>
<rect x="410.08" y="427" width="3.2" height="3.2" fill="#d0d0d0" stroke="#080808" stroke-width="1.65"/>
<rect x="404.38" y="433.2" width="3.2" height="3.2" fill="#d0d0d0" stroke="#080808" stroke-width="1.65"/>
<rect x="409.88" y="436.1" width="3.2" height="3.2" fill="#d0d0d0" stroke="#080808" stroke-width="1.65"/>
<rect x="406.98" y="444.7" width="3.2" height="3.2" fill="#d0d0d0" stroke="#080808" stroke-width="1.65"/>
<rect x="410.08" y="452" width="3.2" height="3.2" fill="#d0d0d0" stroke="#080808" stroke-width="1.65"/>
<rect x="404.08" y="454.1" width="3.2" height="3.2" fill="#d0d0d0" stroke="#080808" stroke-width="1.65"/>
<rect x="407.18" y="455.6" width="3.2" height="3.2" fill="#d0d0d0" stroke="#080808" stroke-width="1.65"/>
<rect x="407.18" y="464.2" width="3.2" height="3.2" fill="#d0d0d0" stroke="#080808" stroke-width="1.65"/>
<line x1="408.58" y1="432.6" x2="408.58" y2="458.6" stroke="#0a0a0a" stroke-width="1.3"/>
<line x1="405.58" y1="432.6" x2="411.58" y2="432.6" stroke="#0a0a0a" stroke-width="1.3"/>
<line x1="405.58" y1="458.6" x2="411.58" y2="458.6" stroke="#0a0a0a" stroke-width="1.3"/>
<line x1="402.83" y1="445.6" x2="414.33" y2="445.6" stroke="#0a0a0a" stroke-width="1.4"/>
<rect x="425.25" y="435.6" width="3.2" height="3.2" fill="#d0d0d0" stroke="#080808" stroke-width="1.65"/>
<rect x="422.35" y="443.3" width="3.2" height="3.2" fill="#d0d0d0" stroke="#080808" stroke-width="1.65"/>
<rect x="428.15" y="444.7" width="3.2" height="3.2" fill="#d0d0d0" stroke="#080808" stroke-width="1.65"/>
<rect x="422.35" y="452" width="3.2" height="3.2" fill="#d0d0d0" stroke="#080808" stroke-width="1.65"/>
<rect x="425.25" y="452" width="3.2" height="3.2" fill="#d0d0d0" stroke="#080808" stroke-width="1.65"/>
<rect x="428.15" y="452" width="3.2" height="3.2" fill="#d0d0d0" stroke="#080808" stroke-width="1.65"/>
<rect x="421.65" y="457.7" width="3.2" height="3.2" fill="#d0d0d0" stroke="#080808" stroke-width="1.65"/>
<rect x="425.25" y="458.4" width="3.2" height="3.2" fill="#d0d0d0" stroke="#080808" stroke-width="1.65"/>
<rect x="427.25" y="455.4" width="3.2" height="3.2" fill="#d0d0d0" stroke="#080808" stroke-width="1.65"/>
<rect x="425.25" y="465.7" width="3.2" height="3.2" fill="#d0d0d0" stroke="#080808" stroke-width="1.65"/>
<line x1="426.85" y1="444.2" x2="426.85" y2="461.5" stroke="#0a0a0a" stroke-width="1.3"/>
<line x1="423.85" y1="444.2" x2="429.85" y2="444.2" stroke="#0a0a0a" stroke-width="1.3"/>
<line x1="423.85" y1="461.5" x2="429.85" y2="461.5" stroke="#0a0a0a" stroke-width="1.3"/>
<line x1="421.1" y1="453.1" x2="432.6" y2="453.1" stroke="#0a0a0a" stroke-width="1.4"/>
<rect x="441.22" y="460.8" width="3.2" height="3.2" fill="#d0d0d0" stroke="#080808" stroke-width="1.65"/>
<rect x="446.12" y="462" width="3.2" height="3.2" fill="#d0d0d0" stroke="#080808" stroke-width="1.65"/>
<rect x="443.52" y="463.9" width="3.2" height="3.2" fill="#d0d0d0" stroke="#080808" stroke-width="1.65"/>
<rect x="440.22" y="465.7" width="3.2" height="3.2" fill="#d0d0d0" stroke="#080808" stroke-width="1.65"/>
<rect x="447.02" y="465.4" width="3.2" height="3.2" fill="#d0d0d0" stroke="#080808" stroke-width="1.65"/>
<rect x="443.52" y="467.4" width="3.2" height="3.2" fill="#d0d0d0" stroke="#080808" stroke-width="1.65"/>
<rect x="441.52" y="469" width="3.2" height="3.2" fill="#d0d0d0" stroke="#080808" stroke-width="1.65"/>
<rect x="446.12" y="469.6" width="3.2" height="3.2" fill="#d0d0d0" stroke="#080808" stroke-width="1.65"/>
<rect x="443.52" y="473.2" width="3.2" height="3.2" fill="#d0d0d0" stroke="#080808" stroke-width="1.65"/>
<line x1="445.12" y1="463.5" x2="445.12" y2="472.6" stroke="#0a0a0a" stroke-width="1.3"/>
<line x1="442.12" y1="463.5" x2="448.12" y2="463.5" stroke="#0a0a0a" stroke-width="1.3"/>
<line x1="442.12" y1="472.6" x2="448.12" y2="472.6" stroke="#0a0a0a" stroke-width="1.3"/>
<line x1="439.37" y1="468" x2="450.87" y2="468" stroke="#0a0a0a" stroke-width="1.4"/>
<text x="372.04" y="428.8" font-size="9" text-anchor="middle" font-weight="bold">***</text>
<text x="423.85" y="436.2" font-size="9" text-anchor="middle" font-weight="bold">*</text>
<text x="445.12" y="461.1" font-size="9" text-anchor="middle" font-weight="bold">***</text>
<line x1="372.5" y1="411.25" x2="389.5" y2="411.25" stroke="#111" stroke-width="1.2"/>
<text x="381.25" y="410.6" font-size="9" text-anchor="middle" font-weight="bold">**</text>
<line x1="392" y1="411.25" x2="446.75" y2="411.25" stroke="#111" stroke-width="1.2"/>
<text x="419.25" y="410.6" font-size="9" text-anchor="middle" font-weight="bold">***</text>
<line x1="335.5" y1="488.4" x2="335.5" y2="491.4" stroke="#222" stroke-width="1"/>
<text transform="translate(340.3 498.8) rotate(-45)" font-size="8.6" text-anchor="end">SCD-Ctrl</text>
<line x1="353.77" y1="488.4" x2="353.77" y2="491.4" stroke="#222" stroke-width="1"/>
<text transform="translate(358.57 498.8) rotate(-45)" font-size="8.6" text-anchor="end">5-AZA</text>
<line x1="372.04" y1="488.4" x2="372.04" y2="491.4" stroke="#222" stroke-width="1"/>
<text transform="translate(376.84 498.8) rotate(-45)" font-size="8.6" text-anchor="end">TCP</text>
<line x1="390.31" y1="488.4" x2="390.31" y2="491.4" stroke="#222" stroke-width="1"/>
<text transform="translate(395.11 498.8) rotate(-45)" font-size="8.6" text-anchor="end">HU</text>
<line x1="408.58" y1="488.4" x2="408.58" y2="491.4" stroke="#222" stroke-width="1"/>
<text transform="translate(413.38 498.8) rotate(-45)" font-size="8.6" text-anchor="end">Pom</text>
<line x1="426.85" y1="488.4" x2="426.85" y2="491.4" stroke="#222" stroke-width="1"/>
<text transform="translate(431.65 498.8) rotate(-45)" font-size="8.6" text-anchor="end">But</text>
<line x1="445.12" y1="488.4" x2="445.12" y2="491.4" stroke="#222" stroke-width="1"/>
<text transform="translate(449.92 498.8) rotate(-45)" font-size="8.6" text-anchor="end">pCL-ZF-Ldb1</text>
<rect x="254.6" y="594.5" width="238.65" height="47.8" fill="none" stroke="#222" stroke-width="1.1"/>
<line x1="254.6" y1="618.3" x2="493.25" y2="618.3" stroke="#222" stroke-width="1.1"/>
<line x1="325.75" y1="594.5" x2="325.75" y2="642.3" stroke="#222" stroke-width="1.1"/>
<line x1="349.5" y1="594.5" x2="349.5" y2="642.3" stroke="#222" stroke-width="1.1"/>
<line x1="373.25" y1="594.5" x2="373.25" y2="642.3" stroke="#222" stroke-width="1.1"/>
<line x1="397.5" y1="594.5" x2="397.5" y2="642.3" stroke="#222" stroke-width="1.1"/>
<line x1="421.75" y1="594.5" x2="421.75" y2="642.3" stroke="#222" stroke-width="1.1"/>
<line x1="445.75" y1="594.5" x2="445.75" y2="642.3" stroke="#222" stroke-width="1.1"/>
<line x1="469.5" y1="594.5" x2="469.5" y2="642.3" stroke="#222" stroke-width="1.1"/>
<text x="292.6" y="603.8" font-size="7.75" text-anchor="middle">Mean and SD of</text>
<text x="292" y="612.6" font-size="7.75" text-anchor="middle">sickled cell (%)</text>
<text x="292.2" y="633.3" font-size="7.75" text-anchor="middle">HbF (%)</text>
<text x="337.62" y="603.8" font-size="7.75" text-anchor="middle">0.76</text>
<text x="337.62" y="612.6" font-size="7.75" text-anchor="middle">±0.13</text>
<text x="337.62" y="633.3" font-size="7.75" text-anchor="middle">4.5</text>
<text transform="translate(337.73 590.2) rotate(-45)" font-size="7.7">SCD-Ctrl</text>
<text x="361.38" y="603.8" font-size="7.75" text-anchor="middle">0.49</text>
<text x="361.38" y="612.6" font-size="7.75" text-anchor="middle">±0.1</text>
<text x="361.38" y="633.3" font-size="7.75" text-anchor="middle">10.9</text>
<text transform="translate(361.48 590.2) rotate(-45)" font-size="7.7">5-AZA</text>
<text x="385.38" y="603.8" font-size="7.75" text-anchor="middle">0.35</text>
<text x="385.38" y="612.6" font-size="7.75" text-anchor="middle">±0.16</text>
<text x="385.38" y="633.3" font-size="7.75" text-anchor="middle">9.2</text>
<text transform="translate(385.48 590.2) rotate(-45)" font-size="7.7">TCP</text>
<text x="409.62" y="603.8" font-size="7.75" text-anchor="middle">0.65</text>
<text x="409.62" y="612.6" font-size="7.75" text-anchor="middle">±0.11</text>
<text x="409.62" y="633.3" font-size="7.75" text-anchor="middle">14.8</text>
<text transform="translate(409.73 590.2) rotate(-45)" font-size="7.7">HU</text>
<text x="433.75" y="603.8" font-size="7.75" text-anchor="middle">0.49</text>
<text x="433.75" y="612.6" font-size="7.75" text-anchor="middle">±0.15</text>
<text x="433.75" y="633.3" font-size="7.75" text-anchor="middle">10.8</text>
<text transform="translate(433.85 590.2) rotate(-45)" font-size="7.7">Pom</text>
<text x="457.62" y="603.8" font-size="7.75" text-anchor="middle">0.41</text>
<text x="457.62" y="612.6" font-size="7.75" text-anchor="middle">±0.1</text>
<text x="457.62" y="633.3" font-size="7.75" text-anchor="middle">15.3</text>
<text transform="translate(457.73 590.2) rotate(-45)" font-size="7.7">But</text>
<text x="481.38" y="603.8" font-size="7.75" text-anchor="middle">0.24</text>
<text x="481.38" y="612.6" font-size="7.75" text-anchor="middle">±0.05</text>
<text x="481.38" y="633.3" font-size="7.75" text-anchor="middle">45.6</text>
<text transform="translate(481.48 590.2) rotate(-45)" font-size="7.7">pCL-ZF-Ldb1</text>
</svg>
</body></html>
